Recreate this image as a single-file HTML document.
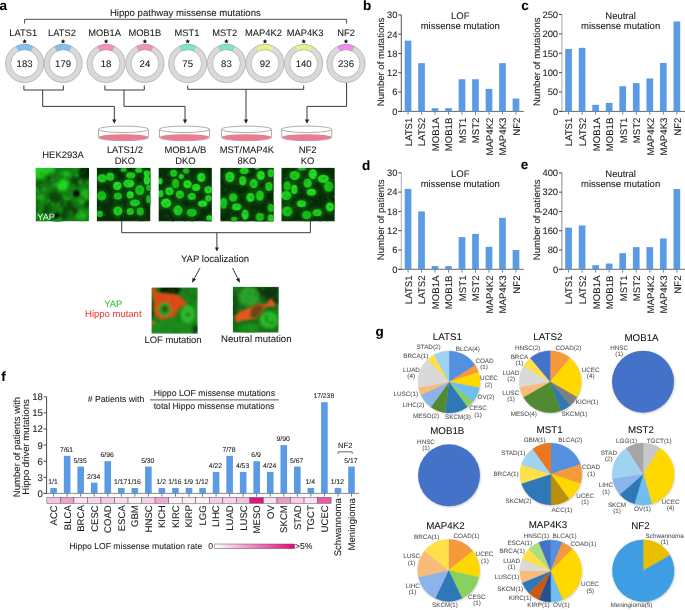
<!DOCTYPE html>
<html><head><meta charset="utf-8"><style>
html,body{margin:0;padding:0;background:#fff;overflow:hidden;}
svg{display:block;will-change:transform;}
text{font-family:"Liberation Sans",sans-serif;text-rendering:geometricPrecision;}
</style></head><body>
<svg width="685" height="610" viewBox="0 0 685 610">
<rect width="685" height="610" fill="#fff"/>
<text x="-0.60" y="9.80" font-size="13.5" text-anchor="start" fill="#000" stroke="#000" stroke-width="0.12" stroke-opacity="0.6" font-weight="bold">a</text>
<text x="185.35" y="16.20" font-size="9.6" text-anchor="middle" fill="#1a1a1a" stroke="#1a1a1a" stroke-width="0.12" stroke-opacity="0.6">Hippo pathway missense mutations</text>
<path d="M24.6,23.6 V19.3 H346.6 V23.6" stroke="#3a3a3a" stroke-width="0.9" fill="none"/>
<text x="23.20" y="36.30" font-size="9.35" text-anchor="middle" fill="#1a1a1a" stroke="#1a1a1a" stroke-width="0.12" stroke-opacity="0.6">LATS1</text>
<polygon points="24.60,38.90 25.22,40.55 26.98,40.63 25.60,41.72 26.07,43.42 24.60,42.45 23.13,43.42 23.60,41.72 22.22,40.63 23.98,40.55" fill="#111"/>
<circle cx="24.6" cy="63.5" r="16.48" fill="none" stroke="#d9d9d9" stroke-width="5.75"/>
<path d="M15.82,46.26 A19.35,19.35 0 0 1 33.38,46.26 L30.77,51.38 A13.6,13.6 0 0 0 18.43,51.38 Z" fill="#82c2f0"/>
<circle cx="24.6" cy="63.5" r="19.1" fill="none" stroke="#9a9a9a" stroke-width="0.5"/>
<circle cx="24.6" cy="63.5" r="13.85" fill="none" stroke="#9a9a9a" stroke-width="0.5"/>
<text x="24.60" y="66.60" font-size="9.6" text-anchor="middle" fill="#1a1a1a" stroke="#1a1a1a" stroke-width="0.12" stroke-opacity="0.6">183</text>
<text x="62.00" y="36.30" font-size="9.35" text-anchor="middle" fill="#1a1a1a" stroke="#1a1a1a" stroke-width="0.12" stroke-opacity="0.6">LATS2</text>
<polygon points="63.10,38.90 63.72,40.55 65.48,40.63 64.10,41.72 64.57,43.42 63.10,42.45 61.63,43.42 62.10,41.72 60.72,40.63 62.48,40.55" fill="#111"/>
<circle cx="63.1" cy="63.5" r="16.48" fill="none" stroke="#d9d9d9" stroke-width="5.75"/>
<path d="M54.32,46.26 A19.35,19.35 0 0 1 71.88,46.26 L69.27,51.38 A13.6,13.6 0 0 0 56.93,51.38 Z" fill="#82c2f0"/>
<circle cx="63.1" cy="63.5" r="19.1" fill="none" stroke="#9a9a9a" stroke-width="0.5"/>
<circle cx="63.1" cy="63.5" r="13.85" fill="none" stroke="#9a9a9a" stroke-width="0.5"/>
<text x="63.10" y="66.60" font-size="9.6" text-anchor="middle" fill="#1a1a1a" stroke="#1a1a1a" stroke-width="0.12" stroke-opacity="0.6">179</text>
<text x="104.60" y="36.30" font-size="9.35" text-anchor="middle" fill="#1a1a1a" stroke="#1a1a1a" stroke-width="0.12" stroke-opacity="0.6">MOB1A</text>
<polygon points="106.10,38.90 106.72,40.55 108.48,40.63 107.10,41.72 107.57,43.42 106.10,42.45 104.63,43.42 105.10,41.72 103.72,40.63 105.48,40.55" fill="#111"/>
<circle cx="106.1" cy="63.5" r="16.48" fill="none" stroke="#d9d9d9" stroke-width="5.75"/>
<path d="M97.32,46.26 A19.35,19.35 0 0 1 114.88,46.26 L112.27,51.38 A13.6,13.6 0 0 0 99.93,51.38 Z" fill="#f291bd"/>
<circle cx="106.1" cy="63.5" r="19.1" fill="none" stroke="#9a9a9a" stroke-width="0.5"/>
<circle cx="106.1" cy="63.5" r="13.85" fill="none" stroke="#9a9a9a" stroke-width="0.5"/>
<text x="106.10" y="66.60" font-size="9.6" text-anchor="middle" fill="#1a1a1a" stroke="#1a1a1a" stroke-width="0.12" stroke-opacity="0.6">18</text>
<text x="144.85" y="36.30" font-size="9.35" text-anchor="middle" fill="#1a1a1a" stroke="#1a1a1a" stroke-width="0.12" stroke-opacity="0.6">MOB1B</text>
<polygon points="144.90,38.90 145.52,40.55 147.28,40.63 145.90,41.72 146.37,43.42 144.90,42.45 143.43,43.42 143.90,41.72 142.52,40.63 144.28,40.55" fill="#111"/>
<circle cx="144.9" cy="63.5" r="16.48" fill="none" stroke="#d9d9d9" stroke-width="5.75"/>
<path d="M136.12,46.26 A19.35,19.35 0 0 1 153.68,46.26 L151.07,51.38 A13.6,13.6 0 0 0 138.73,51.38 Z" fill="#f291bd"/>
<circle cx="144.9" cy="63.5" r="19.1" fill="none" stroke="#9a9a9a" stroke-width="0.5"/>
<circle cx="144.9" cy="63.5" r="13.85" fill="none" stroke="#9a9a9a" stroke-width="0.5"/>
<text x="144.90" y="66.60" font-size="9.6" text-anchor="middle" fill="#1a1a1a" stroke="#1a1a1a" stroke-width="0.12" stroke-opacity="0.6">24</text>
<text x="187.00" y="36.30" font-size="9.35" text-anchor="middle" fill="#1a1a1a" stroke="#1a1a1a" stroke-width="0.12" stroke-opacity="0.6">MST1</text>
<polygon points="187.70,38.90 188.32,40.55 190.08,40.63 188.70,41.72 189.17,43.42 187.70,42.45 186.23,43.42 186.70,41.72 185.32,40.63 187.08,40.55" fill="#111"/>
<circle cx="187.7" cy="63.5" r="16.48" fill="none" stroke="#d9d9d9" stroke-width="5.75"/>
<path d="M178.92,46.26 A19.35,19.35 0 0 1 196.48,46.26 L193.87,51.38 A13.6,13.6 0 0 0 181.53,51.38 Z" fill="#7fe3c4"/>
<circle cx="187.7" cy="63.5" r="19.1" fill="none" stroke="#9a9a9a" stroke-width="0.5"/>
<circle cx="187.7" cy="63.5" r="13.85" fill="none" stroke="#9a9a9a" stroke-width="0.5"/>
<text x="187.70" y="66.60" font-size="9.6" text-anchor="middle" fill="#1a1a1a" stroke="#1a1a1a" stroke-width="0.12" stroke-opacity="0.6">75</text>
<text x="224.70" y="36.30" font-size="9.35" text-anchor="middle" fill="#1a1a1a" stroke="#1a1a1a" stroke-width="0.12" stroke-opacity="0.6">MST2</text>
<polygon points="226.40,38.90 227.02,40.55 228.78,40.63 227.40,41.72 227.87,43.42 226.40,42.45 224.93,43.42 225.40,41.72 224.02,40.63 225.78,40.55" fill="#111"/>
<circle cx="226.4" cy="63.5" r="16.48" fill="none" stroke="#d9d9d9" stroke-width="5.75"/>
<path d="M217.62,46.26 A19.35,19.35 0 0 1 235.18,46.26 L232.57,51.38 A13.6,13.6 0 0 0 220.23,51.38 Z" fill="#7fe3c4"/>
<circle cx="226.4" cy="63.5" r="19.1" fill="none" stroke="#9a9a9a" stroke-width="0.5"/>
<circle cx="226.4" cy="63.5" r="13.85" fill="none" stroke="#9a9a9a" stroke-width="0.5"/>
<text x="226.40" y="66.60" font-size="9.6" text-anchor="middle" fill="#1a1a1a" stroke="#1a1a1a" stroke-width="0.12" stroke-opacity="0.6">83</text>
<text x="263.40" y="36.30" font-size="9.35" text-anchor="middle" fill="#1a1a1a" stroke="#1a1a1a" stroke-width="0.12" stroke-opacity="0.6">MAP4K2</text>
<polygon points="265.00,38.90 265.62,40.55 267.38,40.63 266.00,41.72 266.47,43.42 265.00,42.45 263.53,43.42 264.00,41.72 262.62,40.63 264.38,40.55" fill="#111"/>
<circle cx="265.0" cy="63.5" r="16.48" fill="none" stroke="#d9d9d9" stroke-width="5.75"/>
<path d="M256.22,46.26 A19.35,19.35 0 0 1 273.78,46.26 L271.17,51.38 A13.6,13.6 0 0 0 258.83,51.38 Z" fill="#eaf08c"/>
<circle cx="265.0" cy="63.5" r="19.1" fill="none" stroke="#9a9a9a" stroke-width="0.5"/>
<circle cx="265.0" cy="63.5" r="13.85" fill="none" stroke="#9a9a9a" stroke-width="0.5"/>
<text x="265.00" y="66.60" font-size="9.6" text-anchor="middle" fill="#1a1a1a" stroke="#1a1a1a" stroke-width="0.12" stroke-opacity="0.6">92</text>
<text x="305.10" y="36.30" font-size="9.35" text-anchor="middle" fill="#1a1a1a" stroke="#1a1a1a" stroke-width="0.12" stroke-opacity="0.6">MAP4K3</text>
<polygon points="303.70,38.90 304.32,40.55 306.08,40.63 304.70,41.72 305.17,43.42 303.70,42.45 302.23,43.42 302.70,41.72 301.32,40.63 303.08,40.55" fill="#111"/>
<circle cx="303.7" cy="63.5" r="16.48" fill="none" stroke="#d9d9d9" stroke-width="5.75"/>
<path d="M294.92,46.26 A19.35,19.35 0 0 1 312.48,46.26 L309.87,51.38 A13.6,13.6 0 0 0 297.53,51.38 Z" fill="#eaf08c"/>
<circle cx="303.7" cy="63.5" r="19.1" fill="none" stroke="#9a9a9a" stroke-width="0.5"/>
<circle cx="303.7" cy="63.5" r="13.85" fill="none" stroke="#9a9a9a" stroke-width="0.5"/>
<text x="303.70" y="66.60" font-size="9.6" text-anchor="middle" fill="#1a1a1a" stroke="#1a1a1a" stroke-width="0.12" stroke-opacity="0.6">140</text>
<text x="346.20" y="36.30" font-size="9.35" text-anchor="middle" fill="#1a1a1a" stroke="#1a1a1a" stroke-width="0.12" stroke-opacity="0.6">NF2</text>
<polygon points="346.00,38.90 346.62,40.55 348.38,40.63 347.00,41.72 347.47,43.42 346.00,42.45 344.53,43.42 345.00,41.72 343.62,40.63 345.38,40.55" fill="#111"/>
<circle cx="346.0" cy="63.5" r="16.48" fill="none" stroke="#d9d9d9" stroke-width="5.75"/>
<path d="M337.22,46.26 A19.35,19.35 0 0 1 354.78,46.26 L352.17,51.38 A13.6,13.6 0 0 0 339.83,51.38 Z" fill="#ef8cef"/>
<circle cx="346.0" cy="63.5" r="19.1" fill="none" stroke="#9a9a9a" stroke-width="0.5"/>
<circle cx="346.0" cy="63.5" r="13.85" fill="none" stroke="#9a9a9a" stroke-width="0.5"/>
<text x="346.00" y="66.60" font-size="9.6" text-anchor="middle" fill="#1a1a1a" stroke="#1a1a1a" stroke-width="0.12" stroke-opacity="0.6">236</text>
<path d="M23.9,85.5 V90.0 H63.4 V85.5" stroke="#3a3a3a" stroke-width="1" fill="none"/>
<path d="M42.7,90.0 V106.4 H114.3 V120" stroke="#3a3a3a" stroke-width="1" fill="none"/>
<polygon points="112.20,119.60 116.40,119.60 114.30,123.80" fill="#222"/>
<path d="M104.9,85.5 V90.0 H144.3 V85.5" stroke="#3a3a3a" stroke-width="1" fill="none"/>
<path d="M124.0,90.0 V106.4 H185 V120" stroke="#3a3a3a" stroke-width="1" fill="none"/>
<polygon points="182.90,119.60 187.10,119.60 185.00,123.80" fill="#222"/>
<path d="M187.7,85.5 V89.3 H303.7 V85.5" stroke="#3a3a3a" stroke-width="1" fill="none"/>
<path d="M246,89.3 V120" stroke="#3a3a3a" stroke-width="1" fill="none"/>
<polygon points="243.90,119.60 248.10,119.60 246.00,123.80" fill="#222"/>
<path d="M346.6,82.8 V106.4 H307 V120" stroke="#3a3a3a" stroke-width="1" fill="none"/>
<polygon points="304.90,119.60 309.10,119.60 307.00,123.80" fill="#222"/>
<path d="M98.5,129.3 V137.5 A25,3.2 0 0 0 148.5,137.5 V129.3" fill="#fff" stroke="#777" stroke-width="0.6"/>
<path d="M98.9,137.2 A24.6,3.0 0 0 1 148.1,137.2 A24.6,3.2 0 0 1 98.9,137.2 Z" fill="#ea7b91"/>
<ellipse cx="123.5" cy="129.3" rx="25" ry="3.2" fill="#fff" stroke="#777" stroke-width="0.6"/>
<path d="M159.5,129.3 V137.5 A25,3.2 0 0 0 209.5,137.5 V129.3" fill="#fff" stroke="#777" stroke-width="0.6"/>
<path d="M159.9,137.2 A24.6,3.0 0 0 1 209.1,137.2 A24.6,3.2 0 0 1 159.9,137.2 Z" fill="#ea7b91"/>
<ellipse cx="184.5" cy="129.3" rx="25" ry="3.2" fill="#fff" stroke="#777" stroke-width="0.6"/>
<path d="M221.5,129.3 V137.5 A25,3.2 0 0 0 271.5,137.5 V129.3" fill="#fff" stroke="#777" stroke-width="0.6"/>
<path d="M221.9,137.2 A24.6,3.0 0 0 1 271.1,137.2 A24.6,3.2 0 0 1 221.9,137.2 Z" fill="#ea7b91"/>
<ellipse cx="246.5" cy="129.3" rx="25" ry="3.2" fill="#fff" stroke="#777" stroke-width="0.6"/>
<path d="M281.7,129.3 V137.5 A25,3.2 0 0 0 331.7,137.5 V129.3" fill="#fff" stroke="#777" stroke-width="0.6"/>
<path d="M282.09999999999997,137.2 A24.6,3.0 0 0 1 331.3,137.2 A24.6,3.2 0 0 1 282.09999999999997,137.2 Z" fill="#ea7b91"/>
<ellipse cx="306.7" cy="129.3" rx="25" ry="3.2" fill="#fff" stroke="#777" stroke-width="0.6"/>
<text x="63.00" y="158.00" font-size="9.45" text-anchor="middle" fill="#1a1a1a" stroke="#1a1a1a" stroke-width="0.12" stroke-opacity="0.6">HEK293A</text>
<text x="124.90" y="153.00" font-size="9.45" text-anchor="middle" fill="#1a1a1a" stroke="#1a1a1a" stroke-width="0.12" stroke-opacity="0.6">LATS1/2</text>
<text x="124.90" y="163.60" font-size="9.45" text-anchor="middle" fill="#1a1a1a" stroke="#1a1a1a" stroke-width="0.12" stroke-opacity="0.6">DKO</text>
<text x="185.40" y="153.00" font-size="9.45" text-anchor="middle" fill="#1a1a1a" stroke="#1a1a1a" stroke-width="0.12" stroke-opacity="0.6">MOB1A/B</text>
<text x="185.40" y="163.60" font-size="9.45" text-anchor="middle" fill="#1a1a1a" stroke="#1a1a1a" stroke-width="0.12" stroke-opacity="0.6">DKO</text>
<text x="246.90" y="153.00" font-size="9.45" text-anchor="middle" fill="#1a1a1a" stroke="#1a1a1a" stroke-width="0.12" stroke-opacity="0.6">MST/MAP4K</text>
<text x="246.90" y="163.60" font-size="9.45" text-anchor="middle" fill="#1a1a1a" stroke="#1a1a1a" stroke-width="0.12" stroke-opacity="0.6">8KO</text>
<text x="307.60" y="153.00" font-size="9.45" text-anchor="middle" fill="#1a1a1a" stroke="#1a1a1a" stroke-width="0.12" stroke-opacity="0.6">NF2</text>
<text x="307.60" y="163.60" font-size="9.45" text-anchor="middle" fill="#1a1a1a" stroke="#1a1a1a" stroke-width="0.12" stroke-opacity="0.6">KO</text>
<defs><radialGradient id="nuc" cx="50%" cy="50%" r="50%"><stop offset="0" stop-color="#2ee82e"/><stop offset="0.75" stop-color="#22d022"/><stop offset="1" stop-color="#1a9a1a" stop-opacity="0.6"/></radialGradient><filter id="blur1" x="-20%" y="-20%" width="140%" height="140%"><feGaussianBlur stdDeviation="0.6"/></filter><filter id="blur2" x="-20%" y="-20%" width="140%" height="140%"><feGaussianBlur stdDeviation="1.5"/></filter><filter id="blur15" x="-20%" y="-20%" width="140%" height="140%"><feGaussianBlur stdDeviation="1.1"/></filter><filter id="blur08" x="-20%" y="-20%" width="140%" height="140%"><feGaussianBlur stdDeviation="0.8"/></filter><filter id="blur06" x="-20%" y="-20%" width="140%" height="140%"><feGaussianBlur stdDeviation="0.55"/></filter><filter id="shadow" x="-20%" y="-20%" width="140%" height="140%"><feGaussianBlur stdDeviation="1.1"/></filter><linearGradient id="hm" x1="0" x2="1" y1="0" y2="0"><stop offset="0" stop-color="#ffffff"/><stop offset="1" stop-color="#e0097a"/></linearGradient></defs>
<svg x="35.6" y="167.9" width="53.3" height="53.3" viewBox="0 0 53.3 53.3" overflow="hidden">
<rect width="53.3" height="53.3" fill="#137a13"/>
<g filter="url(#blur2)">
<circle cx="4" cy="4" r="7" fill="#22d022"/>
<circle cx="14" cy="2" r="5" fill="#20c820"/>
<circle cx="27" cy="17" r="6" fill="#24d424"/>
<circle cx="31" cy="6" r="4" fill="#1cb81c"/>
<circle cx="5" cy="30" r="4" fill="#1aa81a"/>
<circle cx="49" cy="25" r="4" fill="#1cb41c"/>
<circle cx="47" cy="47" r="5" fill="#1aa81a"/>
<circle cx="22" cy="52" r="4" fill="#168c16"/>
<circle cx="50" cy="5" r="7" fill="#062806"/>
<circle cx="40" cy="13" r="5" fill="#0a440a"/>
<circle cx="19" cy="30" r="7" fill="#0a4a0a"/>
<circle cx="31" cy="37" r="6" fill="#0a460a"/>
<circle cx="11" cy="42" r="5" fill="#0c4e0c"/>
<circle cx="38" cy="43" r="4" fill="#093e09"/>
<circle cx="4" cy="16" r="4" fill="#0e5a0e"/>
<circle cx="52" cy="36" r="4" fill="#0c4c0c"/>
<circle cx="28" cy="47" r="5" fill="#0b480b"/>
<circle cx="16" cy="10" r="3" fill="#0f600f"/>
<circle cx="44" cy="33" r="3" fill="#18a018"/>
<circle cx="8" cy="50" r="3" fill="#18a018"/>
</g>
<g filter="url(#blur08)" opacity="0.55">
<circle cx="12.6" cy="28.8" r="1.4" fill="#168816"/>
<circle cx="25.1" cy="30.8" r="1.7" fill="#0c4a0c"/>
<circle cx="13.7" cy="12.4" r="2.2" fill="#0c4a0c"/>
<circle cx="28.7" cy="29.1" r="1.4" fill="#22c022"/>
<circle cx="12.3" cy="8.0" r="2.1" fill="#0c4a0c"/>
<circle cx="39.3" cy="35.6" r="1.0" fill="#168816"/>
<circle cx="2.3" cy="41.3" r="2.0" fill="#0a3e0a"/>
<circle cx="25.1" cy="38.1" r="2.0" fill="#0c4a0c"/>
<circle cx="20.9" cy="42.4" r="1.5" fill="#22c022"/>
<circle cx="46.6" cy="5.2" r="1.1" fill="#22c022"/>
<circle cx="13.7" cy="35.6" r="1.9" fill="#0a3e0a"/>
<circle cx="22.3" cy="44.2" r="1.6" fill="#168816"/>
<circle cx="31.0" cy="31.0" r="2.1" fill="#2ad82a"/>
<circle cx="45.4" cy="52.5" r="1.8" fill="#22c022"/>
<circle cx="37.0" cy="17.3" r="1.6" fill="#168816"/>
<circle cx="30.2" cy="37.8" r="1.2" fill="#168816"/>
<circle cx="14.2" cy="6.6" r="1.5" fill="#0c4a0c"/>
<circle cx="4.7" cy="42.4" r="1.4" fill="#22c022"/>
<circle cx="1.1" cy="22.6" r="1.4" fill="#2ad82a"/>
<circle cx="2.3" cy="32.6" r="1.0" fill="#168816"/>
<circle cx="17.5" cy="46.7" r="2.2" fill="#168816"/>
<circle cx="12.5" cy="1.9" r="0.9" fill="#2ad82a"/>
<circle cx="31.8" cy="1.7" r="1.2" fill="#0c4a0c"/>
<circle cx="15.5" cy="14.0" r="1.8" fill="#0a3e0a"/>
<circle cx="16.6" cy="50.8" r="2.1" fill="#0c4a0c"/>
<circle cx="20.0" cy="46.1" r="1.4" fill="#168816"/>
<circle cx="36.1" cy="5.4" r="2.2" fill="#168816"/>
<circle cx="14.4" cy="33.6" r="1.8" fill="#0a3e0a"/>
<circle cx="23.2" cy="13.7" r="1.3" fill="#0a3e0a"/>
<circle cx="0.6" cy="22.0" r="1.7" fill="#2ad82a"/>
<circle cx="20.0" cy="31.2" r="1.1" fill="#0a3e0a"/>
<circle cx="24.7" cy="36.0" r="1.4" fill="#0a3e0a"/>
<circle cx="39.1" cy="1.2" r="1.0" fill="#2ad82a"/>
<circle cx="51.1" cy="13.3" r="1.5" fill="#168816"/>
<circle cx="31.9" cy="9.4" r="1.1" fill="#0a3e0a"/>
<circle cx="44.7" cy="14.0" r="1.9" fill="#2ad82a"/>
<circle cx="40.9" cy="1.4" r="1.6" fill="#22c022"/>
<circle cx="16.4" cy="11.8" r="1.9" fill="#22c022"/>
<circle cx="17.4" cy="35.9" r="1.7" fill="#2ad82a"/>
<circle cx="5.4" cy="17.1" r="1.3" fill="#22c022"/>
<circle cx="23.2" cy="45.3" r="1.1" fill="#0a3e0a"/>
<circle cx="39.3" cy="11.6" r="1.6" fill="#0a3e0a"/>
<circle cx="11.9" cy="6.4" r="1.6" fill="#22c022"/>
<circle cx="16.7" cy="44.3" r="1.6" fill="#0a3e0a"/>
<circle cx="18.0" cy="43.9" r="1.0" fill="#168816"/>
<circle cx="18.3" cy="6.9" r="1.3" fill="#0a3e0a"/>
<circle cx="24.6" cy="33.6" r="1.3" fill="#168816"/>
<circle cx="21.7" cy="48.8" r="1.1" fill="#2ad82a"/>
<circle cx="25.3" cy="44.1" r="1.7" fill="#168816"/>
<circle cx="23.0" cy="50.4" r="2.1" fill="#22c022"/>
<circle cx="1.7" cy="24.2" r="1.9" fill="#168816"/>
<circle cx="51.1" cy="28.8" r="2.1" fill="#2ad82a"/>
<circle cx="45.5" cy="51.5" r="1.1" fill="#22c022"/>
<circle cx="2.4" cy="47.9" r="1.8" fill="#22c022"/>
<circle cx="47.5" cy="47.7" r="1.7" fill="#2ad82a"/>
<circle cx="25.5" cy="6.4" r="1.6" fill="#22c022"/>
<circle cx="35.1" cy="27.8" r="1.4" fill="#168816"/>
<circle cx="6.0" cy="6.6" r="2.2" fill="#168816"/>
<circle cx="25.3" cy="41.5" r="1.4" fill="#22c022"/>
<circle cx="6.5" cy="47.0" r="1.1" fill="#22c022"/>
<circle cx="42.0" cy="48.9" r="1.9" fill="#2ad82a"/>
<circle cx="25.8" cy="30.3" r="1.4" fill="#0a3e0a"/>
<circle cx="13.2" cy="32.8" r="1.6" fill="#2ad82a"/>
<circle cx="25.1" cy="41.2" r="0.9" fill="#2ad82a"/>
<circle cx="41.1" cy="2.4" r="1.0" fill="#0c4a0c"/>
<circle cx="51.7" cy="45.3" r="1.0" fill="#168816"/>
<circle cx="26.0" cy="8.3" r="1.0" fill="#0c4a0c"/>
<circle cx="34.3" cy="31.1" r="1.4" fill="#22c022"/>
<circle cx="52.4" cy="22.7" r="1.1" fill="#2ad82a"/>
<circle cx="38.0" cy="20.2" r="1.0" fill="#22c022"/>
<circle cx="2.3" cy="24.4" r="1.7" fill="#168816"/>
<circle cx="20.2" cy="42.5" r="1.7" fill="#0c4a0c"/>
<circle cx="2.8" cy="33.3" r="1.9" fill="#0a3e0a"/>
<circle cx="22.3" cy="36.8" r="1.5" fill="#22c022"/>
<circle cx="11.6" cy="14.3" r="1.7" fill="#0c4a0c"/>
<circle cx="11.9" cy="6.9" r="0.9" fill="#0a3e0a"/>
<circle cx="19.8" cy="47.6" r="1.9" fill="#0a3e0a"/>
<circle cx="6.4" cy="36.6" r="2.1" fill="#168816"/>
<circle cx="42.0" cy="35.4" r="1.9" fill="#168816"/>
<circle cx="28.2" cy="43.0" r="1.8" fill="#0c4a0c"/>
<circle cx="7.6" cy="41.0" r="1.0" fill="#2ad82a"/>
<circle cx="29.9" cy="34.9" r="1.4" fill="#2ad82a"/>
<circle cx="18.1" cy="45.2" r="0.9" fill="#2ad82a"/>
<circle cx="35.7" cy="44.3" r="2.1" fill="#168816"/>
<circle cx="15.9" cy="4.7" r="2.2" fill="#168816"/>
<circle cx="27.1" cy="37.9" r="1.0" fill="#2ad82a"/>
<circle cx="49.5" cy="3.2" r="1.3" fill="#168816"/>
<circle cx="9.6" cy="4.1" r="2.2" fill="#22c022"/>
<circle cx="24.1" cy="37.1" r="2.1" fill="#0a3e0a"/>
<circle cx="19.5" cy="21.0" r="1.4" fill="#0c4a0c"/>
<circle cx="51.2" cy="19.9" r="1.2" fill="#0c4a0c"/>
<circle cx="44.7" cy="51.3" r="1.4" fill="#168816"/>
<circle cx="40.1" cy="35.7" r="1.6" fill="#0c4a0c"/>
<circle cx="8.3" cy="21.3" r="2.1" fill="#22c022"/>
<circle cx="5.1" cy="39.7" r="2.1" fill="#168816"/>
<circle cx="50.4" cy="31.1" r="2.0" fill="#22c022"/>
<circle cx="14.2" cy="10.6" r="1.7" fill="#0a3e0a"/>
<circle cx="49.5" cy="45.1" r="1.6" fill="#0a3e0a"/>
<circle cx="35.6" cy="45.3" r="1.7" fill="#168816"/>
<circle cx="31.0" cy="14.2" r="1.2" fill="#2ad82a"/>
<circle cx="14.2" cy="42.6" r="1.2" fill="#168816"/>
<circle cx="19.1" cy="17.1" r="1.9" fill="#22c022"/>
<circle cx="22.2" cy="37.0" r="1.8" fill="#22c022"/>
<circle cx="24.8" cy="44.2" r="2.0" fill="#168816"/>
<circle cx="1.5" cy="52.6" r="1.0" fill="#0c4a0c"/>
<circle cx="41.5" cy="46.7" r="1.0" fill="#22c022"/>
<circle cx="47.2" cy="34.4" r="1.9" fill="#2ad82a"/>
<circle cx="50.8" cy="45.3" r="1.2" fill="#22c022"/>
<circle cx="41.1" cy="7.3" r="1.7" fill="#2ad82a"/>
<circle cx="47.7" cy="13.5" r="2.0" fill="#0a3e0a"/>
</g>
<g filter="url(#blur08)">
<ellipse cx="40.7" cy="25.7" rx="2.9" ry="3.3" fill="#000"/>
<ellipse cx="21.2" cy="47.8" rx="2.6" ry="2.6" fill="#021202"/>
</g>
<text x="1.6" y="51.9" font-size="9.2" fill="#e8f5e8">YAP</text>
</svg>
<svg x="96.9" y="167.9" width="53.3" height="53.3" viewBox="0 0 53.3 53.3" overflow="hidden">
<rect width="53.3" height="53.3" fill="#072c07"/>
<g filter="url(#blur2)">
<ellipse cx="5.2" cy="10.3" rx="7.3" ry="6.5" fill="#125c12" opacity="0.7"/>
<ellipse cx="13.3" cy="8.8" rx="6.5" ry="6.5" fill="#125c12" opacity="0.7"/>
<ellipse cx="33.8" cy="7.4" rx="7.3" ry="4.9" fill="#125c12" opacity="0.7"/>
<ellipse cx="41.8" cy="2.2" rx="5.6" ry="4.1" fill="#125c12" opacity="0.7"/>
<ellipse cx="26.6" cy="1.7" rx="4.9" ry="3.2" fill="#125c12" opacity="0.7"/>
<ellipse cx="49.9" cy="5.5" rx="4.9" ry="4.9" fill="#125c12" opacity="0.7"/>
<ellipse cx="49.9" cy="12.2" rx="4.9" ry="7.3" fill="#125c12" opacity="0.7"/>
<ellipse cx="20.4" cy="17.9" rx="6.5" ry="6.5" fill="#125c12" opacity="0.7"/>
<ellipse cx="31.9" cy="15.5" rx="8.8" ry="6.5" fill="#125c12" opacity="0.7"/>
<ellipse cx="42.8" cy="22.2" rx="7.3" ry="8.2" fill="#125c12" opacity="0.7"/>
<ellipse cx="4.8" cy="27.9" rx="7.3" ry="7.3" fill="#125c12" opacity="0.7"/>
<ellipse cx="20.9" cy="28.3" rx="6.5" ry="5.6" fill="#125c12" opacity="0.7"/>
<ellipse cx="33.3" cy="26.9" rx="5.6" ry="5.6" fill="#125c12" opacity="0.7"/>
<ellipse cx="38" cy="35" rx="8.2" ry="5.6" fill="#125c12" opacity="0.7"/>
<ellipse cx="20.9" cy="43.1" rx="7.3" ry="7.3" fill="#125c12" opacity="0.7"/>
<ellipse cx="33.3" cy="43.5" rx="5.6" ry="5.6" fill="#125c12" opacity="0.7"/>
<ellipse cx="43.3" cy="43.5" rx="5.6" ry="6.5" fill="#125c12" opacity="0.7"/>
<ellipse cx="2.9" cy="45.9" rx="4.9" ry="4.9" fill="#125c12" opacity="0.7"/>
<ellipse cx="51.3" cy="31.2" rx="3.2" ry="6.5" fill="#125c12" opacity="0.7"/>
<ellipse cx="51.3" cy="19.8" rx="3.2" ry="4.9" fill="#125c12" opacity="0.7"/>
</g>
<g filter="url(#blur06)" opacity="0.6">
<circle cx="17.3" cy="8.0" r="1.0" fill="#0f4e0f"/>
<circle cx="43.8" cy="5.0" r="1.0" fill="#146414"/>
<circle cx="2.0" cy="23.1" r="0.6" fill="#0f4e0f"/>
<circle cx="29.4" cy="3.2" r="1.0" fill="#146414"/>
<circle cx="33.6" cy="31.1" r="0.5" fill="#0a3a0a"/>
<circle cx="2.6" cy="11.8" r="0.9" fill="#146414"/>
<circle cx="15.4" cy="7.7" r="0.6" fill="#041c04"/>
<circle cx="29.9" cy="36.4" r="0.6" fill="#146414"/>
<circle cx="19.8" cy="29.2" r="0.6" fill="#0f4e0f"/>
<circle cx="33.0" cy="26.5" r="0.9" fill="#041c04"/>
<circle cx="24.8" cy="49.2" r="0.8" fill="#146414"/>
<circle cx="42.3" cy="37.3" r="0.7" fill="#041c04"/>
<circle cx="28.0" cy="46.6" r="1.1" fill="#041c04"/>
<circle cx="32.5" cy="3.9" r="0.9" fill="#146414"/>
<circle cx="40.4" cy="8.1" r="0.9" fill="#0f4e0f"/>
<circle cx="51.3" cy="4.1" r="0.9" fill="#041c04"/>
<circle cx="18.1" cy="18.7" r="0.9" fill="#0a3a0a"/>
<circle cx="3.7" cy="5.0" r="0.7" fill="#0f4e0f"/>
<circle cx="3.2" cy="37.4" r="1.0" fill="#0a3a0a"/>
<circle cx="15.2" cy="20.6" r="1.0" fill="#0f4e0f"/>
<circle cx="50.1" cy="18.9" r="1.0" fill="#0a3a0a"/>
<circle cx="3.1" cy="40.9" r="0.6" fill="#146414"/>
<circle cx="21.2" cy="48.9" r="0.9" fill="#146414"/>
<circle cx="23.9" cy="29.3" r="1.2" fill="#0a3a0a"/>
<circle cx="46.1" cy="14.8" r="0.8" fill="#041c04"/>
<circle cx="36.4" cy="20.3" r="0.7" fill="#0f4e0f"/>
<circle cx="9.4" cy="12.4" r="0.7" fill="#0a3a0a"/>
<circle cx="44.3" cy="9.7" r="0.7" fill="#146414"/>
<circle cx="22.3" cy="19.7" r="1.0" fill="#146414"/>
<circle cx="36.8" cy="27.5" r="1.0" fill="#0f4e0f"/>
<circle cx="24.3" cy="46.4" r="1.3" fill="#0a3a0a"/>
<circle cx="21.2" cy="21.0" r="0.9" fill="#0a3a0a"/>
<circle cx="3.3" cy="3.6" r="0.7" fill="#146414"/>
<circle cx="5.9" cy="32.0" r="0.6" fill="#146414"/>
<circle cx="28.6" cy="50.6" r="1.0" fill="#0f4e0f"/>
<circle cx="46.6" cy="32.7" r="0.6" fill="#041c04"/>
<circle cx="50.9" cy="32.1" r="0.9" fill="#0f4e0f"/>
<circle cx="45.2" cy="52.9" r="0.9" fill="#0a3a0a"/>
<circle cx="16.6" cy="7.7" r="1.1" fill="#041c04"/>
<circle cx="25.5" cy="36.9" r="0.9" fill="#146414"/>
<circle cx="50.7" cy="28.2" r="0.6" fill="#0f4e0f"/>
<circle cx="40.4" cy="15.9" r="1.0" fill="#0f4e0f"/>
<circle cx="37.1" cy="13.9" r="0.8" fill="#146414"/>
<circle cx="19.0" cy="11.9" r="0.9" fill="#041c04"/>
<circle cx="33.9" cy="32.7" r="1.1" fill="#146414"/>
<circle cx="43.0" cy="43.6" r="1.1" fill="#146414"/>
<circle cx="10.7" cy="26.3" r="1.1" fill="#0f4e0f"/>
<circle cx="42.1" cy="25.2" r="0.7" fill="#041c04"/>
<circle cx="23.8" cy="49.9" r="1.3" fill="#041c04"/>
<circle cx="4.3" cy="5.4" r="0.9" fill="#041c04"/>
<circle cx="10.9" cy="33.3" r="1.2" fill="#0f4e0f"/>
<circle cx="25.6" cy="34.8" r="1.1" fill="#0f4e0f"/>
<circle cx="44.5" cy="6.4" r="0.8" fill="#146414"/>
<circle cx="25.5" cy="9.5" r="1.1" fill="#041c04"/>
<circle cx="4.6" cy="50.4" r="1.1" fill="#0a3a0a"/>
<circle cx="21.4" cy="50.5" r="1.1" fill="#146414"/>
<circle cx="52.9" cy="1.5" r="1.0" fill="#0a3a0a"/>
<circle cx="43.0" cy="7.8" r="1.2" fill="#0a3a0a"/>
<circle cx="35.0" cy="18.7" r="0.9" fill="#146414"/>
<circle cx="1.1" cy="42.6" r="1.1" fill="#0f4e0f"/>
<circle cx="28.1" cy="49.8" r="0.8" fill="#146414"/>
<circle cx="44.0" cy="11.2" r="0.7" fill="#041c04"/>
<circle cx="26.7" cy="40.7" r="0.8" fill="#0a3a0a"/>
<circle cx="44.5" cy="3.2" r="1.1" fill="#0a3a0a"/>
<circle cx="35.3" cy="43.4" r="0.9" fill="#146414"/>
<circle cx="28.3" cy="27.9" r="0.5" fill="#0a3a0a"/>
<circle cx="41.4" cy="32.4" r="1.1" fill="#146414"/>
<circle cx="9.2" cy="25.2" r="1.1" fill="#0f4e0f"/>
<circle cx="17.4" cy="27.6" r="0.9" fill="#0f4e0f"/>
<circle cx="47.1" cy="3.0" r="0.7" fill="#0f4e0f"/>
<circle cx="41.2" cy="27.1" r="0.9" fill="#0f4e0f"/>
<circle cx="23.6" cy="32.6" r="0.9" fill="#146414"/>
<circle cx="36.9" cy="24.1" r="0.9" fill="#0a3a0a"/>
<circle cx="27.1" cy="13.2" r="0.9" fill="#041c04"/>
<circle cx="49.2" cy="47.6" r="0.7" fill="#0a3a0a"/>
<circle cx="7.3" cy="6.5" r="0.9" fill="#0f4e0f"/>
<circle cx="35.8" cy="22.8" r="0.7" fill="#041c04"/>
<circle cx="41.8" cy="47.8" r="0.6" fill="#041c04"/>
<circle cx="7.6" cy="47.1" r="1.3" fill="#146414"/>
<circle cx="39.8" cy="5.0" r="1.2" fill="#146414"/>
<circle cx="52.8" cy="44.4" r="0.6" fill="#0a3a0a"/>
<circle cx="53.0" cy="21.5" r="0.8" fill="#041c04"/>
<circle cx="17.0" cy="38.5" r="0.5" fill="#0a3a0a"/>
<circle cx="23.5" cy="1.0" r="0.8" fill="#041c04"/>
<circle cx="27.3" cy="3.4" r="1.3" fill="#146414"/>
<circle cx="51.8" cy="5.6" r="0.7" fill="#0f4e0f"/>
<circle cx="48.3" cy="9.7" r="1.1" fill="#0a3a0a"/>
<circle cx="45.3" cy="36.0" r="1.3" fill="#0a3a0a"/>
<circle cx="8.0" cy="49.0" r="1.0" fill="#041c04"/>
<circle cx="4.8" cy="3.1" r="1.1" fill="#0a3a0a"/>
<circle cx="47.7" cy="14.3" r="0.5" fill="#0f4e0f"/>
<circle cx="42.7" cy="4.5" r="1.2" fill="#0f4e0f"/>
<circle cx="14.1" cy="6.5" r="0.5" fill="#0a3a0a"/>
<circle cx="49.4" cy="14.3" r="0.6" fill="#146414"/>
<circle cx="50.0" cy="51.7" r="0.7" fill="#146414"/>
<circle cx="10.8" cy="16.6" r="0.7" fill="#146414"/>
<circle cx="15.5" cy="26.7" r="0.6" fill="#041c04"/>
<circle cx="42.8" cy="53.0" r="0.5" fill="#0f4e0f"/>
<circle cx="39.1" cy="29.4" r="0.7" fill="#0a3a0a"/>
<circle cx="13.1" cy="23.8" r="1.0" fill="#0a3a0a"/>
<circle cx="35.0" cy="29.1" r="1.2" fill="#041c04"/>
<circle cx="36.7" cy="52.4" r="0.8" fill="#146414"/>
<circle cx="21.6" cy="18.5" r="0.5" fill="#146414"/>
<circle cx="0.8" cy="33.3" r="1.2" fill="#0a3a0a"/>
<circle cx="8.7" cy="4.5" r="1.2" fill="#041c04"/>
<circle cx="31.9" cy="36.9" r="0.5" fill="#146414"/>
<circle cx="8.4" cy="23.8" r="0.7" fill="#041c04"/>
<circle cx="51.8" cy="29.2" r="0.7" fill="#041c04"/>
<circle cx="11.6" cy="9.8" r="0.8" fill="#0f4e0f"/>
<circle cx="25.3" cy="26.8" r="0.7" fill="#0f4e0f"/>
<circle cx="4.8" cy="43.5" r="0.6" fill="#0f4e0f"/>
<circle cx="21.0" cy="16.0" r="1.0" fill="#0f4e0f"/>
<circle cx="31.2" cy="28.2" r="1.1" fill="#0a3a0a"/>
<circle cx="40.7" cy="38.4" r="0.9" fill="#041c04"/>
<circle cx="38.6" cy="34.3" r="0.5" fill="#0a3a0a"/>
<circle cx="39.1" cy="43.3" r="0.6" fill="#0f4e0f"/>
<circle cx="44.0" cy="31.1" r="1.2" fill="#146414"/>
<circle cx="4.5" cy="2.2" r="1.0" fill="#0f4e0f"/>
<circle cx="20.1" cy="24.1" r="0.5" fill="#0f4e0f"/>
<circle cx="33.4" cy="36.3" r="0.9" fill="#0f4e0f"/>
<circle cx="24.4" cy="3.7" r="1.2" fill="#0f4e0f"/>
<circle cx="35.1" cy="3.5" r="1.1" fill="#041c04"/>
<circle cx="43.1" cy="45.1" r="0.7" fill="#146414"/>
<circle cx="12.3" cy="34.6" r="0.9" fill="#0a3a0a"/>
<circle cx="4.1" cy="48.5" r="0.7" fill="#0f4e0f"/>
<circle cx="32.9" cy="34.3" r="0.6" fill="#146414"/>
<circle cx="17.7" cy="34.7" r="1.1" fill="#146414"/>
<circle cx="0.7" cy="3.2" r="0.7" fill="#0f4e0f"/>
<circle cx="36.9" cy="36.0" r="0.7" fill="#041c04"/>
<circle cx="24.8" cy="24.9" r="0.6" fill="#146414"/>
<circle cx="16.6" cy="4.6" r="0.9" fill="#041c04"/>
<circle cx="24.5" cy="43.7" r="1.3" fill="#0a3a0a"/>
<circle cx="53.0" cy="20.6" r="1.2" fill="#146414"/>
<circle cx="4.0" cy="4.8" r="1.1" fill="#041c04"/>
<circle cx="50.8" cy="7.1" r="1.2" fill="#041c04"/>
<circle cx="47.3" cy="37.5" r="0.7" fill="#0a3a0a"/>
<circle cx="21.0" cy="8.5" r="1.3" fill="#0a3a0a"/>
<circle cx="21.6" cy="38.8" r="0.8" fill="#0a3a0a"/>
<circle cx="16.8" cy="44.8" r="0.5" fill="#041c04"/>
<circle cx="44.7" cy="6.4" r="1.2" fill="#0f4e0f"/>
<circle cx="48.1" cy="15.4" r="0.8" fill="#0a3a0a"/>
<circle cx="20.8" cy="46.4" r="0.6" fill="#0a3a0a"/>
<circle cx="40.3" cy="45.5" r="0.7" fill="#0f4e0f"/>
<circle cx="44.5" cy="15.2" r="1.2" fill="#146414"/>
<circle cx="51.8" cy="23.3" r="0.8" fill="#041c04"/>
<circle cx="41.8" cy="22.8" r="0.5" fill="#0a3a0a"/>
<circle cx="48.7" cy="50.1" r="0.9" fill="#0f4e0f"/>
<circle cx="2.6" cy="39.0" r="0.9" fill="#146414"/>
<circle cx="34.4" cy="15.3" r="0.5" fill="#146414"/>
<circle cx="9.1" cy="22.1" r="0.7" fill="#041c04"/>
<circle cx="39.4" cy="52.0" r="0.7" fill="#146414"/>
<circle cx="16.0" cy="29.7" r="0.8" fill="#146414"/>
<circle cx="34.3" cy="4.0" r="0.9" fill="#0a3a0a"/>
<circle cx="29.3" cy="24.1" r="0.8" fill="#0a3a0a"/>
<circle cx="22.8" cy="29.2" r="0.7" fill="#146414"/>
<circle cx="18.2" cy="4.9" r="0.7" fill="#041c04"/>
<circle cx="43.1" cy="10.8" r="0.5" fill="#0a3a0a"/>
<circle cx="20.4" cy="39.8" r="0.7" fill="#041c04"/>
<circle cx="18.0" cy="3.3" r="0.7" fill="#041c04"/>
<circle cx="6.7" cy="26.8" r="1.0" fill="#146414"/>
</g>
<g filter="url(#blur06)">
<ellipse cx="5.2" cy="10.3" rx="4.60" ry="4.07" fill="#1ccc1c"/>
<circle cx="4.2" cy="9.3" r="0.8" fill="#139a13" opacity="0.7"/>
<circle cx="4.8" cy="10.1" r="0.8" fill="#139a13" opacity="0.7"/>
<circle cx="7.2" cy="11.6" r="0.8" fill="#139a13" opacity="0.7"/>
<ellipse cx="13.3" cy="8.8" rx="4.07" ry="4.07" fill="#1ccc1c"/>
<circle cx="11.9" cy="8.5" r="0.8" fill="#139a13" opacity="0.7"/>
<circle cx="14.3" cy="10.0" r="0.8" fill="#139a13" opacity="0.7"/>
<circle cx="15.1" cy="8.8" r="0.8" fill="#139a13" opacity="0.7"/>
<ellipse cx="33.8" cy="7.4" rx="4.60" ry="3.10" fill="#1ccc1c"/>
<circle cx="33.3" cy="8.6" r="0.6" fill="#139a13" opacity="0.7"/>
<circle cx="35.2" cy="8.4" r="0.6" fill="#139a13" opacity="0.7"/>
<circle cx="35.8" cy="6.7" r="0.6" fill="#139a13" opacity="0.7"/>
<ellipse cx="41.8" cy="2.2" rx="3.53" ry="2.57" fill="#1ccc1c"/>
<circle cx="40.9" cy="1.4" r="0.5" fill="#139a13" opacity="0.7"/>
<circle cx="43.4" cy="1.3" r="0.5" fill="#139a13" opacity="0.7"/>
<circle cx="42.9" cy="2.7" r="0.5" fill="#139a13" opacity="0.7"/>
<ellipse cx="26.6" cy="1.7" rx="3.10" ry="2.03" fill="#19c019"/>
<circle cx="25.4" cy="2.2" r="0.4" fill="#139a13" opacity="0.7"/>
<circle cx="25.2" cy="1.0" r="0.4" fill="#139a13" opacity="0.7"/>
<circle cx="26.8" cy="0.8" r="0.4" fill="#139a13" opacity="0.7"/>
<ellipse cx="49.9" cy="5.5" rx="3.10" ry="3.10" fill="#24de24"/>
<circle cx="51.2" cy="5.9" r="0.6" fill="#139a13" opacity="0.7"/>
<circle cx="50.0" cy="5.3" r="0.6" fill="#139a13" opacity="0.7"/>
<circle cx="50.7" cy="4.3" r="0.6" fill="#139a13" opacity="0.7"/>
<ellipse cx="49.9" cy="12.2" rx="3.10" ry="4.60" fill="#24de24"/>
<circle cx="50.0" cy="12.6" r="0.6" fill="#139a13" opacity="0.7"/>
<circle cx="49.6" cy="11.0" r="0.6" fill="#139a13" opacity="0.7"/>
<circle cx="50.2" cy="10.1" r="0.6" fill="#139a13" opacity="0.7"/>
<ellipse cx="20.4" cy="17.9" rx="4.07" ry="4.07" fill="#24de24"/>
<circle cx="22.3" cy="17.1" r="0.8" fill="#139a13" opacity="0.7"/>
<circle cx="19.7" cy="19.2" r="0.8" fill="#139a13" opacity="0.7"/>
<circle cx="19.4" cy="18.0" r="0.8" fill="#139a13" opacity="0.7"/>
<ellipse cx="31.9" cy="15.5" rx="5.56" ry="4.07" fill="#20d620"/>
<circle cx="29.5" cy="15.2" r="0.8" fill="#139a13" opacity="0.7"/>
<circle cx="32.7" cy="13.8" r="0.8" fill="#139a13" opacity="0.7"/>
<circle cx="30.3" cy="17.0" r="0.8" fill="#139a13" opacity="0.7"/>
<ellipse cx="42.8" cy="22.2" rx="4.60" ry="5.14" fill="#19c019"/>
<circle cx="41.0" cy="20.9" r="0.9" fill="#139a13" opacity="0.7"/>
<circle cx="42.5" cy="21.6" r="0.9" fill="#139a13" opacity="0.7"/>
<circle cx="42.8" cy="23.1" r="0.9" fill="#139a13" opacity="0.7"/>
<ellipse cx="4.8" cy="27.9" rx="4.60" ry="4.60" fill="#19c019"/>
<circle cx="4.2" cy="27.5" r="0.9" fill="#139a13" opacity="0.7"/>
<circle cx="2.7" cy="27.0" r="0.9" fill="#139a13" opacity="0.7"/>
<circle cx="6.3" cy="26.0" r="0.9" fill="#139a13" opacity="0.7"/>
<ellipse cx="20.9" cy="28.3" rx="4.07" ry="3.53" fill="#19c019"/>
<circle cx="22.7" cy="27.7" r="0.7" fill="#139a13" opacity="0.7"/>
<circle cx="22.1" cy="27.4" r="0.7" fill="#139a13" opacity="0.7"/>
<circle cx="19.8" cy="29.2" r="0.7" fill="#139a13" opacity="0.7"/>
<ellipse cx="33.3" cy="26.9" rx="3.53" ry="3.53" fill="#24de24"/>
<circle cx="32.0" cy="27.3" r="0.7" fill="#139a13" opacity="0.7"/>
<circle cx="33.7" cy="28.2" r="0.7" fill="#139a13" opacity="0.7"/>
<circle cx="33.3" cy="28.3" r="0.7" fill="#139a13" opacity="0.7"/>
<ellipse cx="38" cy="35" rx="5.14" ry="3.53" fill="#1ccc1c"/>
<circle cx="40.2" cy="33.8" r="0.7" fill="#139a13" opacity="0.7"/>
<circle cx="37.5" cy="34.1" r="0.7" fill="#139a13" opacity="0.7"/>
<circle cx="40.3" cy="33.8" r="0.7" fill="#139a13" opacity="0.7"/>
<ellipse cx="20.9" cy="43.1" rx="4.60" ry="4.60" fill="#1ccc1c"/>
<circle cx="21.8" cy="41.7" r="0.9" fill="#139a13" opacity="0.7"/>
<circle cx="20.7" cy="44.0" r="0.9" fill="#139a13" opacity="0.7"/>
<circle cx="20.1" cy="41.4" r="0.9" fill="#139a13" opacity="0.7"/>
<ellipse cx="33.3" cy="43.5" rx="3.53" ry="3.53" fill="#1ccc1c"/>
<circle cx="34.7" cy="42.9" r="0.7" fill="#139a13" opacity="0.7"/>
<circle cx="32.3" cy="44.9" r="0.7" fill="#139a13" opacity="0.7"/>
<circle cx="34.1" cy="42.0" r="0.7" fill="#139a13" opacity="0.7"/>
<ellipse cx="43.3" cy="43.5" rx="3.53" ry="4.07" fill="#19c019"/>
<circle cx="44.4" cy="45.3" r="0.7" fill="#139a13" opacity="0.7"/>
<circle cx="43.1" cy="42.0" r="0.7" fill="#139a13" opacity="0.7"/>
<circle cx="41.9" cy="41.9" r="0.7" fill="#139a13" opacity="0.7"/>
<ellipse cx="2.9" cy="45.9" rx="3.10" ry="3.10" fill="#19c019"/>
<circle cx="4.2" cy="44.8" r="0.6" fill="#139a13" opacity="0.7"/>
<circle cx="4.2" cy="45.1" r="0.6" fill="#139a13" opacity="0.7"/>
<circle cx="2.5" cy="46.8" r="0.6" fill="#139a13" opacity="0.7"/>
<ellipse cx="51.3" cy="31.2" rx="2.03" ry="4.07" fill="#19c019"/>
<circle cx="50.5" cy="32.0" r="0.4" fill="#139a13" opacity="0.7"/>
<circle cx="50.7" cy="31.4" r="0.4" fill="#139a13" opacity="0.7"/>
<circle cx="51.2" cy="30.5" r="0.4" fill="#139a13" opacity="0.7"/>
<ellipse cx="51.3" cy="19.8" rx="2.03" ry="3.10" fill="#19c019"/>
<circle cx="50.4" cy="19.5" r="0.4" fill="#139a13" opacity="0.7"/>
<circle cx="51.9" cy="20.6" r="0.4" fill="#139a13" opacity="0.7"/>
<circle cx="50.4" cy="18.5" r="0.4" fill="#139a13" opacity="0.7"/>
</g>
</svg>
<svg x="158.7" y="167.9" width="53.3" height="53.3" viewBox="0 0 53.3 53.3" overflow="hidden">
<rect width="53.3" height="53.3" fill="#072c07"/>
<g filter="url(#blur2)">
<ellipse cx="14.9" cy="5.2" rx="5.6" ry="5.6" fill="#125c12" opacity="0.7"/>
<ellipse cx="27.3" cy="2.9" rx="4.9" ry="4.1" fill="#125c12" opacity="0.7"/>
<ellipse cx="22.5" cy="8.6" rx="4.1" ry="4.1" fill="#125c12" opacity="0.7"/>
<ellipse cx="42.5" cy="9.5" rx="6.5" ry="7.3" fill="#125c12" opacity="0.7"/>
<ellipse cx="16.8" cy="15.7" rx="5.6" ry="7.3" fill="#125c12" opacity="0.7"/>
<ellipse cx="28.7" cy="16.2" rx="6.5" ry="6.5" fill="#125c12" opacity="0.7"/>
<ellipse cx="37.3" cy="19.5" rx="6.5" ry="5.6" fill="#125c12" opacity="0.7"/>
<ellipse cx="49.6" cy="21.9" rx="6.5" ry="5.6" fill="#125c12" opacity="0.7"/>
<ellipse cx="1.6" cy="13.3" rx="3.2" ry="4.9" fill="#125c12" opacity="0.7"/>
<ellipse cx="10.7" cy="23.3" rx="6.5" ry="6.5" fill="#125c12" opacity="0.7"/>
<ellipse cx="21.1" cy="26.6" rx="6.5" ry="6.5" fill="#125c12" opacity="0.7"/>
<ellipse cx="33" cy="28.5" rx="6.5" ry="5.6" fill="#125c12" opacity="0.7"/>
<ellipse cx="49.6" cy="30.4" rx="4.9" ry="4.9" fill="#125c12" opacity="0.7"/>
<ellipse cx="2.1" cy="25.7" rx="4.1" ry="5.6" fill="#125c12" opacity="0.7"/>
<ellipse cx="7.3" cy="35.2" rx="8.2" ry="7.3" fill="#125c12" opacity="0.7"/>
<ellipse cx="19.2" cy="42.3" rx="7.3" ry="8.2" fill="#125c12" opacity="0.7"/>
<ellipse cx="33" cy="44.7" rx="8.2" ry="6.5" fill="#125c12" opacity="0.7"/>
<ellipse cx="43.9" cy="35.7" rx="7.3" ry="4.9" fill="#125c12" opacity="0.7"/>
<ellipse cx="50.6" cy="49.9" rx="4.9" ry="4.1" fill="#125c12" opacity="0.7"/>
</g>
<g filter="url(#blur06)" opacity="0.6">
<circle cx="3.3" cy="49.0" r="0.7" fill="#0f4e0f"/>
<circle cx="47.9" cy="18.1" r="0.7" fill="#0f4e0f"/>
<circle cx="14.0" cy="38.2" r="0.8" fill="#041c04"/>
<circle cx="15.9" cy="38.5" r="1.0" fill="#0f4e0f"/>
<circle cx="1.3" cy="12.5" r="0.9" fill="#0a3a0a"/>
<circle cx="50.8" cy="20.6" r="0.7" fill="#0a3a0a"/>
<circle cx="43.4" cy="7.1" r="0.9" fill="#0f4e0f"/>
<circle cx="42.8" cy="39.4" r="1.2" fill="#146414"/>
<circle cx="32.4" cy="17.5" r="0.8" fill="#041c04"/>
<circle cx="41.8" cy="31.8" r="0.9" fill="#0a3a0a"/>
<circle cx="40.1" cy="13.2" r="0.6" fill="#0f4e0f"/>
<circle cx="25.7" cy="29.0" r="0.6" fill="#0a3a0a"/>
<circle cx="47.1" cy="52.7" r="0.7" fill="#0f4e0f"/>
<circle cx="11.1" cy="22.4" r="1.3" fill="#0a3a0a"/>
<circle cx="9.2" cy="7.1" r="0.9" fill="#146414"/>
<circle cx="39.9" cy="45.1" r="1.0" fill="#0f4e0f"/>
<circle cx="41.6" cy="15.7" r="0.7" fill="#041c04"/>
<circle cx="19.9" cy="39.3" r="0.7" fill="#146414"/>
<circle cx="9.9" cy="12.6" r="0.7" fill="#146414"/>
<circle cx="17.4" cy="21.1" r="1.3" fill="#146414"/>
<circle cx="34.6" cy="5.4" r="0.9" fill="#0f4e0f"/>
<circle cx="5.5" cy="25.3" r="1.2" fill="#0a3a0a"/>
<circle cx="48.7" cy="2.2" r="0.7" fill="#0f4e0f"/>
<circle cx="2.7" cy="32.0" r="1.2" fill="#146414"/>
<circle cx="49.6" cy="19.8" r="1.2" fill="#0a3a0a"/>
<circle cx="32.1" cy="41.3" r="1.0" fill="#0f4e0f"/>
<circle cx="5.6" cy="31.8" r="1.0" fill="#146414"/>
<circle cx="2.0" cy="18.1" r="0.5" fill="#041c04"/>
<circle cx="2.0" cy="39.0" r="1.2" fill="#0f4e0f"/>
<circle cx="43.6" cy="21.8" r="0.8" fill="#041c04"/>
<circle cx="4.2" cy="1.7" r="0.9" fill="#0a3a0a"/>
<circle cx="3.4" cy="5.4" r="0.8" fill="#146414"/>
<circle cx="34.1" cy="4.9" r="0.6" fill="#041c04"/>
<circle cx="21.8" cy="15.1" r="0.7" fill="#0f4e0f"/>
<circle cx="16.6" cy="30.2" r="0.8" fill="#0a3a0a"/>
<circle cx="1.0" cy="40.9" r="1.1" fill="#146414"/>
<circle cx="20.8" cy="21.6" r="1.3" fill="#0a3a0a"/>
<circle cx="48.1" cy="22.6" r="1.2" fill="#0a3a0a"/>
<circle cx="30.8" cy="19.4" r="1.1" fill="#146414"/>
<circle cx="0.8" cy="29.4" r="1.0" fill="#0a3a0a"/>
<circle cx="4.7" cy="33.2" r="0.8" fill="#146414"/>
<circle cx="7.8" cy="15.1" r="0.9" fill="#0f4e0f"/>
<circle cx="5.8" cy="26.1" r="1.1" fill="#146414"/>
<circle cx="16.1" cy="44.6" r="0.5" fill="#0a3a0a"/>
<circle cx="16.8" cy="32.4" r="1.0" fill="#0f4e0f"/>
<circle cx="48.2" cy="33.1" r="1.2" fill="#146414"/>
<circle cx="34.1" cy="45.7" r="1.0" fill="#146414"/>
<circle cx="44.2" cy="9.8" r="0.7" fill="#0a3a0a"/>
<circle cx="50.0" cy="8.3" r="0.8" fill="#146414"/>
<circle cx="13.2" cy="38.6" r="1.2" fill="#0f4e0f"/>
<circle cx="47.1" cy="44.9" r="1.0" fill="#041c04"/>
<circle cx="6.3" cy="32.0" r="0.9" fill="#041c04"/>
<circle cx="34.6" cy="16.4" r="0.7" fill="#0a3a0a"/>
<circle cx="35.1" cy="23.8" r="0.9" fill="#0f4e0f"/>
<circle cx="0.2" cy="52.6" r="0.9" fill="#0a3a0a"/>
<circle cx="40.7" cy="41.6" r="0.9" fill="#146414"/>
<circle cx="43.2" cy="21.3" r="0.6" fill="#041c04"/>
<circle cx="23.0" cy="4.9" r="0.9" fill="#0f4e0f"/>
<circle cx="2.2" cy="6.9" r="1.2" fill="#041c04"/>
<circle cx="41.4" cy="27.3" r="0.5" fill="#0a3a0a"/>
<circle cx="34.8" cy="41.8" r="0.5" fill="#0f4e0f"/>
<circle cx="53.1" cy="39.0" r="1.2" fill="#146414"/>
<circle cx="7.0" cy="47.2" r="0.7" fill="#146414"/>
<circle cx="36.6" cy="38.4" r="0.7" fill="#041c04"/>
<circle cx="32.5" cy="13.4" r="0.8" fill="#041c04"/>
<circle cx="48.2" cy="24.3" r="0.7" fill="#0a3a0a"/>
<circle cx="11.1" cy="14.0" r="0.9" fill="#041c04"/>
<circle cx="19.8" cy="10.6" r="0.8" fill="#041c04"/>
<circle cx="36.2" cy="47.7" r="0.6" fill="#041c04"/>
<circle cx="6.1" cy="28.3" r="1.0" fill="#041c04"/>
<circle cx="51.5" cy="24.1" r="0.9" fill="#0f4e0f"/>
<circle cx="13.4" cy="28.6" r="1.2" fill="#041c04"/>
<circle cx="14.1" cy="52.8" r="1.0" fill="#041c04"/>
<circle cx="17.6" cy="4.3" r="0.7" fill="#0f4e0f"/>
<circle cx="15.8" cy="27.5" r="0.7" fill="#041c04"/>
<circle cx="39.1" cy="39.8" r="0.7" fill="#041c04"/>
<circle cx="32.8" cy="23.0" r="0.9" fill="#0f4e0f"/>
<circle cx="7.0" cy="12.1" r="1.0" fill="#0f4e0f"/>
<circle cx="2.9" cy="30.2" r="0.7" fill="#041c04"/>
<circle cx="28.5" cy="22.0" r="0.7" fill="#146414"/>
<circle cx="10.9" cy="33.3" r="0.9" fill="#146414"/>
<circle cx="0.8" cy="42.7" r="1.1" fill="#0a3a0a"/>
<circle cx="5.1" cy="34.0" r="1.2" fill="#041c04"/>
<circle cx="21.4" cy="14.1" r="0.5" fill="#041c04"/>
<circle cx="31.7" cy="30.8" r="1.0" fill="#0a3a0a"/>
<circle cx="13.2" cy="48.2" r="0.5" fill="#0f4e0f"/>
<circle cx="21.6" cy="12.7" r="0.5" fill="#0f4e0f"/>
<circle cx="0.7" cy="29.4" r="1.3" fill="#146414"/>
<circle cx="22.0" cy="27.6" r="1.0" fill="#0a3a0a"/>
<circle cx="43.4" cy="9.3" r="0.7" fill="#041c04"/>
<circle cx="33.4" cy="53.0" r="1.1" fill="#0a3a0a"/>
<circle cx="38.1" cy="0.3" r="1.2" fill="#0a3a0a"/>
<circle cx="4.3" cy="34.9" r="0.6" fill="#0f4e0f"/>
<circle cx="13.9" cy="34.3" r="0.6" fill="#041c04"/>
<circle cx="37.9" cy="14.2" r="0.9" fill="#0a3a0a"/>
<circle cx="36.5" cy="48.9" r="1.3" fill="#041c04"/>
<circle cx="34.2" cy="51.4" r="0.7" fill="#0f4e0f"/>
<circle cx="9.0" cy="48.2" r="1.2" fill="#146414"/>
<circle cx="50.4" cy="39.8" r="0.8" fill="#0a3a0a"/>
<circle cx="17.5" cy="12.7" r="1.2" fill="#0a3a0a"/>
<circle cx="25.2" cy="28.3" r="0.5" fill="#0f4e0f"/>
<circle cx="23.3" cy="38.6" r="1.0" fill="#041c04"/>
<circle cx="42.1" cy="20.9" r="1.0" fill="#146414"/>
<circle cx="7.7" cy="1.4" r="0.6" fill="#146414"/>
<circle cx="18.4" cy="7.6" r="0.5" fill="#0f4e0f"/>
<circle cx="7.4" cy="34.3" r="0.5" fill="#0f4e0f"/>
<circle cx="39.3" cy="3.5" r="1.0" fill="#041c04"/>
<circle cx="10.6" cy="50.9" r="0.9" fill="#0f4e0f"/>
<circle cx="46.9" cy="40.3" r="1.1" fill="#0a3a0a"/>
<circle cx="5.7" cy="11.0" r="0.6" fill="#0f4e0f"/>
<circle cx="50.6" cy="48.6" r="1.1" fill="#0f4e0f"/>
<circle cx="44.0" cy="33.7" r="0.7" fill="#0f4e0f"/>
<circle cx="7.1" cy="42.2" r="1.0" fill="#041c04"/>
<circle cx="17.0" cy="22.6" r="0.5" fill="#041c04"/>
<circle cx="49.6" cy="2.6" r="1.1" fill="#041c04"/>
<circle cx="41.0" cy="32.1" r="0.9" fill="#041c04"/>
<circle cx="33.0" cy="1.7" r="0.8" fill="#0a3a0a"/>
<circle cx="27.6" cy="5.2" r="0.9" fill="#0f4e0f"/>
<circle cx="28.7" cy="11.5" r="1.2" fill="#0f4e0f"/>
<circle cx="30.6" cy="15.3" r="0.8" fill="#146414"/>
<circle cx="15.4" cy="40.0" r="0.5" fill="#041c04"/>
<circle cx="26.2" cy="26.2" r="1.1" fill="#146414"/>
<circle cx="51.5" cy="31.6" r="1.3" fill="#041c04"/>
<circle cx="30.8" cy="8.5" r="1.2" fill="#146414"/>
<circle cx="26.6" cy="5.9" r="1.0" fill="#0f4e0f"/>
<circle cx="26.1" cy="52.8" r="0.9" fill="#0f4e0f"/>
<circle cx="33.5" cy="19.0" r="0.8" fill="#0a3a0a"/>
<circle cx="47.5" cy="39.7" r="0.8" fill="#0f4e0f"/>
<circle cx="19.8" cy="16.2" r="0.8" fill="#146414"/>
<circle cx="20.2" cy="47.1" r="0.7" fill="#0a3a0a"/>
<circle cx="6.8" cy="31.7" r="1.1" fill="#0f4e0f"/>
<circle cx="18.6" cy="17.4" r="0.6" fill="#0a3a0a"/>
<circle cx="35.3" cy="39.5" r="0.6" fill="#0a3a0a"/>
<circle cx="36.7" cy="13.7" r="0.7" fill="#041c04"/>
<circle cx="24.6" cy="47.2" r="0.7" fill="#146414"/>
<circle cx="14.3" cy="40.2" r="1.2" fill="#146414"/>
<circle cx="38.6" cy="52.0" r="1.1" fill="#041c04"/>
<circle cx="8.6" cy="17.5" r="0.7" fill="#0f4e0f"/>
<circle cx="8.8" cy="35.1" r="0.7" fill="#146414"/>
<circle cx="52.4" cy="42.4" r="1.1" fill="#0a3a0a"/>
<circle cx="14.6" cy="5.8" r="1.2" fill="#041c04"/>
<circle cx="11.0" cy="20.7" r="0.5" fill="#0a3a0a"/>
<circle cx="45.5" cy="23.3" r="0.7" fill="#041c04"/>
<circle cx="24.7" cy="7.6" r="1.0" fill="#0a3a0a"/>
<circle cx="0.3" cy="12.9" r="1.2" fill="#0a3a0a"/>
<circle cx="45.1" cy="35.6" r="1.0" fill="#146414"/>
<circle cx="36.2" cy="34.2" r="0.9" fill="#041c04"/>
<circle cx="13.8" cy="37.3" r="1.2" fill="#146414"/>
<circle cx="41.7" cy="38.0" r="1.0" fill="#041c04"/>
<circle cx="45.3" cy="25.7" r="0.5" fill="#0a3a0a"/>
<circle cx="27.6" cy="35.2" r="1.2" fill="#041c04"/>
<circle cx="41.5" cy="20.7" r="0.9" fill="#0f4e0f"/>
<circle cx="2.0" cy="29.0" r="0.6" fill="#146414"/>
<circle cx="27.7" cy="5.4" r="1.0" fill="#146414"/>
<circle cx="38.2" cy="27.3" r="1.0" fill="#041c04"/>
<circle cx="27.8" cy="21.9" r="1.3" fill="#146414"/>
<circle cx="52.8" cy="9.8" r="0.9" fill="#0f4e0f"/>
<circle cx="38.9" cy="32.7" r="1.0" fill="#041c04"/>
<circle cx="14.6" cy="21.3" r="0.5" fill="#0a3a0a"/>
<circle cx="48.8" cy="33.5" r="1.0" fill="#041c04"/>
</g>
<g filter="url(#blur06)">
<ellipse cx="14.9" cy="5.2" rx="3.53" ry="3.53" fill="#1ccc1c"/>
<circle cx="14.0" cy="6.0" r="0.7" fill="#139a13" opacity="0.7"/>
<circle cx="16.4" cy="5.3" r="0.7" fill="#139a13" opacity="0.7"/>
<circle cx="14.0" cy="6.2" r="0.7" fill="#139a13" opacity="0.7"/>
<ellipse cx="27.3" cy="2.9" rx="3.10" ry="2.57" fill="#19c019"/>
<circle cx="27.2" cy="2.1" r="0.5" fill="#139a13" opacity="0.7"/>
<circle cx="28.5" cy="1.9" r="0.5" fill="#139a13" opacity="0.7"/>
<circle cx="28.2" cy="2.2" r="0.5" fill="#139a13" opacity="0.7"/>
<ellipse cx="22.5" cy="8.6" rx="2.57" ry="2.57" fill="#20d620"/>
<circle cx="23.3" cy="7.8" r="0.5" fill="#139a13" opacity="0.7"/>
<circle cx="22.9" cy="9.4" r="0.5" fill="#139a13" opacity="0.7"/>
<circle cx="23.2" cy="8.4" r="0.5" fill="#139a13" opacity="0.7"/>
<ellipse cx="42.5" cy="9.5" rx="4.07" ry="4.60" fill="#24de24"/>
<circle cx="43.5" cy="10.1" r="0.8" fill="#139a13" opacity="0.7"/>
<circle cx="43.6" cy="9.4" r="0.8" fill="#139a13" opacity="0.7"/>
<circle cx="43.6" cy="8.3" r="0.8" fill="#139a13" opacity="0.7"/>
<ellipse cx="16.8" cy="15.7" rx="3.53" ry="4.60" fill="#19c019"/>
<circle cx="17.4" cy="17.8" r="0.7" fill="#139a13" opacity="0.7"/>
<circle cx="17.4" cy="15.6" r="0.7" fill="#139a13" opacity="0.7"/>
<circle cx="17.8" cy="17.0" r="0.7" fill="#139a13" opacity="0.7"/>
<ellipse cx="28.7" cy="16.2" rx="4.07" ry="4.07" fill="#24de24"/>
<circle cx="27.7" cy="15.4" r="0.8" fill="#139a13" opacity="0.7"/>
<circle cx="28.6" cy="15.9" r="0.8" fill="#139a13" opacity="0.7"/>
<circle cx="29.2" cy="16.8" r="0.8" fill="#139a13" opacity="0.7"/>
<ellipse cx="37.3" cy="19.5" rx="4.07" ry="3.53" fill="#24de24"/>
<circle cx="36.0" cy="18.9" r="0.7" fill="#139a13" opacity="0.7"/>
<circle cx="36.9" cy="18.1" r="0.7" fill="#139a13" opacity="0.7"/>
<circle cx="37.5" cy="18.9" r="0.7" fill="#139a13" opacity="0.7"/>
<ellipse cx="49.6" cy="21.9" rx="4.07" ry="3.53" fill="#20d620"/>
<circle cx="49.7" cy="21.4" r="0.7" fill="#139a13" opacity="0.7"/>
<circle cx="49.9" cy="22.4" r="0.7" fill="#139a13" opacity="0.7"/>
<circle cx="48.5" cy="20.5" r="0.7" fill="#139a13" opacity="0.7"/>
<ellipse cx="1.6" cy="13.3" rx="2.03" ry="3.10" fill="#24de24"/>
<circle cx="1.1" cy="12.1" r="0.4" fill="#139a13" opacity="0.7"/>
<circle cx="0.9" cy="12.5" r="0.4" fill="#139a13" opacity="0.7"/>
<circle cx="2.1" cy="12.9" r="0.4" fill="#139a13" opacity="0.7"/>
<ellipse cx="10.7" cy="23.3" rx="4.07" ry="4.07" fill="#20d620"/>
<circle cx="9.6" cy="22.9" r="0.8" fill="#139a13" opacity="0.7"/>
<circle cx="10.8" cy="23.7" r="0.8" fill="#139a13" opacity="0.7"/>
<circle cx="11.4" cy="25.1" r="0.8" fill="#139a13" opacity="0.7"/>
<ellipse cx="21.1" cy="26.6" rx="4.07" ry="4.07" fill="#1ccc1c"/>
<circle cx="21.7" cy="28.1" r="0.8" fill="#139a13" opacity="0.7"/>
<circle cx="22.2" cy="27.9" r="0.8" fill="#139a13" opacity="0.7"/>
<circle cx="20.0" cy="27.3" r="0.8" fill="#139a13" opacity="0.7"/>
<ellipse cx="33" cy="28.5" rx="4.07" ry="3.53" fill="#1ccc1c"/>
<circle cx="33.9" cy="28.3" r="0.7" fill="#139a13" opacity="0.7"/>
<circle cx="34.5" cy="28.7" r="0.7" fill="#139a13" opacity="0.7"/>
<circle cx="32.1" cy="27.6" r="0.7" fill="#139a13" opacity="0.7"/>
<ellipse cx="49.6" cy="30.4" rx="3.10" ry="3.10" fill="#20d620"/>
<circle cx="49.5" cy="30.6" r="0.6" fill="#139a13" opacity="0.7"/>
<circle cx="49.6" cy="31.6" r="0.6" fill="#139a13" opacity="0.7"/>
<circle cx="50.2" cy="29.7" r="0.6" fill="#139a13" opacity="0.7"/>
<ellipse cx="2.1" cy="25.7" rx="2.57" ry="3.53" fill="#20d620"/>
<circle cx="2.2" cy="26.9" r="0.5" fill="#139a13" opacity="0.7"/>
<circle cx="0.9" cy="26.8" r="0.5" fill="#139a13" opacity="0.7"/>
<circle cx="2.0" cy="25.9" r="0.5" fill="#139a13" opacity="0.7"/>
<ellipse cx="7.3" cy="35.2" rx="5.14" ry="4.60" fill="#24de24"/>
<circle cx="8.9" cy="34.7" r="0.9" fill="#139a13" opacity="0.7"/>
<circle cx="6.9" cy="37.2" r="0.9" fill="#139a13" opacity="0.7"/>
<circle cx="5.3" cy="35.8" r="0.9" fill="#139a13" opacity="0.7"/>
<ellipse cx="19.2" cy="42.3" rx="4.60" ry="5.14" fill="#1ccc1c"/>
<circle cx="17.1" cy="40.1" r="0.9" fill="#139a13" opacity="0.7"/>
<circle cx="20.2" cy="44.7" r="0.9" fill="#139a13" opacity="0.7"/>
<circle cx="20.5" cy="40.4" r="0.9" fill="#139a13" opacity="0.7"/>
<ellipse cx="33" cy="44.7" rx="5.14" ry="4.07" fill="#19c019"/>
<circle cx="32.9" cy="46.2" r="0.8" fill="#139a13" opacity="0.7"/>
<circle cx="30.8" cy="45.5" r="0.8" fill="#139a13" opacity="0.7"/>
<circle cx="33.6" cy="44.1" r="0.8" fill="#139a13" opacity="0.7"/>
<ellipse cx="43.9" cy="35.7" rx="4.60" ry="3.10" fill="#24de24"/>
<circle cx="43.2" cy="36.5" r="0.6" fill="#139a13" opacity="0.7"/>
<circle cx="44.1" cy="36.9" r="0.6" fill="#139a13" opacity="0.7"/>
<circle cx="43.0" cy="35.2" r="0.6" fill="#139a13" opacity="0.7"/>
<ellipse cx="50.6" cy="49.9" rx="3.10" ry="2.57" fill="#24de24"/>
<circle cx="50.8" cy="50.7" r="0.5" fill="#139a13" opacity="0.7"/>
<circle cx="50.0" cy="50.7" r="0.5" fill="#139a13" opacity="0.7"/>
<circle cx="50.3" cy="49.9" r="0.5" fill="#139a13" opacity="0.7"/>
</g>
</svg>
<svg x="220.4" y="167.9" width="53.3" height="53.3" viewBox="0 0 53.3 53.3" overflow="hidden">
<rect width="53.3" height="53.3" fill="#072c07"/>
<g filter="url(#blur2)">
<ellipse cx="9.5" cy="9" rx="7.3" ry="8.2" fill="#125c12" opacity="0.7"/>
<ellipse cx="23.8" cy="2.9" rx="7.3" ry="4.9" fill="#125c12" opacity="0.7"/>
<ellipse cx="40.4" cy="7.6" rx="6.5" ry="7.3" fill="#125c12" opacity="0.7"/>
<ellipse cx="50.4" cy="5.2" rx="4.9" ry="6.5" fill="#125c12" opacity="0.7"/>
<ellipse cx="22.3" cy="12.8" rx="5.6" ry="7.3" fill="#125c12" opacity="0.7"/>
<ellipse cx="33.3" cy="15.7" rx="6.5" ry="7.3" fill="#125c12" opacity="0.7"/>
<ellipse cx="48.5" cy="18.5" rx="5.6" ry="7.3" fill="#125c12" opacity="0.7"/>
<ellipse cx="12.8" cy="29.5" rx="6.5" ry="6.5" fill="#125c12" opacity="0.7"/>
<ellipse cx="30" cy="29.5" rx="6.5" ry="7.3" fill="#125c12" opacity="0.7"/>
<ellipse cx="39.5" cy="27.6" rx="6.5" ry="8.2" fill="#125c12" opacity="0.7"/>
<ellipse cx="3.3" cy="35.2" rx="5.6" ry="8.8" fill="#125c12" opacity="0.7"/>
<ellipse cx="16.2" cy="39" rx="7.3" ry="5.6" fill="#125c12" opacity="0.7"/>
<ellipse cx="24.7" cy="46.6" rx="5.6" ry="8.2" fill="#125c12" opacity="0.7"/>
<ellipse cx="39.5" cy="49" rx="6.5" ry="6.5" fill="#125c12" opacity="0.7"/>
<ellipse cx="50.4" cy="40" rx="4.9" ry="6.5" fill="#125c12" opacity="0.7"/>
<ellipse cx="50.4" cy="50" rx="4.9" ry="5.6" fill="#125c12" opacity="0.7"/>
<ellipse cx="13.8" cy="50.9" rx="4.9" ry="3.2" fill="#125c12" opacity="0.7"/>
<ellipse cx="36.6" cy="0.5" rx="3.2" ry="1.7" fill="#125c12" opacity="0.7"/>
</g>
<g filter="url(#blur06)" opacity="0.6">
<circle cx="14.5" cy="27.0" r="1.3" fill="#0a3a0a"/>
<circle cx="42.2" cy="17.6" r="0.8" fill="#041c04"/>
<circle cx="6.8" cy="51.8" r="0.6" fill="#0f4e0f"/>
<circle cx="21.3" cy="29.5" r="0.8" fill="#0f4e0f"/>
<circle cx="21.2" cy="5.8" r="0.5" fill="#0a3a0a"/>
<circle cx="32.4" cy="35.1" r="1.1" fill="#0a3a0a"/>
<circle cx="32.9" cy="33.4" r="1.1" fill="#0f4e0f"/>
<circle cx="11.3" cy="35.6" r="0.9" fill="#146414"/>
<circle cx="5.4" cy="9.7" r="0.5" fill="#0f4e0f"/>
<circle cx="48.7" cy="34.9" r="0.8" fill="#146414"/>
<circle cx="41.9" cy="30.0" r="0.7" fill="#041c04"/>
<circle cx="9.8" cy="1.8" r="0.5" fill="#0f4e0f"/>
<circle cx="26.5" cy="27.8" r="1.2" fill="#0a3a0a"/>
<circle cx="30.7" cy="49.0" r="0.9" fill="#0f4e0f"/>
<circle cx="36.2" cy="31.7" r="1.3" fill="#146414"/>
<circle cx="25.3" cy="22.0" r="0.6" fill="#0a3a0a"/>
<circle cx="11.3" cy="8.1" r="0.5" fill="#0f4e0f"/>
<circle cx="0.5" cy="35.7" r="1.3" fill="#0f4e0f"/>
<circle cx="11.6" cy="6.5" r="0.9" fill="#041c04"/>
<circle cx="38.3" cy="12.9" r="1.1" fill="#146414"/>
<circle cx="49.2" cy="19.5" r="1.1" fill="#146414"/>
<circle cx="38.9" cy="4.5" r="1.0" fill="#0a3a0a"/>
<circle cx="24.5" cy="49.7" r="0.7" fill="#0f4e0f"/>
<circle cx="38.2" cy="0.6" r="0.5" fill="#0f4e0f"/>
<circle cx="20.7" cy="16.7" r="1.0" fill="#0a3a0a"/>
<circle cx="32.5" cy="16.9" r="1.3" fill="#0a3a0a"/>
<circle cx="25.0" cy="8.9" r="1.3" fill="#0f4e0f"/>
<circle cx="19.4" cy="34.4" r="1.0" fill="#0a3a0a"/>
<circle cx="25.4" cy="41.5" r="0.9" fill="#041c04"/>
<circle cx="41.8" cy="30.2" r="0.7" fill="#0f4e0f"/>
<circle cx="33.1" cy="34.7" r="1.1" fill="#041c04"/>
<circle cx="46.3" cy="38.7" r="0.5" fill="#146414"/>
<circle cx="32.0" cy="16.4" r="0.8" fill="#146414"/>
<circle cx="20.1" cy="36.5" r="1.0" fill="#146414"/>
<circle cx="43.0" cy="15.1" r="0.5" fill="#041c04"/>
<circle cx="14.3" cy="8.4" r="1.2" fill="#0f4e0f"/>
<circle cx="15.4" cy="7.5" r="1.2" fill="#146414"/>
<circle cx="14.6" cy="45.4" r="1.1" fill="#0a3a0a"/>
<circle cx="18.5" cy="4.5" r="0.9" fill="#0a3a0a"/>
<circle cx="10.7" cy="40.0" r="1.2" fill="#146414"/>
<circle cx="16.5" cy="3.1" r="0.8" fill="#146414"/>
<circle cx="49.4" cy="31.3" r="0.5" fill="#0a3a0a"/>
<circle cx="24.5" cy="4.7" r="1.1" fill="#0f4e0f"/>
<circle cx="12.4" cy="30.9" r="1.2" fill="#041c04"/>
<circle cx="25.4" cy="31.4" r="0.7" fill="#146414"/>
<circle cx="4.9" cy="43.0" r="0.7" fill="#041c04"/>
<circle cx="21.5" cy="27.6" r="0.6" fill="#0f4e0f"/>
<circle cx="49.2" cy="26.3" r="1.2" fill="#041c04"/>
<circle cx="33.7" cy="42.0" r="0.6" fill="#0f4e0f"/>
<circle cx="18.4" cy="27.7" r="0.5" fill="#0f4e0f"/>
<circle cx="10.9" cy="46.4" r="1.0" fill="#146414"/>
<circle cx="13.9" cy="41.5" r="0.8" fill="#0a3a0a"/>
<circle cx="40.9" cy="43.6" r="1.3" fill="#041c04"/>
<circle cx="45.0" cy="18.1" r="1.3" fill="#0a3a0a"/>
<circle cx="4.5" cy="2.7" r="0.9" fill="#0a3a0a"/>
<circle cx="25.9" cy="45.1" r="1.2" fill="#0a3a0a"/>
<circle cx="49.2" cy="37.6" r="0.6" fill="#041c04"/>
<circle cx="30.1" cy="34.1" r="1.3" fill="#0a3a0a"/>
<circle cx="9.7" cy="45.3" r="0.8" fill="#146414"/>
<circle cx="52.9" cy="11.8" r="0.5" fill="#041c04"/>
<circle cx="50.2" cy="3.2" r="0.9" fill="#0f4e0f"/>
<circle cx="44.6" cy="2.5" r="1.1" fill="#0a3a0a"/>
<circle cx="3.0" cy="7.7" r="1.1" fill="#146414"/>
<circle cx="36.1" cy="15.9" r="1.0" fill="#0f4e0f"/>
<circle cx="25.1" cy="19.8" r="0.8" fill="#041c04"/>
<circle cx="25.7" cy="9.0" r="0.7" fill="#146414"/>
<circle cx="48.7" cy="47.6" r="0.9" fill="#146414"/>
<circle cx="42.6" cy="8.4" r="1.2" fill="#0f4e0f"/>
<circle cx="49.8" cy="46.2" r="1.2" fill="#146414"/>
<circle cx="41.5" cy="51.1" r="1.2" fill="#0a3a0a"/>
<circle cx="44.9" cy="33.5" r="0.9" fill="#041c04"/>
<circle cx="17.2" cy="12.5" r="0.6" fill="#041c04"/>
<circle cx="7.6" cy="11.8" r="0.5" fill="#0a3a0a"/>
<circle cx="29.5" cy="7.7" r="1.2" fill="#041c04"/>
<circle cx="22.3" cy="13.2" r="0.5" fill="#041c04"/>
<circle cx="17.8" cy="8.9" r="0.9" fill="#041c04"/>
<circle cx="24.3" cy="25.7" r="0.6" fill="#0f4e0f"/>
<circle cx="33.6" cy="42.0" r="1.2" fill="#0a3a0a"/>
<circle cx="44.5" cy="6.4" r="1.1" fill="#041c04"/>
<circle cx="23.0" cy="13.9" r="0.7" fill="#146414"/>
<circle cx="5.2" cy="15.4" r="1.2" fill="#0f4e0f"/>
<circle cx="44.4" cy="52.2" r="0.6" fill="#0f4e0f"/>
<circle cx="23.6" cy="27.1" r="0.9" fill="#0a3a0a"/>
<circle cx="0.1" cy="44.4" r="0.9" fill="#146414"/>
<circle cx="19.2" cy="2.2" r="0.8" fill="#041c04"/>
<circle cx="30.5" cy="7.4" r="0.6" fill="#146414"/>
<circle cx="37.9" cy="10.5" r="0.6" fill="#0f4e0f"/>
<circle cx="47.4" cy="39.0" r="1.1" fill="#146414"/>
<circle cx="11.0" cy="32.6" r="1.1" fill="#146414"/>
<circle cx="31.1" cy="10.8" r="0.6" fill="#0a3a0a"/>
<circle cx="44.8" cy="48.8" r="0.9" fill="#041c04"/>
<circle cx="17.9" cy="44.9" r="1.2" fill="#0a3a0a"/>
<circle cx="4.8" cy="21.8" r="1.1" fill="#146414"/>
<circle cx="46.5" cy="14.2" r="0.6" fill="#041c04"/>
<circle cx="2.0" cy="37.4" r="1.0" fill="#0f4e0f"/>
<circle cx="19.0" cy="49.7" r="1.3" fill="#0f4e0f"/>
<circle cx="6.4" cy="38.1" r="1.2" fill="#041c04"/>
<circle cx="41.5" cy="46.3" r="1.0" fill="#0f4e0f"/>
<circle cx="15.5" cy="5.7" r="1.1" fill="#0a3a0a"/>
<circle cx="27.4" cy="28.3" r="0.9" fill="#0f4e0f"/>
<circle cx="13.0" cy="4.7" r="1.0" fill="#146414"/>
<circle cx="5.5" cy="13.3" r="1.2" fill="#0f4e0f"/>
<circle cx="1.0" cy="49.4" r="1.1" fill="#041c04"/>
<circle cx="0.9" cy="31.9" r="1.0" fill="#146414"/>
<circle cx="37.5" cy="5.5" r="1.2" fill="#146414"/>
<circle cx="2.4" cy="6.6" r="0.9" fill="#041c04"/>
<circle cx="5.9" cy="6.5" r="1.2" fill="#146414"/>
<circle cx="45.9" cy="7.8" r="1.0" fill="#0a3a0a"/>
<circle cx="8.8" cy="44.0" r="1.3" fill="#0a3a0a"/>
<circle cx="37.0" cy="31.8" r="1.0" fill="#0f4e0f"/>
<circle cx="21.1" cy="50.2" r="1.1" fill="#041c04"/>
<circle cx="21.4" cy="44.7" r="1.1" fill="#041c04"/>
<circle cx="43.4" cy="45.2" r="0.5" fill="#146414"/>
<circle cx="51.1" cy="49.8" r="0.7" fill="#0a3a0a"/>
<circle cx="35.3" cy="0.6" r="0.6" fill="#146414"/>
<circle cx="3.7" cy="23.1" r="0.9" fill="#0f4e0f"/>
<circle cx="12.0" cy="22.4" r="0.8" fill="#0a3a0a"/>
<circle cx="33.8" cy="43.1" r="1.2" fill="#0f4e0f"/>
<circle cx="1.8" cy="34.2" r="0.7" fill="#041c04"/>
<circle cx="33.5" cy="43.0" r="0.5" fill="#0f4e0f"/>
<circle cx="13.4" cy="27.7" r="0.8" fill="#0f4e0f"/>
<circle cx="15.3" cy="16.3" r="1.0" fill="#0f4e0f"/>
<circle cx="3.2" cy="51.1" r="1.2" fill="#041c04"/>
<circle cx="4.5" cy="31.5" r="1.2" fill="#0a3a0a"/>
<circle cx="6.6" cy="7.0" r="0.7" fill="#0a3a0a"/>
<circle cx="30.8" cy="14.6" r="1.1" fill="#041c04"/>
<circle cx="44.8" cy="32.5" r="1.0" fill="#0a3a0a"/>
<circle cx="10.7" cy="37.9" r="0.9" fill="#041c04"/>
<circle cx="32.7" cy="25.0" r="0.7" fill="#146414"/>
<circle cx="17.8" cy="10.1" r="0.9" fill="#0a3a0a"/>
<circle cx="0.6" cy="18.8" r="1.2" fill="#146414"/>
<circle cx="17.3" cy="17.3" r="0.7" fill="#146414"/>
<circle cx="15.8" cy="41.2" r="0.6" fill="#0f4e0f"/>
<circle cx="32.3" cy="18.5" r="1.0" fill="#0a3a0a"/>
<circle cx="44.5" cy="18.9" r="1.1" fill="#146414"/>
<circle cx="52.7" cy="36.1" r="1.2" fill="#0a3a0a"/>
<circle cx="18.0" cy="18.8" r="1.0" fill="#041c04"/>
<circle cx="43.8" cy="27.6" r="1.1" fill="#0a3a0a"/>
<circle cx="14.3" cy="33.6" r="1.0" fill="#146414"/>
<circle cx="22.0" cy="5.5" r="0.8" fill="#0f4e0f"/>
<circle cx="26.5" cy="51.3" r="1.0" fill="#0a3a0a"/>
<circle cx="45.3" cy="14.9" r="1.0" fill="#0f4e0f"/>
<circle cx="20.2" cy="24.1" r="0.9" fill="#041c04"/>
<circle cx="15.6" cy="20.8" r="0.9" fill="#0a3a0a"/>
<circle cx="34.5" cy="0.4" r="1.1" fill="#0a3a0a"/>
<circle cx="20.3" cy="16.0" r="0.9" fill="#146414"/>
<circle cx="23.2" cy="20.1" r="0.7" fill="#041c04"/>
<circle cx="17.3" cy="45.0" r="1.2" fill="#041c04"/>
<circle cx="10.9" cy="22.7" r="1.2" fill="#0f4e0f"/>
<circle cx="1.4" cy="13.7" r="1.2" fill="#041c04"/>
<circle cx="49.1" cy="41.2" r="0.9" fill="#0a3a0a"/>
<circle cx="27.6" cy="27.6" r="1.0" fill="#0a3a0a"/>
<circle cx="24.7" cy="2.2" r="1.0" fill="#0a3a0a"/>
<circle cx="50.5" cy="36.1" r="0.9" fill="#0f4e0f"/>
<circle cx="21.8" cy="26.7" r="1.0" fill="#146414"/>
<circle cx="46.9" cy="51.4" r="0.9" fill="#0a3a0a"/>
<circle cx="40.9" cy="47.9" r="1.0" fill="#0f4e0f"/>
<circle cx="9.1" cy="17.0" r="1.3" fill="#041c04"/>
<circle cx="27.3" cy="5.9" r="1.2" fill="#041c04"/>
<circle cx="43.7" cy="52.8" r="1.2" fill="#0a3a0a"/>
</g>
<g filter="url(#blur06)">
<ellipse cx="9.5" cy="9" rx="4.60" ry="5.14" fill="#20d620"/>
<circle cx="9.6" cy="10.5" r="0.9" fill="#139a13" opacity="0.7"/>
<circle cx="8.2" cy="10.9" r="0.9" fill="#139a13" opacity="0.7"/>
<circle cx="9.1" cy="6.9" r="0.9" fill="#139a13" opacity="0.7"/>
<ellipse cx="23.8" cy="2.9" rx="4.60" ry="3.10" fill="#1ccc1c"/>
<circle cx="23.2" cy="4.3" r="0.6" fill="#139a13" opacity="0.7"/>
<circle cx="24.4" cy="1.6" r="0.6" fill="#139a13" opacity="0.7"/>
<circle cx="23.4" cy="3.7" r="0.6" fill="#139a13" opacity="0.7"/>
<ellipse cx="40.4" cy="7.6" rx="4.07" ry="4.60" fill="#24de24"/>
<circle cx="41.2" cy="7.8" r="0.8" fill="#139a13" opacity="0.7"/>
<circle cx="42.0" cy="7.2" r="0.8" fill="#139a13" opacity="0.7"/>
<circle cx="38.9" cy="5.5" r="0.8" fill="#139a13" opacity="0.7"/>
<ellipse cx="50.4" cy="5.2" rx="3.10" ry="4.07" fill="#1ccc1c"/>
<circle cx="49.5" cy="5.2" r="0.6" fill="#139a13" opacity="0.7"/>
<circle cx="50.6" cy="4.3" r="0.6" fill="#139a13" opacity="0.7"/>
<circle cx="50.8" cy="5.3" r="0.6" fill="#139a13" opacity="0.7"/>
<ellipse cx="22.3" cy="12.8" rx="3.53" ry="4.60" fill="#20d620"/>
<circle cx="22.5" cy="12.4" r="0.7" fill="#139a13" opacity="0.7"/>
<circle cx="21.1" cy="11.3" r="0.7" fill="#139a13" opacity="0.7"/>
<circle cx="23.2" cy="11.1" r="0.7" fill="#139a13" opacity="0.7"/>
<ellipse cx="33.3" cy="15.7" rx="4.07" ry="4.60" fill="#1ccc1c"/>
<circle cx="31.7" cy="17.6" r="0.8" fill="#139a13" opacity="0.7"/>
<circle cx="33.3" cy="15.6" r="0.8" fill="#139a13" opacity="0.7"/>
<circle cx="33.0" cy="17.0" r="0.8" fill="#139a13" opacity="0.7"/>
<ellipse cx="48.5" cy="18.5" rx="3.53" ry="4.60" fill="#1ccc1c"/>
<circle cx="49.1" cy="18.8" r="0.7" fill="#139a13" opacity="0.7"/>
<circle cx="47.3" cy="17.4" r="0.7" fill="#139a13" opacity="0.7"/>
<circle cx="47.8" cy="16.5" r="0.7" fill="#139a13" opacity="0.7"/>
<ellipse cx="12.8" cy="29.5" rx="4.07" ry="4.07" fill="#1ccc1c"/>
<circle cx="14.2" cy="31.2" r="0.8" fill="#139a13" opacity="0.7"/>
<circle cx="11.1" cy="28.3" r="0.8" fill="#139a13" opacity="0.7"/>
<circle cx="13.3" cy="27.7" r="0.8" fill="#139a13" opacity="0.7"/>
<ellipse cx="30" cy="29.5" rx="4.07" ry="4.60" fill="#20d620"/>
<circle cx="31.5" cy="29.9" r="0.8" fill="#139a13" opacity="0.7"/>
<circle cx="31.7" cy="29.2" r="0.8" fill="#139a13" opacity="0.7"/>
<circle cx="30.5" cy="28.4" r="0.8" fill="#139a13" opacity="0.7"/>
<ellipse cx="39.5" cy="27.6" rx="4.07" ry="5.14" fill="#1ccc1c"/>
<circle cx="38.2" cy="28.0" r="0.8" fill="#139a13" opacity="0.7"/>
<circle cx="38.3" cy="25.2" r="0.8" fill="#139a13" opacity="0.7"/>
<circle cx="40.9" cy="27.4" r="0.8" fill="#139a13" opacity="0.7"/>
<ellipse cx="3.3" cy="35.2" rx="3.53" ry="5.56" fill="#19c019"/>
<circle cx="3.6" cy="37.6" r="0.7" fill="#139a13" opacity="0.7"/>
<circle cx="3.3" cy="37.5" r="0.7" fill="#139a13" opacity="0.7"/>
<circle cx="2.5" cy="34.6" r="0.7" fill="#139a13" opacity="0.7"/>
<ellipse cx="16.2" cy="39" rx="4.60" ry="3.53" fill="#20d620"/>
<circle cx="15.8" cy="38.7" r="0.7" fill="#139a13" opacity="0.7"/>
<circle cx="17.1" cy="37.4" r="0.7" fill="#139a13" opacity="0.7"/>
<circle cx="17.8" cy="37.6" r="0.7" fill="#139a13" opacity="0.7"/>
<ellipse cx="24.7" cy="46.6" rx="3.53" ry="5.14" fill="#20d620"/>
<circle cx="24.2" cy="45.1" r="0.7" fill="#139a13" opacity="0.7"/>
<circle cx="26.3" cy="45.6" r="0.7" fill="#139a13" opacity="0.7"/>
<circle cx="24.9" cy="44.8" r="0.7" fill="#139a13" opacity="0.7"/>
<ellipse cx="39.5" cy="49" rx="4.07" ry="4.07" fill="#19c019"/>
<circle cx="38.9" cy="49.6" r="0.8" fill="#139a13" opacity="0.7"/>
<circle cx="41.3" cy="48.7" r="0.8" fill="#139a13" opacity="0.7"/>
<circle cx="41.1" cy="49.2" r="0.8" fill="#139a13" opacity="0.7"/>
<ellipse cx="50.4" cy="40" rx="3.10" ry="4.07" fill="#19c019"/>
<circle cx="49.5" cy="39.2" r="0.6" fill="#139a13" opacity="0.7"/>
<circle cx="49.6" cy="38.2" r="0.6" fill="#139a13" opacity="0.7"/>
<circle cx="50.9" cy="39.4" r="0.6" fill="#139a13" opacity="0.7"/>
<ellipse cx="50.4" cy="50" rx="3.10" ry="3.53" fill="#20d620"/>
<circle cx="49.7" cy="48.8" r="0.6" fill="#139a13" opacity="0.7"/>
<circle cx="49.5" cy="50.1" r="0.6" fill="#139a13" opacity="0.7"/>
<circle cx="51.2" cy="50.2" r="0.6" fill="#139a13" opacity="0.7"/>
<ellipse cx="13.8" cy="50.9" rx="3.10" ry="2.03" fill="#19c019"/>
<circle cx="14.8" cy="51.5" r="0.4" fill="#139a13" opacity="0.7"/>
<circle cx="12.8" cy="50.6" r="0.4" fill="#139a13" opacity="0.7"/>
<circle cx="14.4" cy="50.7" r="0.4" fill="#139a13" opacity="0.7"/>
<ellipse cx="36.6" cy="0.5" rx="2.03" ry="1.07" fill="#20d620"/>
<circle cx="36.2" cy="0.5" r="0.2" fill="#139a13" opacity="0.7"/>
<circle cx="36.0" cy="0.9" r="0.2" fill="#139a13" opacity="0.7"/>
<circle cx="36.9" cy="0.9" r="0.2" fill="#139a13" opacity="0.7"/>
</g>
</svg>
<svg x="281.5" y="167.9" width="53.3" height="53.3" viewBox="0 0 53.3 53.3" overflow="hidden">
<rect width="53.3" height="53.3" fill="#072c07"/>
<g filter="url(#blur2)">
<ellipse cx="13.3" cy="7.6" rx="8.2" ry="7.3" fill="#125c12" opacity="0.7"/>
<ellipse cx="31.4" cy="6.2" rx="6.5" ry="8.2" fill="#125c12" opacity="0.7"/>
<ellipse cx="41.8" cy="10.9" rx="8.8" ry="6.5" fill="#125c12" opacity="0.7"/>
<ellipse cx="47.1" cy="18.5" rx="7.3" ry="8.2" fill="#125c12" opacity="0.7"/>
<ellipse cx="26.1" cy="15.2" rx="6.5" ry="7.3" fill="#125c12" opacity="0.7"/>
<ellipse cx="5.7" cy="18.1" rx="5.6" ry="7.3" fill="#125c12" opacity="0.7"/>
<ellipse cx="12.8" cy="21.4" rx="4.9" ry="7.3" fill="#125c12" opacity="0.7"/>
<ellipse cx="29.9" cy="24.2" rx="7.3" ry="5.6" fill="#125c12" opacity="0.7"/>
<ellipse cx="4.8" cy="27.6" rx="8.2" ry="7.3" fill="#125c12" opacity="0.7"/>
<ellipse cx="20" cy="35.7" rx="7.3" ry="5.6" fill="#125c12" opacity="0.7"/>
<ellipse cx="48.5" cy="39" rx="6.5" ry="7.3" fill="#125c12" opacity="0.7"/>
<ellipse cx="5.7" cy="43.3" rx="8.2" ry="8.2" fill="#125c12" opacity="0.7"/>
<ellipse cx="25.2" cy="47.1" rx="7.3" ry="6.5" fill="#125c12" opacity="0.7"/>
<ellipse cx="35.7" cy="44.7" rx="7.3" ry="5.6" fill="#125c12" opacity="0.7"/>
<ellipse cx="20.4" cy="1" rx="6.5" ry="2.4" fill="#125c12" opacity="0.7"/>
</g>
<g filter="url(#blur06)" opacity="0.6">
<circle cx="53.2" cy="31.8" r="0.9" fill="#041c04"/>
<circle cx="28.5" cy="21.5" r="0.9" fill="#146414"/>
<circle cx="46.5" cy="6.5" r="0.9" fill="#041c04"/>
<circle cx="39.2" cy="40.8" r="0.5" fill="#146414"/>
<circle cx="16.6" cy="20.8" r="0.6" fill="#146414"/>
<circle cx="41.4" cy="12.3" r="0.7" fill="#0f4e0f"/>
<circle cx="3.6" cy="48.7" r="1.1" fill="#041c04"/>
<circle cx="10.3" cy="38.3" r="0.6" fill="#041c04"/>
<circle cx="6.7" cy="38.2" r="0.7" fill="#0a3a0a"/>
<circle cx="45.0" cy="24.8" r="1.0" fill="#146414"/>
<circle cx="49.9" cy="9.4" r="0.8" fill="#041c04"/>
<circle cx="47.8" cy="1.3" r="1.1" fill="#0a3a0a"/>
<circle cx="13.2" cy="45.1" r="0.8" fill="#0f4e0f"/>
<circle cx="9.7" cy="6.1" r="1.2" fill="#146414"/>
<circle cx="38.0" cy="2.2" r="0.5" fill="#146414"/>
<circle cx="23.0" cy="40.3" r="0.6" fill="#0f4e0f"/>
<circle cx="29.4" cy="33.5" r="1.3" fill="#146414"/>
<circle cx="30.4" cy="38.2" r="0.7" fill="#0a3a0a"/>
<circle cx="35.7" cy="30.7" r="1.2" fill="#0f4e0f"/>
<circle cx="44.5" cy="41.4" r="0.7" fill="#0f4e0f"/>
<circle cx="46.6" cy="31.2" r="1.1" fill="#146414"/>
<circle cx="36.3" cy="2.0" r="0.8" fill="#041c04"/>
<circle cx="39.9" cy="4.6" r="1.1" fill="#0a3a0a"/>
<circle cx="53.2" cy="32.8" r="0.7" fill="#0f4e0f"/>
<circle cx="18.6" cy="50.6" r="0.9" fill="#041c04"/>
<circle cx="36.9" cy="39.4" r="1.2" fill="#0a3a0a"/>
<circle cx="27.1" cy="36.1" r="0.7" fill="#146414"/>
<circle cx="26.1" cy="10.1" r="1.3" fill="#041c04"/>
<circle cx="9.3" cy="8.7" r="1.1" fill="#146414"/>
<circle cx="29.0" cy="13.3" r="0.5" fill="#041c04"/>
<circle cx="18.5" cy="4.9" r="1.0" fill="#146414"/>
<circle cx="7.3" cy="37.7" r="1.0" fill="#146414"/>
<circle cx="37.6" cy="0.3" r="1.1" fill="#146414"/>
<circle cx="49.9" cy="18.7" r="0.7" fill="#146414"/>
<circle cx="31.3" cy="12.8" r="1.0" fill="#0f4e0f"/>
<circle cx="29.2" cy="40.5" r="0.6" fill="#146414"/>
<circle cx="31.9" cy="24.6" r="1.1" fill="#146414"/>
<circle cx="6.1" cy="15.4" r="0.8" fill="#146414"/>
<circle cx="2.3" cy="47.7" r="0.7" fill="#0f4e0f"/>
<circle cx="37.4" cy="23.9" r="0.6" fill="#041c04"/>
<circle cx="23.7" cy="30.3" r="0.7" fill="#0f4e0f"/>
<circle cx="2.4" cy="25.0" r="1.3" fill="#0a3a0a"/>
<circle cx="4.5" cy="38.2" r="1.3" fill="#041c04"/>
<circle cx="5.8" cy="26.1" r="0.8" fill="#146414"/>
<circle cx="41.8" cy="17.2" r="0.8" fill="#0f4e0f"/>
<circle cx="34.4" cy="33.5" r="1.2" fill="#041c04"/>
<circle cx="34.8" cy="4.2" r="1.1" fill="#0f4e0f"/>
<circle cx="41.3" cy="44.7" r="0.7" fill="#146414"/>
<circle cx="51.3" cy="28.0" r="1.2" fill="#146414"/>
<circle cx="5.4" cy="38.3" r="0.7" fill="#041c04"/>
<circle cx="20.2" cy="34.5" r="0.8" fill="#146414"/>
<circle cx="19.6" cy="29.4" r="0.8" fill="#041c04"/>
<circle cx="12.8" cy="2.2" r="1.0" fill="#0a3a0a"/>
<circle cx="48.2" cy="50.4" r="0.9" fill="#0a3a0a"/>
<circle cx="38.9" cy="53.1" r="1.0" fill="#0f4e0f"/>
<circle cx="7.6" cy="12.1" r="0.6" fill="#0a3a0a"/>
<circle cx="4.8" cy="2.1" r="0.9" fill="#146414"/>
<circle cx="11.6" cy="19.9" r="0.5" fill="#0a3a0a"/>
<circle cx="7.6" cy="3.8" r="0.5" fill="#0a3a0a"/>
<circle cx="47.5" cy="3.3" r="0.5" fill="#146414"/>
<circle cx="48.2" cy="8.8" r="0.7" fill="#0a3a0a"/>
<circle cx="42.9" cy="36.0" r="1.0" fill="#0a3a0a"/>
<circle cx="4.5" cy="17.3" r="0.9" fill="#146414"/>
<circle cx="51.9" cy="51.3" r="1.0" fill="#0f4e0f"/>
<circle cx="38.5" cy="17.7" r="1.0" fill="#0a3a0a"/>
<circle cx="50.8" cy="25.6" r="1.0" fill="#041c04"/>
<circle cx="46.1" cy="28.3" r="1.0" fill="#146414"/>
<circle cx="11.9" cy="39.4" r="1.1" fill="#146414"/>
<circle cx="35.2" cy="19.8" r="1.0" fill="#0a3a0a"/>
<circle cx="19.2" cy="12.8" r="0.9" fill="#041c04"/>
<circle cx="6.1" cy="9.6" r="1.2" fill="#0f4e0f"/>
<circle cx="11.8" cy="44.6" r="1.0" fill="#146414"/>
<circle cx="28.3" cy="13.4" r="0.9" fill="#0a3a0a"/>
<circle cx="12.1" cy="30.5" r="0.6" fill="#0f4e0f"/>
<circle cx="45.4" cy="36.2" r="1.1" fill="#146414"/>
<circle cx="46.0" cy="29.3" r="1.1" fill="#0f4e0f"/>
<circle cx="33.4" cy="51.2" r="0.9" fill="#0a3a0a"/>
<circle cx="44.3" cy="20.9" r="0.6" fill="#146414"/>
<circle cx="30.0" cy="41.3" r="0.6" fill="#0f4e0f"/>
<circle cx="21.6" cy="2.5" r="0.5" fill="#146414"/>
<circle cx="24.5" cy="6.4" r="0.6" fill="#0f4e0f"/>
<circle cx="33.1" cy="46.5" r="1.0" fill="#041c04"/>
<circle cx="9.0" cy="39.7" r="0.8" fill="#0f4e0f"/>
<circle cx="44.0" cy="6.5" r="0.8" fill="#041c04"/>
<circle cx="38.5" cy="2.3" r="1.0" fill="#0f4e0f"/>
<circle cx="19.0" cy="17.4" r="1.0" fill="#0f4e0f"/>
<circle cx="49.3" cy="36.0" r="0.7" fill="#146414"/>
<circle cx="37.0" cy="1.1" r="1.3" fill="#0a3a0a"/>
<circle cx="6.1" cy="1.1" r="0.6" fill="#041c04"/>
<circle cx="9.9" cy="29.5" r="0.7" fill="#0a3a0a"/>
<circle cx="44.6" cy="31.4" r="0.7" fill="#041c04"/>
<circle cx="50.6" cy="0.7" r="0.8" fill="#146414"/>
<circle cx="26.0" cy="25.8" r="0.5" fill="#0f4e0f"/>
<circle cx="4.0" cy="33.1" r="1.0" fill="#0a3a0a"/>
<circle cx="44.9" cy="51.6" r="1.1" fill="#0a3a0a"/>
<circle cx="21.0" cy="46.5" r="1.0" fill="#0f4e0f"/>
<circle cx="19.2" cy="28.2" r="0.7" fill="#146414"/>
<circle cx="31.4" cy="2.3" r="0.6" fill="#041c04"/>
<circle cx="38.8" cy="17.7" r="0.9" fill="#041c04"/>
<circle cx="16.8" cy="17.9" r="0.9" fill="#146414"/>
<circle cx="1.1" cy="24.5" r="1.3" fill="#0f4e0f"/>
<circle cx="33.6" cy="38.7" r="0.6" fill="#0a3a0a"/>
<circle cx="14.6" cy="26.7" r="0.7" fill="#146414"/>
<circle cx="52.9" cy="1.8" r="0.9" fill="#0f4e0f"/>
<circle cx="46.5" cy="41.3" r="1.0" fill="#0f4e0f"/>
<circle cx="19.3" cy="15.0" r="1.1" fill="#146414"/>
<circle cx="36.3" cy="16.2" r="1.1" fill="#041c04"/>
<circle cx="27.1" cy="33.9" r="0.8" fill="#0a3a0a"/>
<circle cx="17.8" cy="37.5" r="1.0" fill="#0a3a0a"/>
<circle cx="26.8" cy="47.7" r="1.1" fill="#041c04"/>
<circle cx="8.0" cy="10.9" r="1.2" fill="#0a3a0a"/>
<circle cx="21.6" cy="21.1" r="1.1" fill="#146414"/>
<circle cx="31.3" cy="7.7" r="1.1" fill="#041c04"/>
<circle cx="38.7" cy="29.4" r="1.2" fill="#041c04"/>
<circle cx="3.9" cy="10.1" r="1.2" fill="#146414"/>
<circle cx="16.2" cy="18.8" r="0.9" fill="#0a3a0a"/>
<circle cx="38.4" cy="49.1" r="1.2" fill="#041c04"/>
<circle cx="47.9" cy="14.7" r="0.7" fill="#0f4e0f"/>
<circle cx="40.4" cy="33.4" r="0.7" fill="#0f4e0f"/>
<circle cx="11.6" cy="21.3" r="0.7" fill="#041c04"/>
<circle cx="46.1" cy="34.5" r="0.7" fill="#0f4e0f"/>
<circle cx="51.3" cy="32.0" r="0.6" fill="#041c04"/>
<circle cx="38.3" cy="0.3" r="0.7" fill="#0f4e0f"/>
<circle cx="34.1" cy="49.2" r="0.7" fill="#041c04"/>
<circle cx="46.3" cy="1.4" r="0.9" fill="#041c04"/>
<circle cx="9.3" cy="46.0" r="1.1" fill="#0f4e0f"/>
<circle cx="33.4" cy="17.8" r="0.9" fill="#0a3a0a"/>
<circle cx="13.7" cy="24.7" r="0.5" fill="#041c04"/>
<circle cx="30.1" cy="52.6" r="0.5" fill="#041c04"/>
<circle cx="8.4" cy="1.0" r="0.7" fill="#0f4e0f"/>
<circle cx="19.1" cy="19.3" r="0.8" fill="#146414"/>
<circle cx="35.0" cy="32.1" r="0.8" fill="#041c04"/>
<circle cx="43.4" cy="25.5" r="0.5" fill="#041c04"/>
<circle cx="34.7" cy="29.3" r="1.1" fill="#041c04"/>
<circle cx="19.3" cy="28.2" r="0.7" fill="#041c04"/>
<circle cx="0.5" cy="25.4" r="1.0" fill="#041c04"/>
<circle cx="8.0" cy="33.5" r="0.8" fill="#0f4e0f"/>
<circle cx="49.9" cy="33.3" r="0.6" fill="#146414"/>
<circle cx="29.6" cy="9.7" r="1.3" fill="#041c04"/>
<circle cx="39.3" cy="48.1" r="1.2" fill="#146414"/>
<circle cx="28.2" cy="18.7" r="1.1" fill="#0a3a0a"/>
<circle cx="52.4" cy="26.6" r="1.0" fill="#041c04"/>
<circle cx="48.0" cy="20.7" r="0.7" fill="#0f4e0f"/>
<circle cx="5.7" cy="39.1" r="0.6" fill="#0a3a0a"/>
<circle cx="35.9" cy="18.7" r="0.7" fill="#0a3a0a"/>
<circle cx="21.8" cy="49.0" r="1.3" fill="#146414"/>
<circle cx="1.6" cy="1.1" r="1.1" fill="#146414"/>
<circle cx="12.3" cy="10.8" r="1.1" fill="#041c04"/>
<circle cx="15.9" cy="53.0" r="0.7" fill="#146414"/>
<circle cx="25.4" cy="49.8" r="1.1" fill="#146414"/>
<circle cx="43.9" cy="15.1" r="0.8" fill="#0a3a0a"/>
<circle cx="46.5" cy="13.3" r="0.8" fill="#0a3a0a"/>
<circle cx="11.3" cy="2.8" r="1.1" fill="#041c04"/>
<circle cx="2.5" cy="41.3" r="0.9" fill="#0a3a0a"/>
<circle cx="46.0" cy="53.0" r="0.7" fill="#0f4e0f"/>
<circle cx="42.9" cy="8.1" r="1.2" fill="#146414"/>
<circle cx="48.6" cy="8.0" r="1.1" fill="#0f4e0f"/>
<circle cx="40.0" cy="24.8" r="0.8" fill="#0a3a0a"/>
<circle cx="18.1" cy="49.0" r="1.1" fill="#041c04"/>
<circle cx="52.2" cy="1.8" r="0.7" fill="#0f4e0f"/>
</g>
<g filter="url(#blur06)">
<ellipse cx="13.3" cy="7.6" rx="5.14" ry="4.60" fill="#1ccc1c"/>
<circle cx="11.5" cy="8.0" r="0.9" fill="#139a13" opacity="0.7"/>
<circle cx="13.7" cy="8.5" r="0.9" fill="#139a13" opacity="0.7"/>
<circle cx="14.4" cy="5.7" r="0.9" fill="#139a13" opacity="0.7"/>
<ellipse cx="31.4" cy="6.2" rx="4.07" ry="5.14" fill="#24de24"/>
<circle cx="29.7" cy="4.3" r="0.8" fill="#139a13" opacity="0.7"/>
<circle cx="33.1" cy="8.5" r="0.8" fill="#139a13" opacity="0.7"/>
<circle cx="31.5" cy="3.8" r="0.8" fill="#139a13" opacity="0.7"/>
<ellipse cx="41.8" cy="10.9" rx="5.56" ry="4.07" fill="#20d620"/>
<circle cx="42.8" cy="9.6" r="0.8" fill="#139a13" opacity="0.7"/>
<circle cx="43.0" cy="10.9" r="0.8" fill="#139a13" opacity="0.7"/>
<circle cx="39.8" cy="10.3" r="0.8" fill="#139a13" opacity="0.7"/>
<ellipse cx="47.1" cy="18.5" rx="4.60" ry="5.14" fill="#19c019"/>
<circle cx="49.1" cy="16.5" r="0.9" fill="#139a13" opacity="0.7"/>
<circle cx="49.1" cy="20.2" r="0.9" fill="#139a13" opacity="0.7"/>
<circle cx="49.1" cy="17.2" r="0.9" fill="#139a13" opacity="0.7"/>
<ellipse cx="26.1" cy="15.2" rx="4.07" ry="4.60" fill="#1ccc1c"/>
<circle cx="25.2" cy="13.8" r="0.8" fill="#139a13" opacity="0.7"/>
<circle cx="25.2" cy="13.3" r="0.8" fill="#139a13" opacity="0.7"/>
<circle cx="24.4" cy="15.2" r="0.8" fill="#139a13" opacity="0.7"/>
<ellipse cx="5.7" cy="18.1" rx="3.53" ry="4.60" fill="#19c019"/>
<circle cx="6.7" cy="20.0" r="0.7" fill="#139a13" opacity="0.7"/>
<circle cx="4.9" cy="17.4" r="0.7" fill="#139a13" opacity="0.7"/>
<circle cx="4.2" cy="17.9" r="0.7" fill="#139a13" opacity="0.7"/>
<ellipse cx="12.8" cy="21.4" rx="3.10" ry="4.60" fill="#24de24"/>
<circle cx="12.9" cy="22.2" r="0.6" fill="#139a13" opacity="0.7"/>
<circle cx="14.2" cy="23.0" r="0.6" fill="#139a13" opacity="0.7"/>
<circle cx="13.4" cy="21.0" r="0.6" fill="#139a13" opacity="0.7"/>
<ellipse cx="29.9" cy="24.2" rx="4.60" ry="3.53" fill="#24de24"/>
<circle cx="30.1" cy="23.8" r="0.7" fill="#139a13" opacity="0.7"/>
<circle cx="28.4" cy="25.1" r="0.7" fill="#139a13" opacity="0.7"/>
<circle cx="31.5" cy="25.2" r="0.7" fill="#139a13" opacity="0.7"/>
<ellipse cx="4.8" cy="27.6" rx="5.14" ry="4.60" fill="#1ccc1c"/>
<circle cx="3.5" cy="27.6" r="0.9" fill="#139a13" opacity="0.7"/>
<circle cx="7.1" cy="28.4" r="0.9" fill="#139a13" opacity="0.7"/>
<circle cx="5.9" cy="29.7" r="0.9" fill="#139a13" opacity="0.7"/>
<ellipse cx="20" cy="35.7" rx="4.60" ry="3.53" fill="#20d620"/>
<circle cx="20.7" cy="34.3" r="0.7" fill="#139a13" opacity="0.7"/>
<circle cx="20.5" cy="34.2" r="0.7" fill="#139a13" opacity="0.7"/>
<circle cx="20.9" cy="35.4" r="0.7" fill="#139a13" opacity="0.7"/>
<ellipse cx="48.5" cy="39" rx="4.07" ry="4.60" fill="#24de24"/>
<circle cx="49.2" cy="38.8" r="0.8" fill="#139a13" opacity="0.7"/>
<circle cx="49.1" cy="38.8" r="0.8" fill="#139a13" opacity="0.7"/>
<circle cx="48.8" cy="38.9" r="0.8" fill="#139a13" opacity="0.7"/>
<ellipse cx="5.7" cy="43.3" rx="5.14" ry="5.14" fill="#19c019"/>
<circle cx="5.7" cy="43.7" r="1.1" fill="#139a13" opacity="0.7"/>
<circle cx="8.1" cy="42.0" r="1.1" fill="#139a13" opacity="0.7"/>
<circle cx="6.3" cy="44.5" r="1.1" fill="#139a13" opacity="0.7"/>
<ellipse cx="25.2" cy="47.1" rx="4.60" ry="4.07" fill="#19c019"/>
<circle cx="24.6" cy="45.4" r="0.8" fill="#139a13" opacity="0.7"/>
<circle cx="27.2" cy="46.2" r="0.8" fill="#139a13" opacity="0.7"/>
<circle cx="25.9" cy="48.3" r="0.8" fill="#139a13" opacity="0.7"/>
<ellipse cx="35.7" cy="44.7" rx="4.60" ry="3.53" fill="#1ccc1c"/>
<circle cx="36.3" cy="44.8" r="0.7" fill="#139a13" opacity="0.7"/>
<circle cx="34.5" cy="45.1" r="0.7" fill="#139a13" opacity="0.7"/>
<circle cx="34.7" cy="46.0" r="0.7" fill="#139a13" opacity="0.7"/>
<ellipse cx="20.4" cy="1" rx="4.07" ry="1.50" fill="#19c019"/>
<circle cx="21.8" cy="0.8" r="0.3" fill="#139a13" opacity="0.7"/>
<circle cx="20.7" cy="1.1" r="0.3" fill="#139a13" opacity="0.7"/>
<circle cx="22.3" cy="0.4" r="0.3" fill="#139a13" opacity="0.7"/>
</g>
</svg>
<path d="M121.7,220.8 V232.7 H310.4 V220.8" stroke="#3a3a3a" stroke-width="1" fill="none"/>
<line x1="216.90" y1="232.70" x2="216.90" y2="248.00" stroke="#3a3a3a" stroke-width="1"/>
<polygon points="214.90,247.50 218.90,247.50 216.90,251.50" fill="#222"/>
<text x="215.00" y="262.00" font-size="9.55" text-anchor="middle" fill="#1a1a1a" stroke="#1a1a1a" stroke-width="0.12" stroke-opacity="0.6">YAP localization</text>
<line x1="200.00" y1="268.00" x2="192.30" y2="282.30" stroke="#3a3a3a" stroke-width="1"/>
<polygon points="192.53,277.65 196.05,279.55 192.16,282.56" fill="#222"/>
<line x1="232.60" y1="268.00" x2="239.60" y2="282.30" stroke="#3a3a3a" stroke-width="1"/>
<polygon points="235.96,279.41 239.55,277.65 239.73,282.57" fill="#222"/>
<text x="113.30" y="307.00" font-size="9.5" text-anchor="middle" fill="#3bbf3b" stroke="#3bbf3b" stroke-width="0.12" stroke-opacity="0.6">YAP</text>
<text x="113.30" y="317.00" font-size="9.5" text-anchor="middle" fill="#ee3b3b" stroke="#ee3b3b" stroke-width="0.12" stroke-opacity="0.6">Hippo mutant</text>
<svg x="151.6" y="287.6" width="45.8" height="45.8" viewBox="0 0 45.8 45.8" overflow="hidden">
<rect width="45.8" height="45.8" fill="#1c861c"/>
<g filter="url(#blur2)">
<ellipse cx="18.5" cy="2.5" rx="11" ry="5" fill="#061e06"/>
<ellipse cx="38" cy="7" rx="9" ry="8" fill="#1a7a1a"/>
<ellipse cx="1" cy="22" rx="2.2" ry="9" fill="#0a300a"/>
<ellipse cx="22" cy="40" rx="22" ry="7" fill="#1a8a1a"/>
<ellipse cx="44" cy="42" rx="4" ry="5" fill="#0c400c"/>
</g>
<g filter="url(#blur08)" opacity="0.45">
<circle cx="20.7" cy="25.6" r="1.5" fill="#0f5a0f"/>
<circle cx="20.7" cy="39.2" r="0.8" fill="#22962a"/>
<circle cx="21.8" cy="28.1" r="0.8" fill="#0f5a0f"/>
<circle cx="13.9" cy="4.2" r="1.4" fill="#22962a"/>
<circle cx="29.1" cy="27.3" r="1.0" fill="#0f5a0f"/>
<circle cx="29.9" cy="28.2" r="0.8" fill="#2aa82a"/>
<circle cx="38.1" cy="2.9" r="0.6" fill="#2aa82a"/>
<circle cx="27.5" cy="35.6" r="0.9" fill="#22962a"/>
<circle cx="38.6" cy="23.8" r="1.2" fill="#0f5a0f"/>
<circle cx="0.2" cy="3.9" r="1.3" fill="#0f5a0f"/>
<circle cx="45.7" cy="45.6" r="1.4" fill="#22962a"/>
<circle cx="11.6" cy="34.7" r="1.1" fill="#2aa82a"/>
<circle cx="3.2" cy="35.1" r="1.0" fill="#0f5a0f"/>
<circle cx="17.7" cy="43.9" r="1.4" fill="#2aa82a"/>
<circle cx="9.8" cy="42.5" r="0.7" fill="#0f5a0f"/>
<circle cx="44.9" cy="18.2" r="0.7" fill="#22962a"/>
<circle cx="9.1" cy="30.9" r="0.9" fill="#0f5a0f"/>
<circle cx="15.2" cy="44.2" r="1.4" fill="#2aa82a"/>
<circle cx="6.2" cy="32.4" r="0.6" fill="#0f5a0f"/>
<circle cx="36.5" cy="8.1" r="1.2" fill="#0f5a0f"/>
<circle cx="23.3" cy="45.1" r="1.4" fill="#0f5a0f"/>
<circle cx="29.5" cy="5.3" r="1.0" fill="#2aa82a"/>
<circle cx="0.0" cy="39.6" r="1.6" fill="#22962a"/>
<circle cx="13.9" cy="40.5" r="0.8" fill="#0f5a0f"/>
<circle cx="45.6" cy="27.6" r="1.2" fill="#2aa82a"/>
<circle cx="45.3" cy="9.8" r="0.9" fill="#22962a"/>
<circle cx="15.1" cy="13.6" r="0.7" fill="#2aa82a"/>
<circle cx="9.6" cy="29.2" r="0.6" fill="#0f5a0f"/>
<circle cx="17.0" cy="20.8" r="1.6" fill="#0f5a0f"/>
<circle cx="38.1" cy="6.2" r="1.0" fill="#22962a"/>
<circle cx="7.1" cy="41.6" r="1.4" fill="#2aa82a"/>
<circle cx="33.2" cy="7.3" r="1.2" fill="#22962a"/>
<circle cx="9.0" cy="43.5" r="1.5" fill="#22962a"/>
<circle cx="3.6" cy="2.2" r="0.7" fill="#22962a"/>
<circle cx="44.1" cy="10.9" r="1.3" fill="#0f5a0f"/>
<circle cx="19.3" cy="41.4" r="1.1" fill="#22962a"/>
<circle cx="8.0" cy="33.0" r="0.7" fill="#2aa82a"/>
<circle cx="22.0" cy="29.9" r="1.2" fill="#2aa82a"/>
<circle cx="12.8" cy="42.0" r="0.8" fill="#2aa82a"/>
<circle cx="3.2" cy="18.8" r="0.8" fill="#2aa82a"/>
<circle cx="8.1" cy="16.9" r="1.2" fill="#2aa82a"/>
<circle cx="4.2" cy="6.3" r="1.1" fill="#0f5a0f"/>
<circle cx="30.1" cy="31.7" r="1.2" fill="#2aa82a"/>
<circle cx="27.0" cy="42.3" r="1.1" fill="#0f5a0f"/>
<circle cx="32.1" cy="44.1" r="0.6" fill="#22962a"/>
<circle cx="3.4" cy="3.1" r="0.9" fill="#2aa82a"/>
<circle cx="45.8" cy="3.4" r="1.1" fill="#22962a"/>
<circle cx="2.0" cy="42.9" r="1.3" fill="#2aa82a"/>
<circle cx="36.3" cy="41.9" r="1.0" fill="#22962a"/>
<circle cx="21.7" cy="3.6" r="1.5" fill="#2aa82a"/>
<circle cx="39.5" cy="26.2" r="1.2" fill="#0f5a0f"/>
<circle cx="17.4" cy="0.6" r="0.7" fill="#2aa82a"/>
<circle cx="29.3" cy="45.5" r="1.5" fill="#22962a"/>
<circle cx="15.1" cy="42.8" r="1.3" fill="#0f5a0f"/>
<circle cx="20.2" cy="38.4" r="0.7" fill="#22962a"/>
<circle cx="1.4" cy="27.5" r="1.1" fill="#2aa82a"/>
<circle cx="43.8" cy="5.2" r="1.4" fill="#22962a"/>
<circle cx="42.2" cy="11.7" r="0.6" fill="#0f5a0f"/>
<circle cx="6.6" cy="28.0" r="1.1" fill="#0f5a0f"/>
<circle cx="30.2" cy="20.2" r="1.5" fill="#0f5a0f"/>
<circle cx="18.5" cy="11.5" r="1.2" fill="#2aa82a"/>
<circle cx="40.3" cy="17.6" r="1.2" fill="#0f5a0f"/>
<circle cx="9.6" cy="6.2" r="1.0" fill="#2aa82a"/>
<circle cx="32.6" cy="43.5" r="0.9" fill="#2aa82a"/>
<circle cx="5.2" cy="21.6" r="1.5" fill="#0f5a0f"/>
<circle cx="17.5" cy="23.8" r="1.3" fill="#22962a"/>
<circle cx="38.4" cy="45.0" r="1.1" fill="#2aa82a"/>
<circle cx="38.0" cy="12.7" r="1.2" fill="#22962a"/>
<circle cx="32.5" cy="26.1" r="0.9" fill="#22962a"/>
<circle cx="0.9" cy="6.2" r="1.1" fill="#2aa82a"/>
<circle cx="35.2" cy="12.2" r="1.4" fill="#2aa82a"/>
<circle cx="45.1" cy="5.3" r="0.7" fill="#22962a"/>
<circle cx="30.0" cy="37.0" r="1.6" fill="#22962a"/>
<circle cx="9.1" cy="37.7" r="0.9" fill="#22962a"/>
<circle cx="0.5" cy="21.6" r="1.3" fill="#2aa82a"/>
<circle cx="10.4" cy="35.7" r="1.1" fill="#22962a"/>
<circle cx="22.9" cy="45.7" r="0.8" fill="#22962a"/>
<circle cx="41.5" cy="4.0" r="1.5" fill="#22962a"/>
<circle cx="17.8" cy="20.6" r="0.8" fill="#2aa82a"/>
<circle cx="17.3" cy="26.1" r="1.5" fill="#0f5a0f"/>
<circle cx="21.2" cy="29.8" r="0.8" fill="#22962a"/>
<circle cx="39.7" cy="36.6" r="1.5" fill="#2aa82a"/>
<circle cx="9.8" cy="41.2" r="1.6" fill="#0f5a0f"/>
<circle cx="24.6" cy="36.2" r="0.9" fill="#22962a"/>
<circle cx="39.2" cy="16.0" r="0.7" fill="#0f5a0f"/>
<circle cx="15.7" cy="19.3" r="0.9" fill="#2aa82a"/>
<circle cx="10.0" cy="39.7" r="1.0" fill="#2aa82a"/>
<circle cx="7.9" cy="15.3" r="1.4" fill="#2aa82a"/>
<circle cx="21.6" cy="45.8" r="1.5" fill="#22962a"/>
<circle cx="38.5" cy="31.6" r="1.5" fill="#0f5a0f"/>
<circle cx="26.5" cy="31.6" r="1.4" fill="#0f5a0f"/>
<circle cx="24.1" cy="13.3" r="1.3" fill="#22962a"/>
<circle cx="7.5" cy="23.6" r="1.5" fill="#0f5a0f"/>
<circle cx="14.3" cy="17.5" r="1.4" fill="#22962a"/>
<circle cx="9.5" cy="39.0" r="1.6" fill="#22962a"/>
<circle cx="12.5" cy="22.8" r="1.0" fill="#2aa82a"/>
<circle cx="23.0" cy="27.7" r="0.6" fill="#2aa82a"/>
<circle cx="23.6" cy="18.3" r="1.4" fill="#22962a"/>
<circle cx="5.6" cy="4.3" r="0.8" fill="#22962a"/>
<circle cx="21.0" cy="42.2" r="1.4" fill="#0f5a0f"/>
<circle cx="12.3" cy="21.7" r="0.7" fill="#0f5a0f"/>
<circle cx="41.3" cy="42.9" r="1.5" fill="#22962a"/>
<circle cx="14.5" cy="8.8" r="1.2" fill="#0f5a0f"/>
<circle cx="5.9" cy="35.7" r="0.6" fill="#2aa82a"/>
<circle cx="7.1" cy="0.5" r="0.9" fill="#22962a"/>
<circle cx="16.3" cy="28.4" r="0.7" fill="#22962a"/>
<circle cx="26.7" cy="39.0" r="1.2" fill="#22962a"/>
<circle cx="9.1" cy="24.3" r="1.0" fill="#0f5a0f"/>
<circle cx="29.0" cy="37.8" r="1.2" fill="#22962a"/>
<circle cx="9.4" cy="28.9" r="1.2" fill="#22962a"/>
<circle cx="9.9" cy="24.9" r="1.2" fill="#2aa82a"/>
<circle cx="10.7" cy="33.9" r="1.4" fill="#2aa82a"/>
<circle cx="14.5" cy="14.4" r="1.5" fill="#2aa82a"/>
<circle cx="35.6" cy="8.9" r="0.7" fill="#2aa82a"/>
<circle cx="6.1" cy="4.0" r="1.0" fill="#0f5a0f"/>
<circle cx="38.1" cy="19.3" r="1.4" fill="#2aa82a"/>
<circle cx="9.2" cy="28.8" r="1.4" fill="#2aa82a"/>
<circle cx="9.2" cy="31.3" r="1.5" fill="#0f5a0f"/>
<circle cx="5.3" cy="23.2" r="1.4" fill="#22962a"/>
<circle cx="45.7" cy="38.1" r="1.4" fill="#0f5a0f"/>
<circle cx="4.9" cy="1.7" r="1.2" fill="#22962a"/>
<circle cx="41.5" cy="22.0" r="0.8" fill="#2aa82a"/>
<circle cx="9.3" cy="38.5" r="1.6" fill="#22962a"/>
<circle cx="4.4" cy="2.8" r="1.6" fill="#0f5a0f"/>
<circle cx="3.6" cy="4.4" r="1.0" fill="#0f5a0f"/>
<circle cx="23.6" cy="19.7" r="1.2" fill="#2aa82a"/>
<circle cx="29.0" cy="1.9" r="0.8" fill="#0f5a0f"/>
<circle cx="20.8" cy="33.9" r="1.0" fill="#2aa82a"/>
<circle cx="27.7" cy="4.3" r="1.4" fill="#0f5a0f"/>
<circle cx="40.9" cy="36.7" r="1.3" fill="#22962a"/>
<circle cx="43.0" cy="26.1" r="0.8" fill="#22962a"/>
<circle cx="45.0" cy="36.9" r="0.9" fill="#2aa82a"/>
<circle cx="34.1" cy="35.6" r="1.4" fill="#0f5a0f"/>
<circle cx="6.1" cy="15.1" r="1.1" fill="#0f5a0f"/>
<circle cx="35.1" cy="35.0" r="1.0" fill="#22962a"/>
<circle cx="8.5" cy="36.5" r="0.9" fill="#2aa82a"/>
<circle cx="0.5" cy="16.3" r="1.2" fill="#22962a"/>
<circle cx="2.3" cy="12.5" r="1.6" fill="#0f5a0f"/>
<circle cx="15.5" cy="30.2" r="1.2" fill="#22962a"/>
<circle cx="3.5" cy="23.6" r="1.1" fill="#2aa82a"/>
<circle cx="32.1" cy="34.9" r="1.6" fill="#2aa82a"/>
<circle cx="5.3" cy="4.9" r="0.8" fill="#0f5a0f"/>
<circle cx="18.4" cy="2.3" r="0.8" fill="#0f5a0f"/>
<circle cx="0.5" cy="11.8" r="0.9" fill="#0f5a0f"/>
<circle cx="25.2" cy="23.3" r="1.6" fill="#22962a"/>
<circle cx="38.8" cy="4.6" r="1.0" fill="#22962a"/>
<circle cx="3.5" cy="27.4" r="1.4" fill="#2aa82a"/>
<circle cx="17.7" cy="43.0" r="1.0" fill="#2aa82a"/>
<circle cx="39.2" cy="24.8" r="1.2" fill="#0f5a0f"/>
<circle cx="43.3" cy="19.3" r="1.1" fill="#22962a"/>
<circle cx="14.3" cy="24.3" r="1.1" fill="#0f5a0f"/>
<circle cx="25.7" cy="13.0" r="1.3" fill="#0f5a0f"/>
<circle cx="1.2" cy="35.4" r="1.2" fill="#22962a"/>
<circle cx="7.2" cy="34.6" r="1.0" fill="#0f5a0f"/>
<circle cx="34.3" cy="2.3" r="1.6" fill="#0f5a0f"/>
<circle cx="3.4" cy="41.5" r="1.0" fill="#0f5a0f"/>
<circle cx="11.5" cy="34.6" r="0.6" fill="#2aa82a"/>
<circle cx="42.9" cy="33.1" r="1.1" fill="#2aa82a"/>
<circle cx="27.6" cy="5.3" r="1.2" fill="#0f5a0f"/>
<circle cx="5.4" cy="39.4" r="1.0" fill="#2aa82a"/>
</g>
<g filter="url(#blur08)">
<path d="M0.4,1.6 L3.2,3.2 L8.8,5.6 L14.5,5.6 L22.5,6.4 L28.9,8.8 L33,13.6 L35.3,15.7 L32.1,17.7 L28.9,19.3 L25.7,23.3 L23.3,28.1 L20.9,29.7 L14.5,31.3 L8.8,32.1 L4.8,28.9 L2.4,24.9 L2.4,18.5 L2.4,12.9 L0.8,8 L0,4.8 Z" fill="#dc4c18"/>
<ellipse cx="1.5" cy="1.5" rx="2.5" ry="2.5" fill="#e04a18"/>
<ellipse cx="12.9" cy="21.7" rx="6.8" ry="7.1" fill="#2c9a24"/>
<ellipse cx="13.2" cy="21.5" rx="2.6" ry="3" fill="#1a5a14"/>
<ellipse cx="36.1" cy="26.5" rx="7" ry="8.9" fill="#2fba2f"/>
<ellipse cx="36.5" cy="27" rx="3" ry="2" fill="#1f8a1f"/>
<ellipse cx="1.6" cy="35.3" rx="2.5" ry="2" fill="#a07818"/>
</g>
<g filter="url(#blur08)" opacity="0.35">
<circle cx="17.1" cy="21.0" r="1.0" fill="#c03a10"/>
<circle cx="13.7" cy="31.9" r="0.8" fill="#b84a14"/>
<circle cx="29.2" cy="22.1" r="0.9" fill="#b84a14"/>
<circle cx="0.1" cy="20.0" r="1.2" fill="#e86a28"/>
<circle cx="5.8" cy="29.0" r="0.5" fill="#c03a10"/>
<circle cx="2.7" cy="22.0" r="0.7" fill="#e86a28"/>
<circle cx="28.7" cy="2.8" r="1.1" fill="#b84a14"/>
<circle cx="18.3" cy="2.9" r="1.2" fill="#e86a28"/>
<circle cx="4.1" cy="13.5" r="0.6" fill="#e86a28"/>
<circle cx="31.8" cy="17.9" r="1.2" fill="#c03a10"/>
<circle cx="20.0" cy="16.2" r="0.6" fill="#b84a14"/>
<circle cx="15.1" cy="19.1" r="0.8" fill="#e86a28"/>
<circle cx="19.5" cy="20.5" r="0.6" fill="#c03a10"/>
<circle cx="35.1" cy="21.2" r="0.7" fill="#e86a28"/>
<circle cx="31.2" cy="12.3" r="0.7" fill="#e86a28"/>
<circle cx="8.5" cy="11.6" r="0.9" fill="#b84a14"/>
<circle cx="6.5" cy="12.2" r="1.1" fill="#c03a10"/>
<circle cx="18.7" cy="7.1" r="0.8" fill="#e86a28"/>
<circle cx="7.4" cy="19.4" r="1.0" fill="#c03a10"/>
<circle cx="6.4" cy="22.3" r="0.5" fill="#e86a28"/>
<circle cx="17.9" cy="19.3" r="1.0" fill="#b84a14"/>
<circle cx="16.5" cy="6.7" r="0.7" fill="#e86a28"/>
<circle cx="25.1" cy="27.4" r="0.7" fill="#c03a10"/>
<circle cx="16.7" cy="17.6" r="0.6" fill="#b84a14"/>
<circle cx="7.9" cy="19.4" r="1.2" fill="#e86a28"/>
<circle cx="6.5" cy="25.4" r="0.9" fill="#c03a10"/>
<circle cx="22.3" cy="31.5" r="1.2" fill="#b84a14"/>
<circle cx="5.6" cy="29.7" r="1.1" fill="#b84a14"/>
<circle cx="30.0" cy="20.5" r="0.7" fill="#b84a14"/>
<circle cx="18.1" cy="15.7" r="0.7" fill="#b84a14"/>
<circle cx="34.1" cy="28.6" r="0.6" fill="#e86a28"/>
<circle cx="22.2" cy="1.5" r="0.7" fill="#b84a14"/>
<circle cx="23.0" cy="14.2" r="1.1" fill="#b84a14"/>
<circle cx="10.3" cy="8.2" r="1.0" fill="#b84a14"/>
<circle cx="1.0" cy="17.9" r="0.7" fill="#c03a10"/>
<circle cx="8.7" cy="13.9" r="1.2" fill="#b84a14"/>
<circle cx="20.5" cy="23.0" r="1.2" fill="#e86a28"/>
<circle cx="27.4" cy="13.4" r="0.9" fill="#e86a28"/>
<circle cx="28.4" cy="18.6" r="0.7" fill="#e86a28"/>
<circle cx="23.0" cy="12.3" r="0.6" fill="#b84a14"/>
<circle cx="25.6" cy="28.9" r="1.1" fill="#c03a10"/>
<circle cx="32.8" cy="17.1" r="1.1" fill="#e86a28"/>
<circle cx="28.5" cy="22.7" r="0.6" fill="#e86a28"/>
<circle cx="33.6" cy="22.1" r="0.9" fill="#b84a14"/>
<circle cx="22.0" cy="6.8" r="0.9" fill="#b84a14"/>
<circle cx="14.2" cy="7.9" r="0.8" fill="#e86a28"/>
<circle cx="3.0" cy="10.6" r="1.0" fill="#b84a14"/>
<circle cx="11.2" cy="22.3" r="1.0" fill="#b84a14"/>
<circle cx="22.9" cy="14.0" r="0.6" fill="#c03a10"/>
<circle cx="17.6" cy="14.2" r="0.6" fill="#b84a14"/>
<circle cx="21.4" cy="14.6" r="1.1" fill="#c03a10"/>
<circle cx="34.0" cy="0.2" r="0.8" fill="#e86a28"/>
<circle cx="30.6" cy="22.0" r="0.7" fill="#b84a14"/>
<circle cx="33.1" cy="16.0" r="1.0" fill="#c03a10"/>
<circle cx="18.0" cy="12.4" r="0.9" fill="#b84a14"/>
<circle cx="9.0" cy="14.7" r="1.1" fill="#c03a10"/>
<circle cx="14.7" cy="22.4" r="1.1" fill="#b84a14"/>
<circle cx="24.2" cy="21.2" r="1.2" fill="#b84a14"/>
<circle cx="20.5" cy="10.0" r="1.0" fill="#c03a10"/>
<circle cx="11.6" cy="16.0" r="0.8" fill="#e86a28"/>
</g>
</svg>
<svg x="232.9" y="286.9" width="45.5" height="45.5" viewBox="0 0 45.5 45.5" overflow="hidden">
<rect width="45.5" height="45.5" fill="#186e18"/>
<g filter="url(#blur2)">
<ellipse cx="16" cy="10" rx="10" ry="10" fill="#2aa42a"/>
<path d="M24,0 L45.5,0 L45.5,18 L36,14 L28,10 Z" fill="#0c340c"/>
<ellipse cx="2" cy="20" rx="3" ry="14" fill="#0c420c"/>
<ellipse cx="36" cy="33" rx="9.4" ry="8.7" fill="#2cbc2c"/>
<ellipse cx="16" cy="41" rx="11" ry="5" fill="#1f901f"/>
</g>
<g filter="url(#blur08)" opacity="0.45">
<circle cx="7.5" cy="31.4" r="1.2" fill="#0f5a0f"/>
<circle cx="38.4" cy="45.0" r="1.1" fill="#20902a"/>
<circle cx="8.4" cy="24.0" r="1.4" fill="#2aa82a"/>
<circle cx="16.9" cy="26.6" r="0.7" fill="#2aa82a"/>
<circle cx="41.9" cy="31.6" r="1.0" fill="#20902a"/>
<circle cx="35.1" cy="18.5" r="1.0" fill="#0f5a0f"/>
<circle cx="24.6" cy="31.6" r="1.2" fill="#0f5a0f"/>
<circle cx="1.1" cy="33.7" r="0.7" fill="#2aa82a"/>
<circle cx="20.6" cy="25.1" r="0.9" fill="#0f5a0f"/>
<circle cx="6.9" cy="30.3" r="1.1" fill="#2aa82a"/>
<circle cx="3.4" cy="9.0" r="1.3" fill="#20902a"/>
<circle cx="34.3" cy="34.7" r="1.2" fill="#20902a"/>
<circle cx="3.2" cy="25.5" r="1.2" fill="#0f5a0f"/>
<circle cx="9.1" cy="42.0" r="1.5" fill="#0f5a0f"/>
<circle cx="13.3" cy="43.4" r="1.1" fill="#0f5a0f"/>
<circle cx="45.3" cy="17.6" r="0.6" fill="#2aa82a"/>
<circle cx="7.2" cy="32.6" r="1.6" fill="#2aa82a"/>
<circle cx="22.4" cy="25.0" r="1.3" fill="#2aa82a"/>
<circle cx="26.0" cy="14.5" r="1.6" fill="#2aa82a"/>
<circle cx="8.2" cy="7.7" r="0.9" fill="#0f5a0f"/>
<circle cx="15.8" cy="27.2" r="0.9" fill="#2aa82a"/>
<circle cx="7.7" cy="42.0" r="0.8" fill="#0f5a0f"/>
<circle cx="17.1" cy="31.1" r="1.3" fill="#20902a"/>
<circle cx="43.6" cy="18.5" r="1.6" fill="#20902a"/>
<circle cx="26.9" cy="40.2" r="1.1" fill="#0f5a0f"/>
<circle cx="30.3" cy="42.6" r="0.8" fill="#20902a"/>
<circle cx="3.2" cy="36.6" r="1.4" fill="#0f5a0f"/>
<circle cx="2.6" cy="13.1" r="1.5" fill="#20902a"/>
<circle cx="13.2" cy="19.1" r="0.8" fill="#2aa82a"/>
<circle cx="39.6" cy="29.4" r="0.7" fill="#2aa82a"/>
<circle cx="33.9" cy="21.8" r="0.9" fill="#20902a"/>
<circle cx="23.9" cy="33.2" r="0.6" fill="#2aa82a"/>
<circle cx="40.9" cy="16.6" r="0.8" fill="#0f5a0f"/>
<circle cx="27.4" cy="19.4" r="1.2" fill="#0f5a0f"/>
<circle cx="14.0" cy="24.3" r="0.9" fill="#20902a"/>
<circle cx="0.5" cy="31.2" r="1.6" fill="#2aa82a"/>
<circle cx="12.0" cy="14.8" r="0.8" fill="#20902a"/>
<circle cx="19.2" cy="31.1" r="1.4" fill="#2aa82a"/>
<circle cx="6.1" cy="4.3" r="0.7" fill="#2aa82a"/>
<circle cx="29.2" cy="35.8" r="0.7" fill="#2aa82a"/>
<circle cx="29.8" cy="5.8" r="1.1" fill="#0f5a0f"/>
<circle cx="18.0" cy="40.4" r="1.2" fill="#2aa82a"/>
<circle cx="8.4" cy="17.2" r="1.3" fill="#20902a"/>
<circle cx="34.4" cy="27.5" r="1.1" fill="#20902a"/>
<circle cx="35.2" cy="36.0" r="0.6" fill="#0f5a0f"/>
<circle cx="39.3" cy="18.1" r="1.2" fill="#20902a"/>
<circle cx="10.6" cy="43.9" r="1.2" fill="#20902a"/>
<circle cx="1.9" cy="17.7" r="0.9" fill="#0f5a0f"/>
<circle cx="37.2" cy="36.5" r="1.1" fill="#20902a"/>
<circle cx="4.5" cy="27.4" r="1.1" fill="#20902a"/>
<circle cx="14.7" cy="23.5" r="0.9" fill="#20902a"/>
<circle cx="23.9" cy="25.5" r="0.7" fill="#0f5a0f"/>
<circle cx="44.4" cy="16.2" r="0.9" fill="#0f5a0f"/>
<circle cx="4.9" cy="3.5" r="0.7" fill="#0f5a0f"/>
<circle cx="23.0" cy="43.1" r="1.3" fill="#20902a"/>
<circle cx="20.1" cy="23.5" r="1.0" fill="#0f5a0f"/>
<circle cx="3.2" cy="1.1" r="1.3" fill="#2aa82a"/>
<circle cx="11.2" cy="32.0" r="1.4" fill="#20902a"/>
<circle cx="19.4" cy="36.3" r="1.0" fill="#0f5a0f"/>
<circle cx="22.1" cy="28.7" r="1.6" fill="#2aa82a"/>
<circle cx="1.7" cy="7.9" r="1.0" fill="#20902a"/>
<circle cx="40.5" cy="35.5" r="1.2" fill="#20902a"/>
<circle cx="30.4" cy="39.1" r="1.3" fill="#20902a"/>
<circle cx="11.9" cy="21.9" r="1.1" fill="#0f5a0f"/>
<circle cx="28.0" cy="37.5" r="1.6" fill="#2aa82a"/>
<circle cx="7.4" cy="9.2" r="1.5" fill="#20902a"/>
<circle cx="6.6" cy="25.2" r="0.7" fill="#0f5a0f"/>
<circle cx="28.2" cy="17.1" r="1.3" fill="#2aa82a"/>
<circle cx="45.1" cy="7.6" r="1.0" fill="#20902a"/>
<circle cx="15.3" cy="29.2" r="1.3" fill="#0f5a0f"/>
<circle cx="3.7" cy="1.3" r="1.1" fill="#2aa82a"/>
<circle cx="40.9" cy="23.1" r="0.8" fill="#20902a"/>
<circle cx="12.6" cy="17.2" r="1.5" fill="#0f5a0f"/>
<circle cx="18.3" cy="21.0" r="1.3" fill="#20902a"/>
<circle cx="7.9" cy="17.5" r="0.9" fill="#2aa82a"/>
<circle cx="44.4" cy="9.8" r="1.0" fill="#20902a"/>
<circle cx="42.5" cy="32.1" r="0.6" fill="#20902a"/>
<circle cx="26.4" cy="18.1" r="1.0" fill="#0f5a0f"/>
<circle cx="10.9" cy="0.3" r="1.1" fill="#2aa82a"/>
<circle cx="44.3" cy="8.7" r="1.0" fill="#2aa82a"/>
<circle cx="16.8" cy="6.1" r="1.4" fill="#0f5a0f"/>
<circle cx="24.1" cy="2.2" r="0.8" fill="#0f5a0f"/>
<circle cx="40.2" cy="11.1" r="1.2" fill="#20902a"/>
<circle cx="42.1" cy="40.2" r="0.6" fill="#20902a"/>
<circle cx="3.3" cy="19.8" r="1.4" fill="#20902a"/>
<circle cx="8.6" cy="2.7" r="1.4" fill="#20902a"/>
<circle cx="24.4" cy="22.4" r="1.3" fill="#20902a"/>
<circle cx="15.4" cy="12.3" r="1.0" fill="#0f5a0f"/>
<circle cx="29.1" cy="0.4" r="1.4" fill="#20902a"/>
<circle cx="3.1" cy="23.3" r="1.3" fill="#2aa82a"/>
<circle cx="16.4" cy="16.0" r="0.8" fill="#20902a"/>
<circle cx="22.5" cy="31.0" r="1.3" fill="#2aa82a"/>
<circle cx="1.5" cy="10.6" r="1.0" fill="#0f5a0f"/>
<circle cx="18.6" cy="31.4" r="1.3" fill="#20902a"/>
<circle cx="19.3" cy="14.8" r="0.8" fill="#20902a"/>
<circle cx="1.8" cy="16.0" r="1.1" fill="#20902a"/>
<circle cx="29.2" cy="1.0" r="1.0" fill="#0f5a0f"/>
<circle cx="7.4" cy="38.7" r="1.4" fill="#0f5a0f"/>
<circle cx="30.9" cy="9.9" r="1.4" fill="#20902a"/>
<circle cx="24.3" cy="41.3" r="1.6" fill="#0f5a0f"/>
<circle cx="9.6" cy="21.1" r="1.3" fill="#0f5a0f"/>
<circle cx="0.5" cy="16.0" r="1.2" fill="#20902a"/>
<circle cx="1.1" cy="17.1" r="1.3" fill="#2aa82a"/>
<circle cx="42.4" cy="24.4" r="1.5" fill="#2aa82a"/>
<circle cx="10.3" cy="23.4" r="0.9" fill="#0f5a0f"/>
<circle cx="33.7" cy="40.2" r="1.0" fill="#2aa82a"/>
<circle cx="10.9" cy="27.3" r="1.0" fill="#20902a"/>
<circle cx="37.1" cy="16.5" r="0.7" fill="#2aa82a"/>
<circle cx="41.5" cy="43.4" r="1.4" fill="#20902a"/>
<circle cx="33.7" cy="33.7" r="0.8" fill="#20902a"/>
<circle cx="23.8" cy="40.7" r="1.1" fill="#2aa82a"/>
<circle cx="7.3" cy="30.1" r="1.2" fill="#0f5a0f"/>
<circle cx="35.1" cy="34.2" r="1.3" fill="#0f5a0f"/>
<circle cx="8.4" cy="37.6" r="0.8" fill="#0f5a0f"/>
<circle cx="12.1" cy="24.5" r="1.1" fill="#2aa82a"/>
<circle cx="35.9" cy="15.3" r="1.0" fill="#0f5a0f"/>
<circle cx="33.5" cy="33.3" r="1.6" fill="#0f5a0f"/>
<circle cx="6.5" cy="1.5" r="1.4" fill="#20902a"/>
<circle cx="13.5" cy="37.9" r="1.1" fill="#0f5a0f"/>
<circle cx="10.3" cy="33.4" r="1.4" fill="#0f5a0f"/>
<circle cx="30.6" cy="1.2" r="1.5" fill="#2aa82a"/>
<circle cx="22.7" cy="21.0" r="1.0" fill="#20902a"/>
<circle cx="20.4" cy="32.7" r="0.7" fill="#0f5a0f"/>
<circle cx="34.2" cy="17.1" r="0.9" fill="#0f5a0f"/>
<circle cx="36.1" cy="42.2" r="0.8" fill="#0f5a0f"/>
<circle cx="40.5" cy="3.5" r="0.9" fill="#20902a"/>
<circle cx="5.9" cy="34.2" r="1.5" fill="#2aa82a"/>
<circle cx="31.0" cy="13.5" r="0.8" fill="#2aa82a"/>
<circle cx="6.1" cy="35.1" r="1.1" fill="#2aa82a"/>
<circle cx="31.2" cy="15.2" r="1.2" fill="#0f5a0f"/>
<circle cx="0.4" cy="38.3" r="0.9" fill="#0f5a0f"/>
<circle cx="31.7" cy="18.8" r="0.7" fill="#20902a"/>
<circle cx="29.8" cy="1.0" r="1.3" fill="#20902a"/>
<circle cx="32.1" cy="22.2" r="1.1" fill="#20902a"/>
<circle cx="17.0" cy="28.9" r="1.2" fill="#0f5a0f"/>
<circle cx="6.5" cy="18.3" r="1.0" fill="#20902a"/>
<circle cx="20.8" cy="23.4" r="0.8" fill="#2aa82a"/>
<circle cx="0.9" cy="29.3" r="1.1" fill="#2aa82a"/>
<circle cx="35.2" cy="41.1" r="1.3" fill="#0f5a0f"/>
<circle cx="22.3" cy="7.5" r="1.4" fill="#0f5a0f"/>
<circle cx="31.5" cy="13.6" r="1.6" fill="#0f5a0f"/>
<circle cx="8.5" cy="6.9" r="1.2" fill="#2aa82a"/>
<circle cx="10.1" cy="5.1" r="1.1" fill="#2aa82a"/>
<circle cx="28.6" cy="5.6" r="0.7" fill="#20902a"/>
<circle cx="31.8" cy="24.5" r="0.7" fill="#2aa82a"/>
<circle cx="10.0" cy="25.8" r="0.8" fill="#0f5a0f"/>
<circle cx="26.2" cy="37.2" r="1.1" fill="#20902a"/>
<circle cx="37.0" cy="18.2" r="1.6" fill="#20902a"/>
<circle cx="16.3" cy="35.7" r="0.6" fill="#0f5a0f"/>
<circle cx="2.1" cy="18.4" r="1.4" fill="#0f5a0f"/>
</g>
<g filter="url(#blur08)">
<path d="M2.2,29 L5.3,25.8 L13.2,21.9 L17.9,20.3 L21.9,17.2 L25,16.4 L30.5,17.5 L33.7,17.2 L37.6,10.9 L40,14 L43.1,17.9 L41.5,19.5 L36,19.5 L32.1,20.3 L29.7,25 L25,30.5 L20.3,32.1 L14.8,32.9 L9.3,33.7 L3.8,35.2 L2.2,32.9 Z" fill="#e0581c"/>
<path d="M18.7,21.1 L22.7,17.9 L29.7,18.3 L30.5,21.1 L25.8,29 L21.9,31.3 L17.9,30.5 L17.2,26.6 Z" fill="#6a4a12"/>
<ellipse cx="33.5" cy="30" rx="1.5" ry="1.5" fill="#1a7a1a"/>
<ellipse cx="39" cy="36" rx="1.5" ry="1.8" fill="#1a7a1a"/>
</g>
</svg>
<text x="173.00" y="343.20" font-size="9.45" text-anchor="middle" fill="#1a1a1a" stroke="#1a1a1a" stroke-width="0.12" stroke-opacity="0.6">LOF mutation</text>
<text x="256.30" y="342.00" font-size="9.6" text-anchor="middle" fill="#1a1a1a" stroke="#1a1a1a" stroke-width="0.12" stroke-opacity="0.6">Neutral mutation</text>
<text x="362.90" y="9.80" font-size="13.5" text-anchor="start" fill="#000" stroke="#000" stroke-width="0.12" stroke-opacity="0.6" font-weight="bold">b</text>
<line x1="401.30" y1="14.90" x2="401.30" y2="111.90" stroke="#555" stroke-width="1.0"/>
<line x1="398.30" y1="111.40" x2="523.80" y2="111.40" stroke="#6a6a6a" stroke-width="1"/>
<line x1="398.30" y1="111.40" x2="401.30" y2="111.40" stroke="#4a4a4a" stroke-width="1"/>
<text x="397.50" y="114.70" font-size="9.4" text-anchor="end" fill="#1a1a1a" stroke="#1a1a1a" stroke-width="0.12" stroke-opacity="0.6">0</text>
<line x1="398.30" y1="92.10" x2="401.30" y2="92.10" stroke="#4a4a4a" stroke-width="1"/>
<text x="397.50" y="95.40" font-size="9.4" text-anchor="end" fill="#1a1a1a" stroke="#1a1a1a" stroke-width="0.12" stroke-opacity="0.6">6</text>
<line x1="398.30" y1="72.80" x2="401.30" y2="72.80" stroke="#4a4a4a" stroke-width="1"/>
<text x="397.50" y="76.10" font-size="9.4" text-anchor="end" fill="#1a1a1a" stroke="#1a1a1a" stroke-width="0.12" stroke-opacity="0.6">12</text>
<line x1="398.30" y1="53.50" x2="401.30" y2="53.50" stroke="#4a4a4a" stroke-width="1"/>
<text x="397.50" y="56.80" font-size="9.4" text-anchor="end" fill="#1a1a1a" stroke="#1a1a1a" stroke-width="0.12" stroke-opacity="0.6">18</text>
<line x1="398.30" y1="34.20" x2="401.30" y2="34.20" stroke="#4a4a4a" stroke-width="1"/>
<text x="397.50" y="37.50" font-size="9.4" text-anchor="end" fill="#1a1a1a" stroke="#1a1a1a" stroke-width="0.12" stroke-opacity="0.6">24</text>
<line x1="398.30" y1="14.90" x2="401.30" y2="14.90" stroke="#4a4a4a" stroke-width="1"/>
<text x="397.50" y="18.20" font-size="9.4" text-anchor="end" fill="#1a1a1a" stroke="#1a1a1a" stroke-width="0.12" stroke-opacity="0.6">30</text>
<rect x="404.70" y="40.63" width="6.7" height="70.77" fill="#5b9be6"/>
<line x1="408.05" y1="111.40" x2="408.05" y2="114.70" stroke="#666" stroke-width="0.8"/>
<text transform="translate(411.95,117.60) rotate(-90)" font-size="9.65" text-anchor="end" fill="#1a1a1a" stroke="#1a1a1a" stroke-width="0.12" stroke-opacity="0.6">LATS1</text>
<rect x="418.19" y="63.15" width="6.7" height="48.25" fill="#5b9be6"/>
<line x1="421.54" y1="111.40" x2="421.54" y2="114.70" stroke="#666" stroke-width="0.8"/>
<text transform="translate(425.44,117.60) rotate(-90)" font-size="9.65" text-anchor="end" fill="#1a1a1a" stroke="#1a1a1a" stroke-width="0.12" stroke-opacity="0.6">LATS2</text>
<rect x="431.68" y="108.18" width="6.7" height="3.22" fill="#5b9be6"/>
<line x1="435.03" y1="111.40" x2="435.03" y2="114.70" stroke="#666" stroke-width="0.8"/>
<text transform="translate(438.93,117.60) rotate(-90)" font-size="9.65" text-anchor="end" fill="#1a1a1a" stroke="#1a1a1a" stroke-width="0.12" stroke-opacity="0.6">MOB1A</text>
<rect x="445.17" y="108.18" width="6.7" height="3.22" fill="#5b9be6"/>
<line x1="448.52" y1="111.40" x2="448.52" y2="114.70" stroke="#666" stroke-width="0.8"/>
<text transform="translate(452.42,117.60) rotate(-90)" font-size="9.65" text-anchor="end" fill="#1a1a1a" stroke="#1a1a1a" stroke-width="0.12" stroke-opacity="0.6">MOB1B</text>
<rect x="458.66" y="79.23" width="6.7" height="32.17" fill="#5b9be6"/>
<line x1="462.01" y1="111.40" x2="462.01" y2="114.70" stroke="#666" stroke-width="0.8"/>
<text transform="translate(465.91,117.60) rotate(-90)" font-size="9.65" text-anchor="end" fill="#1a1a1a" stroke="#1a1a1a" stroke-width="0.12" stroke-opacity="0.6">MST1</text>
<rect x="472.15" y="79.23" width="6.7" height="32.17" fill="#5b9be6"/>
<line x1="475.50" y1="111.40" x2="475.50" y2="114.70" stroke="#666" stroke-width="0.8"/>
<text transform="translate(479.40,117.60) rotate(-90)" font-size="9.65" text-anchor="end" fill="#1a1a1a" stroke="#1a1a1a" stroke-width="0.12" stroke-opacity="0.6">MST2</text>
<rect x="485.64" y="88.88" width="6.7" height="22.52" fill="#5b9be6"/>
<line x1="488.99" y1="111.40" x2="488.99" y2="114.70" stroke="#666" stroke-width="0.8"/>
<text transform="translate(492.89,117.60) rotate(-90)" font-size="9.65" text-anchor="end" fill="#1a1a1a" stroke="#1a1a1a" stroke-width="0.12" stroke-opacity="0.6">MAP4K2</text>
<rect x="499.13" y="63.15" width="6.7" height="48.25" fill="#5b9be6"/>
<line x1="502.48" y1="111.40" x2="502.48" y2="114.70" stroke="#666" stroke-width="0.8"/>
<text transform="translate(506.38,117.60) rotate(-90)" font-size="9.65" text-anchor="end" fill="#1a1a1a" stroke="#1a1a1a" stroke-width="0.12" stroke-opacity="0.6">MAP4K3</text>
<rect x="512.62" y="98.53" width="6.7" height="12.87" fill="#5b9be6"/>
<line x1="515.97" y1="111.40" x2="515.97" y2="114.70" stroke="#666" stroke-width="0.8"/>
<text transform="translate(519.87,117.60) rotate(-90)" font-size="9.65" text-anchor="end" fill="#1a1a1a" stroke="#1a1a1a" stroke-width="0.12" stroke-opacity="0.6">NF2</text>
<text x="460.30" y="18.60" font-size="9.5" text-anchor="middle" fill="#1a1a1a" stroke="#1a1a1a" stroke-width="0.12" stroke-opacity="0.6">LOF</text>
<text x="460.30" y="28.50" font-size="9.5" text-anchor="middle" fill="#1a1a1a" stroke="#1a1a1a" stroke-width="0.12" stroke-opacity="0.6">missense mutation</text>
<text transform="translate(384.20,61.95) rotate(-90)" font-size="9.55" text-anchor="middle" fill="#1a1a1a" stroke="#1a1a1a" stroke-width="0.12" stroke-opacity="0.6">Number of mutations</text>
<text x="521.30" y="9.80" font-size="13.5" text-anchor="start" fill="#000" stroke="#000" stroke-width="0.12" stroke-opacity="0.6" font-weight="bold">c</text>
<line x1="561.90" y1="14.50" x2="561.90" y2="111.90" stroke="#c4c4c4" stroke-width="1.5"/>
<line x1="558.90" y1="111.40" x2="685.00" y2="111.40" stroke="#6a6a6a" stroke-width="1"/>
<line x1="558.90" y1="111.40" x2="561.90" y2="111.40" stroke="#4a4a4a" stroke-width="1"/>
<text x="558.10" y="114.70" font-size="9.4" text-anchor="end" fill="#1a1a1a" stroke="#1a1a1a" stroke-width="0.12" stroke-opacity="0.6">0</text>
<line x1="558.90" y1="92.02" x2="561.90" y2="92.02" stroke="#4a4a4a" stroke-width="1"/>
<text x="558.10" y="95.32" font-size="9.4" text-anchor="end" fill="#1a1a1a" stroke="#1a1a1a" stroke-width="0.12" stroke-opacity="0.6">50</text>
<line x1="558.90" y1="72.64" x2="561.90" y2="72.64" stroke="#4a4a4a" stroke-width="1"/>
<text x="558.10" y="75.94" font-size="9.4" text-anchor="end" fill="#1a1a1a" stroke="#1a1a1a" stroke-width="0.12" stroke-opacity="0.6">100</text>
<line x1="558.90" y1="53.26" x2="561.90" y2="53.26" stroke="#4a4a4a" stroke-width="1"/>
<text x="558.10" y="56.56" font-size="9.4" text-anchor="end" fill="#1a1a1a" stroke="#1a1a1a" stroke-width="0.12" stroke-opacity="0.6">150</text>
<line x1="558.90" y1="33.88" x2="561.90" y2="33.88" stroke="#4a4a4a" stroke-width="1"/>
<text x="558.10" y="37.18" font-size="9.4" text-anchor="end" fill="#1a1a1a" stroke="#1a1a1a" stroke-width="0.12" stroke-opacity="0.6">200</text>
<line x1="558.90" y1="14.50" x2="561.90" y2="14.50" stroke="#4a4a4a" stroke-width="1"/>
<text x="558.10" y="17.80" font-size="9.4" text-anchor="end" fill="#1a1a1a" stroke="#1a1a1a" stroke-width="0.12" stroke-opacity="0.6">250</text>
<rect x="565.20" y="49.00" width="6.7" height="62.40" fill="#5b9be6"/>
<line x1="568.55" y1="111.40" x2="568.55" y2="114.70" stroke="#666" stroke-width="0.8"/>
<text transform="translate(572.45,117.60) rotate(-90)" font-size="9.65" text-anchor="end" fill="#1a1a1a" stroke="#1a1a1a" stroke-width="0.12" stroke-opacity="0.6">LATS1</text>
<rect x="578.74" y="47.83" width="6.7" height="63.57" fill="#5b9be6"/>
<line x1="582.09" y1="111.40" x2="582.09" y2="114.70" stroke="#666" stroke-width="0.8"/>
<text transform="translate(585.99,117.60) rotate(-90)" font-size="9.65" text-anchor="end" fill="#1a1a1a" stroke="#1a1a1a" stroke-width="0.12" stroke-opacity="0.6">LATS2</text>
<rect x="592.28" y="104.81" width="6.7" height="6.59" fill="#5b9be6"/>
<line x1="595.63" y1="111.40" x2="595.63" y2="114.70" stroke="#666" stroke-width="0.8"/>
<text transform="translate(599.53,117.60) rotate(-90)" font-size="9.65" text-anchor="end" fill="#1a1a1a" stroke="#1a1a1a" stroke-width="0.12" stroke-opacity="0.6">MOB1A</text>
<rect x="605.82" y="102.87" width="6.7" height="8.53" fill="#5b9be6"/>
<line x1="609.17" y1="111.40" x2="609.17" y2="114.70" stroke="#666" stroke-width="0.8"/>
<text transform="translate(613.07,117.60) rotate(-90)" font-size="9.65" text-anchor="end" fill="#1a1a1a" stroke="#1a1a1a" stroke-width="0.12" stroke-opacity="0.6">MOB1B</text>
<rect x="619.36" y="86.21" width="6.7" height="25.19" fill="#5b9be6"/>
<line x1="622.71" y1="111.40" x2="622.71" y2="114.70" stroke="#666" stroke-width="0.8"/>
<text transform="translate(626.61,117.60) rotate(-90)" font-size="9.65" text-anchor="end" fill="#1a1a1a" stroke="#1a1a1a" stroke-width="0.12" stroke-opacity="0.6">MST1</text>
<rect x="632.90" y="83.11" width="6.7" height="28.29" fill="#5b9be6"/>
<line x1="636.25" y1="111.40" x2="636.25" y2="114.70" stroke="#666" stroke-width="0.8"/>
<text transform="translate(640.15,117.60) rotate(-90)" font-size="9.65" text-anchor="end" fill="#1a1a1a" stroke="#1a1a1a" stroke-width="0.12" stroke-opacity="0.6">MST2</text>
<rect x="646.44" y="78.45" width="6.7" height="32.95" fill="#5b9be6"/>
<line x1="649.79" y1="111.40" x2="649.79" y2="114.70" stroke="#666" stroke-width="0.8"/>
<text transform="translate(653.69,117.60) rotate(-90)" font-size="9.65" text-anchor="end" fill="#1a1a1a" stroke="#1a1a1a" stroke-width="0.12" stroke-opacity="0.6">MAP4K2</text>
<rect x="659.98" y="62.95" width="6.7" height="48.45" fill="#5b9be6"/>
<line x1="663.33" y1="111.40" x2="663.33" y2="114.70" stroke="#666" stroke-width="0.8"/>
<text transform="translate(667.23,117.60) rotate(-90)" font-size="9.65" text-anchor="end" fill="#1a1a1a" stroke="#1a1a1a" stroke-width="0.12" stroke-opacity="0.6">MAP4K3</text>
<rect x="673.52" y="21.48" width="6.7" height="89.92" fill="#5b9be6"/>
<line x1="676.87" y1="111.40" x2="676.87" y2="114.70" stroke="#666" stroke-width="0.8"/>
<text transform="translate(680.77,117.60) rotate(-90)" font-size="9.65" text-anchor="end" fill="#1a1a1a" stroke="#1a1a1a" stroke-width="0.12" stroke-opacity="0.6">NF2</text>
<text x="620.60" y="18.80" font-size="9.5" text-anchor="middle" fill="#1a1a1a" stroke="#1a1a1a" stroke-width="0.12" stroke-opacity="0.6">Neutral</text>
<text x="620.60" y="28.70" font-size="9.5" text-anchor="middle" fill="#1a1a1a" stroke="#1a1a1a" stroke-width="0.12" stroke-opacity="0.6">missense mutation</text>
<text transform="translate(539.80,61.75) rotate(-90)" font-size="9.55" text-anchor="middle" fill="#1a1a1a" stroke="#1a1a1a" stroke-width="0.12" stroke-opacity="0.6">Number of mutations</text>
<text x="361.90" y="169.90" font-size="13.5" text-anchor="start" fill="#000" stroke="#000" stroke-width="0.12" stroke-opacity="0.6" font-weight="bold">d</text>
<line x1="401.30" y1="172.80" x2="401.30" y2="269.80" stroke="#b0b0b0" stroke-width="1.0"/>
<line x1="398.30" y1="269.30" x2="523.80" y2="269.30" stroke="#6a6a6a" stroke-width="1"/>
<line x1="398.30" y1="269.30" x2="401.30" y2="269.30" stroke="#4a4a4a" stroke-width="1"/>
<text x="397.50" y="272.60" font-size="9.4" text-anchor="end" fill="#1a1a1a" stroke="#1a1a1a" stroke-width="0.12" stroke-opacity="0.6">0</text>
<line x1="398.30" y1="250.00" x2="401.30" y2="250.00" stroke="#4a4a4a" stroke-width="1"/>
<text x="397.50" y="253.30" font-size="9.4" text-anchor="end" fill="#1a1a1a" stroke="#1a1a1a" stroke-width="0.12" stroke-opacity="0.6">6</text>
<line x1="398.30" y1="230.70" x2="401.30" y2="230.70" stroke="#4a4a4a" stroke-width="1"/>
<text x="397.50" y="234.00" font-size="9.4" text-anchor="end" fill="#1a1a1a" stroke="#1a1a1a" stroke-width="0.12" stroke-opacity="0.6">12</text>
<line x1="398.30" y1="211.40" x2="401.30" y2="211.40" stroke="#4a4a4a" stroke-width="1"/>
<text x="397.50" y="214.70" font-size="9.4" text-anchor="end" fill="#1a1a1a" stroke="#1a1a1a" stroke-width="0.12" stroke-opacity="0.6">18</text>
<line x1="398.30" y1="192.10" x2="401.30" y2="192.10" stroke="#4a4a4a" stroke-width="1"/>
<text x="397.50" y="195.40" font-size="9.4" text-anchor="end" fill="#1a1a1a" stroke="#1a1a1a" stroke-width="0.12" stroke-opacity="0.6">24</text>
<line x1="398.30" y1="172.80" x2="401.30" y2="172.80" stroke="#4a4a4a" stroke-width="1"/>
<text x="397.50" y="176.10" font-size="9.4" text-anchor="end" fill="#1a1a1a" stroke="#1a1a1a" stroke-width="0.12" stroke-opacity="0.6">30</text>
<rect x="404.70" y="188.88" width="6.7" height="80.42" fill="#5b9be6"/>
<line x1="408.05" y1="269.30" x2="408.05" y2="272.60" stroke="#666" stroke-width="0.8"/>
<text transform="translate(411.95,275.50) rotate(-90)" font-size="9.65" text-anchor="end" fill="#1a1a1a" stroke="#1a1a1a" stroke-width="0.12" stroke-opacity="0.6">LATS1</text>
<rect x="418.19" y="211.40" width="6.7" height="57.90" fill="#5b9be6"/>
<line x1="421.54" y1="269.30" x2="421.54" y2="272.60" stroke="#666" stroke-width="0.8"/>
<text transform="translate(425.44,275.50) rotate(-90)" font-size="9.65" text-anchor="end" fill="#1a1a1a" stroke="#1a1a1a" stroke-width="0.12" stroke-opacity="0.6">LATS2</text>
<rect x="431.68" y="266.08" width="6.7" height="3.22" fill="#5b9be6"/>
<line x1="435.03" y1="269.30" x2="435.03" y2="272.60" stroke="#666" stroke-width="0.8"/>
<text transform="translate(438.93,275.50) rotate(-90)" font-size="9.65" text-anchor="end" fill="#1a1a1a" stroke="#1a1a1a" stroke-width="0.12" stroke-opacity="0.6">MOB1A</text>
<rect x="445.17" y="266.08" width="6.7" height="3.22" fill="#5b9be6"/>
<line x1="448.52" y1="269.30" x2="448.52" y2="272.60" stroke="#666" stroke-width="0.8"/>
<text transform="translate(452.42,275.50) rotate(-90)" font-size="9.65" text-anchor="end" fill="#1a1a1a" stroke="#1a1a1a" stroke-width="0.12" stroke-opacity="0.6">MOB1B</text>
<rect x="458.66" y="237.13" width="6.7" height="32.17" fill="#5b9be6"/>
<line x1="462.01" y1="269.30" x2="462.01" y2="272.60" stroke="#666" stroke-width="0.8"/>
<text transform="translate(465.91,275.50) rotate(-90)" font-size="9.65" text-anchor="end" fill="#1a1a1a" stroke="#1a1a1a" stroke-width="0.12" stroke-opacity="0.6">MST1</text>
<rect x="472.15" y="233.92" width="6.7" height="35.38" fill="#5b9be6"/>
<line x1="475.50" y1="269.30" x2="475.50" y2="272.60" stroke="#666" stroke-width="0.8"/>
<text transform="translate(479.40,275.50) rotate(-90)" font-size="9.65" text-anchor="end" fill="#1a1a1a" stroke="#1a1a1a" stroke-width="0.12" stroke-opacity="0.6">MST2</text>
<rect x="485.64" y="246.78" width="6.7" height="22.52" fill="#5b9be6"/>
<line x1="488.99" y1="269.30" x2="488.99" y2="272.60" stroke="#666" stroke-width="0.8"/>
<text transform="translate(492.89,275.50) rotate(-90)" font-size="9.65" text-anchor="end" fill="#1a1a1a" stroke="#1a1a1a" stroke-width="0.12" stroke-opacity="0.6">MAP4K2</text>
<rect x="499.13" y="217.83" width="6.7" height="51.47" fill="#5b9be6"/>
<line x1="502.48" y1="269.30" x2="502.48" y2="272.60" stroke="#666" stroke-width="0.8"/>
<text transform="translate(506.38,275.50) rotate(-90)" font-size="9.65" text-anchor="end" fill="#1a1a1a" stroke="#1a1a1a" stroke-width="0.12" stroke-opacity="0.6">MAP4K3</text>
<rect x="512.62" y="250.00" width="6.7" height="19.30" fill="#5b9be6"/>
<line x1="515.97" y1="269.30" x2="515.97" y2="272.60" stroke="#666" stroke-width="0.8"/>
<text transform="translate(519.87,275.50) rotate(-90)" font-size="9.65" text-anchor="end" fill="#1a1a1a" stroke="#1a1a1a" stroke-width="0.12" stroke-opacity="0.6">NF2</text>
<text x="460.30" y="176.80" font-size="9.5" text-anchor="middle" fill="#1a1a1a" stroke="#1a1a1a" stroke-width="0.12" stroke-opacity="0.6">LOF</text>
<text x="460.30" y="186.70" font-size="9.5" text-anchor="middle" fill="#1a1a1a" stroke="#1a1a1a" stroke-width="0.12" stroke-opacity="0.6">missense mutation</text>
<text transform="translate(384.20,219.85) rotate(-90)" font-size="9.55" text-anchor="middle" fill="#1a1a1a" stroke="#1a1a1a" stroke-width="0.12" stroke-opacity="0.6">Number of patients</text>
<text x="520.70" y="169.30" font-size="13.5" text-anchor="start" fill="#000" stroke="#000" stroke-width="0.12" stroke-opacity="0.6" font-weight="bold">e</text>
<line x1="561.90" y1="172.90" x2="561.90" y2="269.80" stroke="#8a8a8a" stroke-width="1.0"/>
<line x1="558.90" y1="269.30" x2="685.00" y2="269.30" stroke="#6a6a6a" stroke-width="1"/>
<line x1="558.90" y1="269.30" x2="561.90" y2="269.30" stroke="#4a4a4a" stroke-width="1"/>
<text x="558.10" y="272.60" font-size="9.4" text-anchor="end" fill="#1a1a1a" stroke="#1a1a1a" stroke-width="0.12" stroke-opacity="0.6">0</text>
<line x1="558.90" y1="250.02" x2="561.90" y2="250.02" stroke="#4a4a4a" stroke-width="1"/>
<text x="558.10" y="253.32" font-size="9.4" text-anchor="end" fill="#1a1a1a" stroke="#1a1a1a" stroke-width="0.12" stroke-opacity="0.6">80</text>
<line x1="558.90" y1="230.74" x2="561.90" y2="230.74" stroke="#4a4a4a" stroke-width="1"/>
<text x="558.10" y="234.04" font-size="9.4" text-anchor="end" fill="#1a1a1a" stroke="#1a1a1a" stroke-width="0.12" stroke-opacity="0.6">160</text>
<line x1="558.90" y1="211.46" x2="561.90" y2="211.46" stroke="#4a4a4a" stroke-width="1"/>
<text x="558.10" y="214.76" font-size="9.4" text-anchor="end" fill="#1a1a1a" stroke="#1a1a1a" stroke-width="0.12" stroke-opacity="0.6">240</text>
<line x1="558.90" y1="192.18" x2="561.90" y2="192.18" stroke="#4a4a4a" stroke-width="1"/>
<text x="558.10" y="195.48" font-size="9.4" text-anchor="end" fill="#1a1a1a" stroke="#1a1a1a" stroke-width="0.12" stroke-opacity="0.6">320</text>
<line x1="558.90" y1="172.90" x2="561.90" y2="172.90" stroke="#4a4a4a" stroke-width="1"/>
<text x="558.10" y="176.20" font-size="9.4" text-anchor="end" fill="#1a1a1a" stroke="#1a1a1a" stroke-width="0.12" stroke-opacity="0.6">400</text>
<rect x="565.20" y="227.61" width="6.7" height="41.69" fill="#5b9be6"/>
<line x1="568.55" y1="269.30" x2="568.55" y2="272.60" stroke="#666" stroke-width="0.8"/>
<text transform="translate(572.45,275.50) rotate(-90)" font-size="9.65" text-anchor="end" fill="#1a1a1a" stroke="#1a1a1a" stroke-width="0.12" stroke-opacity="0.6">LATS1</text>
<rect x="578.74" y="225.44" width="6.7" height="43.86" fill="#5b9be6"/>
<line x1="582.09" y1="269.30" x2="582.09" y2="272.60" stroke="#666" stroke-width="0.8"/>
<text transform="translate(585.99,275.50) rotate(-90)" font-size="9.65" text-anchor="end" fill="#1a1a1a" stroke="#1a1a1a" stroke-width="0.12" stroke-opacity="0.6">LATS2</text>
<rect x="592.28" y="265.20" width="6.7" height="4.10" fill="#5b9be6"/>
<line x1="595.63" y1="269.30" x2="595.63" y2="272.60" stroke="#666" stroke-width="0.8"/>
<text transform="translate(599.53,275.50) rotate(-90)" font-size="9.65" text-anchor="end" fill="#1a1a1a" stroke="#1a1a1a" stroke-width="0.12" stroke-opacity="0.6">MOB1A</text>
<rect x="605.82" y="263.52" width="6.7" height="5.78" fill="#5b9be6"/>
<line x1="609.17" y1="269.30" x2="609.17" y2="272.60" stroke="#666" stroke-width="0.8"/>
<text transform="translate(613.07,275.50) rotate(-90)" font-size="9.65" text-anchor="end" fill="#1a1a1a" stroke="#1a1a1a" stroke-width="0.12" stroke-opacity="0.6">MOB1B</text>
<rect x="619.36" y="253.15" width="6.7" height="16.15" fill="#5b9be6"/>
<line x1="622.71" y1="269.30" x2="622.71" y2="272.60" stroke="#666" stroke-width="0.8"/>
<text transform="translate(626.61,275.50) rotate(-90)" font-size="9.65" text-anchor="end" fill="#1a1a1a" stroke="#1a1a1a" stroke-width="0.12" stroke-opacity="0.6">MST1</text>
<rect x="632.90" y="247.13" width="6.7" height="22.17" fill="#5b9be6"/>
<line x1="636.25" y1="269.30" x2="636.25" y2="272.60" stroke="#666" stroke-width="0.8"/>
<text transform="translate(640.15,275.50) rotate(-90)" font-size="9.65" text-anchor="end" fill="#1a1a1a" stroke="#1a1a1a" stroke-width="0.12" stroke-opacity="0.6">MST2</text>
<rect x="646.44" y="247.13" width="6.7" height="22.17" fill="#5b9be6"/>
<line x1="649.79" y1="269.30" x2="649.79" y2="272.60" stroke="#666" stroke-width="0.8"/>
<text transform="translate(653.69,275.50) rotate(-90)" font-size="9.65" text-anchor="end" fill="#1a1a1a" stroke="#1a1a1a" stroke-width="0.12" stroke-opacity="0.6">MAP4K2</text>
<rect x="659.98" y="238.45" width="6.7" height="30.85" fill="#5b9be6"/>
<line x1="663.33" y1="269.30" x2="663.33" y2="272.60" stroke="#666" stroke-width="0.8"/>
<text transform="translate(667.23,275.50) rotate(-90)" font-size="9.65" text-anchor="end" fill="#1a1a1a" stroke="#1a1a1a" stroke-width="0.12" stroke-opacity="0.6">MAP4K3</text>
<rect x="673.52" y="189.05" width="6.7" height="80.25" fill="#5b9be6"/>
<line x1="676.87" y1="269.30" x2="676.87" y2="272.60" stroke="#666" stroke-width="0.8"/>
<text transform="translate(680.77,275.50) rotate(-90)" font-size="9.65" text-anchor="end" fill="#1a1a1a" stroke="#1a1a1a" stroke-width="0.12" stroke-opacity="0.6">NF2</text>
<text x="620.60" y="177.30" font-size="9.5" text-anchor="middle" fill="#1a1a1a" stroke="#1a1a1a" stroke-width="0.12" stroke-opacity="0.6">Neutral</text>
<text x="620.60" y="187.20" font-size="9.5" text-anchor="middle" fill="#1a1a1a" stroke="#1a1a1a" stroke-width="0.12" stroke-opacity="0.6">missense mutation</text>
<text transform="translate(539.80,219.90) rotate(-90)" font-size="9.55" text-anchor="middle" fill="#1a1a1a" stroke="#1a1a1a" stroke-width="0.12" stroke-opacity="0.6">Number of patients</text>
<text x="1.20" y="380.70" font-size="13.5" text-anchor="start" fill="#000" stroke="#000" stroke-width="0.12" stroke-opacity="0.6" font-weight="bold">f</text>
<line x1="46.60" y1="396.80" x2="46.60" y2="493.90" stroke="#4a4a4a" stroke-width="1"/>
<line x1="43.60" y1="493.40" x2="359.00" y2="493.40" stroke="#8a8a8a" stroke-width="1"/>
<line x1="43.60" y1="493.40" x2="46.60" y2="493.40" stroke="#4a4a4a" stroke-width="1"/>
<text x="42.80" y="496.80" font-size="9.6" text-anchor="end" fill="#1a1a1a" stroke="#1a1a1a" stroke-width="0.12" stroke-opacity="0.6">0</text>
<line x1="43.60" y1="477.30" x2="46.60" y2="477.30" stroke="#4a4a4a" stroke-width="1"/>
<text x="42.80" y="480.70" font-size="9.6" text-anchor="end" fill="#1a1a1a" stroke="#1a1a1a" stroke-width="0.12" stroke-opacity="0.6">3</text>
<line x1="43.60" y1="461.20" x2="46.60" y2="461.20" stroke="#4a4a4a" stroke-width="1"/>
<text x="42.80" y="464.60" font-size="9.6" text-anchor="end" fill="#1a1a1a" stroke="#1a1a1a" stroke-width="0.12" stroke-opacity="0.6">6</text>
<line x1="43.60" y1="445.10" x2="46.60" y2="445.10" stroke="#4a4a4a" stroke-width="1"/>
<text x="42.80" y="448.50" font-size="9.6" text-anchor="end" fill="#1a1a1a" stroke="#1a1a1a" stroke-width="0.12" stroke-opacity="0.6">9</text>
<line x1="43.60" y1="429.00" x2="46.60" y2="429.00" stroke="#4a4a4a" stroke-width="1"/>
<text x="42.80" y="432.40" font-size="9.6" text-anchor="end" fill="#1a1a1a" stroke="#1a1a1a" stroke-width="0.12" stroke-opacity="0.6">12</text>
<line x1="43.60" y1="412.90" x2="46.60" y2="412.90" stroke="#4a4a4a" stroke-width="1"/>
<text x="42.80" y="416.30" font-size="9.6" text-anchor="end" fill="#1a1a1a" stroke="#1a1a1a" stroke-width="0.12" stroke-opacity="0.6">15</text>
<line x1="43.60" y1="396.80" x2="46.60" y2="396.80" stroke="#4a4a4a" stroke-width="1"/>
<text x="42.80" y="400.20" font-size="9.6" text-anchor="end" fill="#1a1a1a" stroke="#1a1a1a" stroke-width="0.12" stroke-opacity="0.6">18</text>
<text transform="translate(19.70,447.00) rotate(-90)" font-size="9.55" text-anchor="middle" fill="#1a1a1a" stroke="#1a1a1a" stroke-width="0.12" stroke-opacity="0.6">Number of patients with</text>
<text transform="translate(29.10,447.00) rotate(-90)" font-size="9.55" text-anchor="middle" fill="#1a1a1a" stroke="#1a1a1a" stroke-width="0.12" stroke-opacity="0.6">Hippo driver mutations</text>
<text x="116.00" y="402.00" font-size="8.7" text-anchor="middle" fill="#1a1a1a" stroke="#1a1a1a" stroke-width="0.12" stroke-opacity="0.6"># Patients with</text>
<text x="214.40" y="395.50" font-size="8.7" text-anchor="middle" fill="#1a1a1a" stroke="#1a1a1a" stroke-width="0.12" stroke-opacity="0.6">Hippo LOF missense mutations</text>
<line x1="150.00" y1="399.90" x2="278.80" y2="399.90" stroke="#444" stroke-width="0.9"/>
<text x="214.00" y="408.60" font-size="8.7" text-anchor="middle" fill="#1a1a1a" stroke="#1a1a1a" stroke-width="0.12" stroke-opacity="0.6">total Hippo missense mutations</text>
<rect x="50.30" y="488.03" width="6.6" height="5.37" fill="#5b9be6"/>
<text x="53.00" y="484.03" font-size="6.8" text-anchor="middle" fill="#1a1a1a" stroke="#1a1a1a" stroke-width="0.12" stroke-opacity="0.6">1/1</text>
<line x1="53.60" y1="493.40" x2="53.60" y2="496.60" stroke="#555" stroke-width="0.8"/>
<text transform="translate(57.00,505.20) rotate(-90)" font-size="9.6" text-anchor="end" fill="#1a1a1a" stroke="#1a1a1a" stroke-width="0.12" stroke-opacity="0.6">ACC</text>
<rect x="63.84" y="455.83" width="6.6" height="37.57" fill="#5b9be6"/>
<text x="66.54" y="451.83" font-size="6.8" text-anchor="middle" fill="#1a1a1a" stroke="#1a1a1a" stroke-width="0.12" stroke-opacity="0.6">7/61</text>
<line x1="67.14" y1="493.40" x2="67.14" y2="496.60" stroke="#555" stroke-width="0.8"/>
<text transform="translate(70.54,505.20) rotate(-90)" font-size="9.6" text-anchor="end" fill="#1a1a1a" stroke="#1a1a1a" stroke-width="0.12" stroke-opacity="0.6">BLCA</text>
<rect x="77.38" y="466.57" width="6.6" height="26.83" fill="#5b9be6"/>
<text x="80.08" y="462.57" font-size="6.8" text-anchor="middle" fill="#1a1a1a" stroke="#1a1a1a" stroke-width="0.12" stroke-opacity="0.6">5/35</text>
<line x1="80.68" y1="493.40" x2="80.68" y2="496.60" stroke="#555" stroke-width="0.8"/>
<text transform="translate(84.08,505.20) rotate(-90)" font-size="9.6" text-anchor="end" fill="#1a1a1a" stroke="#1a1a1a" stroke-width="0.12" stroke-opacity="0.6">BRCA</text>
<rect x="90.92" y="482.67" width="6.6" height="10.73" fill="#5b9be6"/>
<text x="93.62" y="478.67" font-size="6.8" text-anchor="middle" fill="#1a1a1a" stroke="#1a1a1a" stroke-width="0.12" stroke-opacity="0.6">2/34</text>
<line x1="94.22" y1="493.40" x2="94.22" y2="496.60" stroke="#555" stroke-width="0.8"/>
<text transform="translate(97.62,505.20) rotate(-90)" font-size="9.6" text-anchor="end" fill="#1a1a1a" stroke="#1a1a1a" stroke-width="0.12" stroke-opacity="0.6">CESC</text>
<rect x="104.46" y="461.20" width="6.6" height="32.20" fill="#5b9be6"/>
<text x="107.16" y="457.20" font-size="6.8" text-anchor="middle" fill="#1a1a1a" stroke="#1a1a1a" stroke-width="0.12" stroke-opacity="0.6">6/96</text>
<line x1="107.76" y1="493.40" x2="107.76" y2="496.60" stroke="#555" stroke-width="0.8"/>
<text transform="translate(111.16,505.20) rotate(-90)" font-size="9.6" text-anchor="end" fill="#1a1a1a" stroke="#1a1a1a" stroke-width="0.12" stroke-opacity="0.6">COAD</text>
<rect x="118.00" y="488.03" width="6.6" height="5.37" fill="#5b9be6"/>
<text x="120.70" y="484.03" font-size="6.8" text-anchor="middle" fill="#1a1a1a" stroke="#1a1a1a" stroke-width="0.12" stroke-opacity="0.6">1/17</text>
<line x1="121.30" y1="493.40" x2="121.30" y2="496.60" stroke="#555" stroke-width="0.8"/>
<text transform="translate(124.70,505.20) rotate(-90)" font-size="9.6" text-anchor="end" fill="#1a1a1a" stroke="#1a1a1a" stroke-width="0.12" stroke-opacity="0.6">ESCA</text>
<rect x="131.54" y="488.03" width="6.6" height="5.37" fill="#5b9be6"/>
<text x="134.24" y="484.03" font-size="6.8" text-anchor="middle" fill="#1a1a1a" stroke="#1a1a1a" stroke-width="0.12" stroke-opacity="0.6">1/16</text>
<line x1="134.84" y1="493.40" x2="134.84" y2="496.60" stroke="#555" stroke-width="0.8"/>
<text transform="translate(138.24,505.20) rotate(-90)" font-size="9.6" text-anchor="end" fill="#1a1a1a" stroke="#1a1a1a" stroke-width="0.12" stroke-opacity="0.6">GBM</text>
<rect x="145.08" y="466.57" width="6.6" height="26.83" fill="#5b9be6"/>
<text x="147.78" y="462.57" font-size="6.8" text-anchor="middle" fill="#1a1a1a" stroke="#1a1a1a" stroke-width="0.12" stroke-opacity="0.6">5/30</text>
<line x1="148.38" y1="493.40" x2="148.38" y2="496.60" stroke="#555" stroke-width="0.8"/>
<text transform="translate(151.78,505.20) rotate(-90)" font-size="9.6" text-anchor="end" fill="#1a1a1a" stroke="#1a1a1a" stroke-width="0.12" stroke-opacity="0.6">HNSC</text>
<rect x="158.62" y="488.03" width="6.6" height="5.37" fill="#5b9be6"/>
<text x="161.32" y="484.03" font-size="6.8" text-anchor="middle" fill="#1a1a1a" stroke="#1a1a1a" stroke-width="0.12" stroke-opacity="0.6">1/2</text>
<line x1="161.92" y1="493.40" x2="161.92" y2="496.60" stroke="#555" stroke-width="0.8"/>
<text transform="translate(165.32,505.20) rotate(-90)" font-size="9.6" text-anchor="end" fill="#1a1a1a" stroke="#1a1a1a" stroke-width="0.12" stroke-opacity="0.6">KICH</text>
<rect x="172.16" y="488.03" width="6.6" height="5.37" fill="#5b9be6"/>
<text x="174.86" y="484.03" font-size="6.8" text-anchor="middle" fill="#1a1a1a" stroke="#1a1a1a" stroke-width="0.12" stroke-opacity="0.6">1/16</text>
<line x1="175.46" y1="493.40" x2="175.46" y2="496.60" stroke="#555" stroke-width="0.8"/>
<text transform="translate(178.86,505.20) rotate(-90)" font-size="9.6" text-anchor="end" fill="#1a1a1a" stroke="#1a1a1a" stroke-width="0.12" stroke-opacity="0.6">KIRC</text>
<rect x="185.70" y="488.03" width="6.6" height="5.37" fill="#5b9be6"/>
<text x="188.40" y="484.03" font-size="6.8" text-anchor="middle" fill="#1a1a1a" stroke="#1a1a1a" stroke-width="0.12" stroke-opacity="0.6">1/9</text>
<line x1="189.00" y1="493.40" x2="189.00" y2="496.60" stroke="#555" stroke-width="0.8"/>
<text transform="translate(192.40,505.20) rotate(-90)" font-size="9.6" text-anchor="end" fill="#1a1a1a" stroke="#1a1a1a" stroke-width="0.12" stroke-opacity="0.6">KIRP</text>
<rect x="199.24" y="488.03" width="6.6" height="5.37" fill="#5b9be6"/>
<text x="201.94" y="484.03" font-size="6.8" text-anchor="middle" fill="#1a1a1a" stroke="#1a1a1a" stroke-width="0.12" stroke-opacity="0.6">1/12</text>
<line x1="202.54" y1="493.40" x2="202.54" y2="496.60" stroke="#555" stroke-width="0.8"/>
<text transform="translate(205.94,505.20) rotate(-90)" font-size="9.6" text-anchor="end" fill="#1a1a1a" stroke="#1a1a1a" stroke-width="0.12" stroke-opacity="0.6">LGG</text>
<rect x="212.78" y="471.93" width="6.6" height="21.47" fill="#5b9be6"/>
<text x="215.48" y="467.93" font-size="6.8" text-anchor="middle" fill="#1a1a1a" stroke="#1a1a1a" stroke-width="0.12" stroke-opacity="0.6">4/22</text>
<line x1="216.08" y1="493.40" x2="216.08" y2="496.60" stroke="#555" stroke-width="0.8"/>
<text transform="translate(219.48,505.20) rotate(-90)" font-size="9.6" text-anchor="end" fill="#1a1a1a" stroke="#1a1a1a" stroke-width="0.12" stroke-opacity="0.6">LIHC</text>
<rect x="226.32" y="455.83" width="6.6" height="37.57" fill="#5b9be6"/>
<text x="229.02" y="451.83" font-size="6.8" text-anchor="middle" fill="#1a1a1a" stroke="#1a1a1a" stroke-width="0.12" stroke-opacity="0.6">7/78</text>
<line x1="229.62" y1="493.40" x2="229.62" y2="496.60" stroke="#555" stroke-width="0.8"/>
<text transform="translate(233.02,505.20) rotate(-90)" font-size="9.6" text-anchor="end" fill="#1a1a1a" stroke="#1a1a1a" stroke-width="0.12" stroke-opacity="0.6">LUAD</text>
<rect x="239.86" y="471.93" width="6.6" height="21.47" fill="#5b9be6"/>
<text x="242.56" y="467.93" font-size="6.8" text-anchor="middle" fill="#1a1a1a" stroke="#1a1a1a" stroke-width="0.12" stroke-opacity="0.6">4/53</text>
<line x1="243.16" y1="493.40" x2="243.16" y2="496.60" stroke="#555" stroke-width="0.8"/>
<text transform="translate(246.56,505.20) rotate(-90)" font-size="9.6" text-anchor="end" fill="#1a1a1a" stroke="#1a1a1a" stroke-width="0.12" stroke-opacity="0.6">LUSC</text>
<rect x="253.40" y="461.20" width="6.6" height="32.20" fill="#5b9be6"/>
<text x="256.10" y="457.20" font-size="6.8" text-anchor="middle" fill="#1a1a1a" stroke="#1a1a1a" stroke-width="0.12" stroke-opacity="0.6">6/9</text>
<line x1="256.70" y1="493.40" x2="256.70" y2="496.60" stroke="#555" stroke-width="0.8"/>
<text transform="translate(260.10,505.20) rotate(-90)" font-size="9.6" text-anchor="end" fill="#1a1a1a" stroke="#1a1a1a" stroke-width="0.12" stroke-opacity="0.6">MESO</text>
<rect x="266.94" y="471.93" width="6.6" height="21.47" fill="#5b9be6"/>
<text x="269.64" y="467.93" font-size="6.8" text-anchor="middle" fill="#1a1a1a" stroke="#1a1a1a" stroke-width="0.12" stroke-opacity="0.6">4/24</text>
<line x1="270.24" y1="493.40" x2="270.24" y2="496.60" stroke="#555" stroke-width="0.8"/>
<text transform="translate(273.64,505.20) rotate(-90)" font-size="9.6" text-anchor="end" fill="#1a1a1a" stroke="#1a1a1a" stroke-width="0.12" stroke-opacity="0.6">OV</text>
<rect x="280.48" y="445.10" width="6.6" height="48.30" fill="#5b9be6"/>
<text x="283.18" y="441.10" font-size="6.8" text-anchor="middle" fill="#1a1a1a" stroke="#1a1a1a" stroke-width="0.12" stroke-opacity="0.6">9/90</text>
<line x1="283.78" y1="493.40" x2="283.78" y2="496.60" stroke="#555" stroke-width="0.8"/>
<text transform="translate(287.18,505.20) rotate(-90)" font-size="9.6" text-anchor="end" fill="#1a1a1a" stroke="#1a1a1a" stroke-width="0.12" stroke-opacity="0.6">SKCM</text>
<rect x="294.02" y="466.57" width="6.6" height="26.83" fill="#5b9be6"/>
<text x="296.72" y="462.57" font-size="6.8" text-anchor="middle" fill="#1a1a1a" stroke="#1a1a1a" stroke-width="0.12" stroke-opacity="0.6">5/67</text>
<line x1="297.32" y1="493.40" x2="297.32" y2="496.60" stroke="#555" stroke-width="0.8"/>
<text transform="translate(300.72,505.20) rotate(-90)" font-size="9.6" text-anchor="end" fill="#1a1a1a" stroke="#1a1a1a" stroke-width="0.12" stroke-opacity="0.6">STAD</text>
<rect x="307.56" y="488.03" width="6.6" height="5.37" fill="#5b9be6"/>
<text x="310.26" y="484.03" font-size="6.8" text-anchor="middle" fill="#1a1a1a" stroke="#1a1a1a" stroke-width="0.12" stroke-opacity="0.6">1/4</text>
<line x1="310.86" y1="493.40" x2="310.86" y2="496.60" stroke="#555" stroke-width="0.8"/>
<text transform="translate(314.26,505.20) rotate(-90)" font-size="9.6" text-anchor="end" fill="#1a1a1a" stroke="#1a1a1a" stroke-width="0.12" stroke-opacity="0.6">TGCT</text>
<rect x="321.10" y="402.17" width="6.6" height="91.23" fill="#5b9be6"/>
<text x="323.80" y="398.17" font-size="6.8" text-anchor="middle" fill="#1a1a1a" stroke="#1a1a1a" stroke-width="0.12" stroke-opacity="0.6">17/238</text>
<line x1="324.40" y1="493.40" x2="324.40" y2="496.60" stroke="#555" stroke-width="0.8"/>
<text transform="translate(327.80,505.20) rotate(-90)" font-size="9.6" text-anchor="end" fill="#1a1a1a" stroke="#1a1a1a" stroke-width="0.12" stroke-opacity="0.6">UCEC</text>
<rect x="334.64" y="488.03" width="6.6" height="5.37" fill="#5b9be6"/>
<text x="337.34" y="484.03" font-size="6.8" text-anchor="middle" fill="#1a1a1a" stroke="#1a1a1a" stroke-width="0.12" stroke-opacity="0.6">1/12</text>
<line x1="337.94" y1="493.40" x2="337.94" y2="496.60" stroke="#555" stroke-width="0.8"/>
<text transform="translate(341.34,498.20) rotate(-90)" font-size="9.6" text-anchor="end" fill="#1a1a1a" stroke="#1a1a1a" stroke-width="0.12" stroke-opacity="0.6">Schwannoma</text>
<rect x="348.18" y="466.57" width="6.6" height="26.83" fill="#5b9be6"/>
<text x="350.88" y="462.57" font-size="6.8" text-anchor="middle" fill="#1a1a1a" stroke="#1a1a1a" stroke-width="0.12" stroke-opacity="0.6">5/17</text>
<line x1="351.48" y1="493.40" x2="351.48" y2="496.60" stroke="#555" stroke-width="0.8"/>
<text transform="translate(354.88,498.20) rotate(-90)" font-size="9.6" text-anchor="end" fill="#1a1a1a" stroke="#1a1a1a" stroke-width="0.12" stroke-opacity="0.6">Meningioma</text>
<rect x="46.80" y="497.4" width="13.54" height="5.9" fill="#f6c4e0" stroke="#555" stroke-width="0.5"/>
<rect x="60.34" y="497.4" width="13.54" height="5.9" fill="#f29fcf" stroke="#555" stroke-width="0.5"/>
<rect x="73.88" y="497.4" width="13.54" height="5.9" fill="#fbe2f0" stroke="#555" stroke-width="0.5"/>
<rect x="87.42" y="497.4" width="13.54" height="5.9" fill="#f9d6ea" stroke="#555" stroke-width="0.5"/>
<rect x="100.96" y="497.4" width="13.54" height="5.9" fill="#f7c8e3" stroke="#555" stroke-width="0.5"/>
<rect x="114.50" y="497.4" width="13.54" height="5.9" fill="#fadcec" stroke="#555" stroke-width="0.5"/>
<rect x="128.04" y="497.4" width="13.54" height="5.9" fill="#fdeff6" stroke="#555" stroke-width="0.5"/>
<rect x="141.58" y="497.4" width="13.54" height="5.9" fill="#f8cfe6" stroke="#555" stroke-width="0.5"/>
<rect x="155.12" y="497.4" width="13.54" height="5.9" fill="#f3a7d3" stroke="#555" stroke-width="0.5"/>
<rect x="168.66" y="497.4" width="13.54" height="5.9" fill="#fdf1f7" stroke="#555" stroke-width="0.5"/>
<rect x="182.20" y="497.4" width="13.54" height="5.9" fill="#fdecf5" stroke="#555" stroke-width="0.5"/>
<rect x="195.74" y="497.4" width="13.54" height="5.9" fill="#fdf0f6" stroke="#555" stroke-width="0.5"/>
<rect x="209.28" y="497.4" width="13.54" height="5.9" fill="#f8cce5" stroke="#555" stroke-width="0.5"/>
<rect x="222.82" y="497.4" width="13.54" height="5.9" fill="#f8cfe6" stroke="#555" stroke-width="0.5"/>
<rect x="236.36" y="497.4" width="13.54" height="5.9" fill="#f6bfdd" stroke="#555" stroke-width="0.5"/>
<rect x="249.90" y="497.4" width="13.54" height="5.9" fill="#e0127f" stroke="#555" stroke-width="0.5"/>
<rect x="263.44" y="497.4" width="13.54" height="5.9" fill="#fbe0ef" stroke="#555" stroke-width="0.5"/>
<rect x="276.98" y="497.4" width="13.54" height="5.9" fill="#f09acb" stroke="#555" stroke-width="0.5"/>
<rect x="290.52" y="497.4" width="13.54" height="5.9" fill="#f8cde5" stroke="#555" stroke-width="0.5"/>
<rect x="304.06" y="497.4" width="13.54" height="5.9" fill="#fbe1ef" stroke="#555" stroke-width="0.5"/>
<rect x="317.60" y="497.4" width="13.54" height="5.9" fill="#ea5aa8" stroke="#555" stroke-width="0.5"/>
<text x="345.20" y="447.80" font-size="7.6" text-anchor="middle" fill="#1a1a1a" stroke="#1a1a1a" stroke-width="0.12" stroke-opacity="0.6">NF2</text>
<path d="M338.2,453.8 V451.8 H352.2 V453.8" stroke="#444" stroke-width="0.8" fill="none"/>
<text x="69.40" y="549.30" font-size="8.6" text-anchor="start" fill="#1a1a1a" stroke="#1a1a1a" stroke-width="0.12" stroke-opacity="0.6">Hippo LOF missense mutation rate</text>
<text x="210.60" y="549.30" font-size="8.6" text-anchor="middle" fill="#1a1a1a" stroke="#1a1a1a" stroke-width="0.12" stroke-opacity="0.6">0</text>
<rect x="214.2" y="544.0" width="80.4" height="4.6" fill="url(#hm)" stroke="#555" stroke-width="0.5"/>
<text x="295.00" y="549.30" font-size="8.6" text-anchor="start" fill="#1a1a1a" stroke="#1a1a1a" stroke-width="0.12" stroke-opacity="0.6">&gt;5%</text>
<text x="375.60" y="336.30" font-size="13.5" text-anchor="start" fill="#000" stroke="#000" stroke-width="0.12" stroke-opacity="0.6" font-weight="bold">g</text>
<text x="447.30" y="340.00" font-size="9.75" text-anchor="middle" fill="#111" stroke="#111" stroke-width="0.12" stroke-opacity="0.6">LATS1</text>
<circle cx="449.7" cy="382.9" r="31.0" fill="#000" opacity="0.2" filter="url(#shadow)"/>
<path d="M449.0,381.9 L449.00,350.90 A31.0,31.0 0 0 1 475.17,365.29 Z" fill="#5590e0" stroke="#5590e0" stroke-width="0.3"/>
<path d="M449.0,381.9 L475.17,365.29 A31.0,31.0 0 0 1 478.48,372.32 Z" fill="#f59a3c" stroke="#f59a3c" stroke-width="0.3"/>
<path d="M449.0,381.9 L478.48,372.32 A31.0,31.0 0 0 1 479.45,387.71 Z" fill="#ffd800" stroke="#ffd800" stroke-width="0.3"/>
<path d="M449.0,381.9 L479.45,387.71 A31.0,31.0 0 0 1 472.89,401.66 Z" fill="#70bdf0" stroke="#70bdf0" stroke-width="0.3"/>
<path d="M449.0,381.9 L472.89,401.66 A31.0,31.0 0 0 1 467.22,406.98 Z" fill="#88d060" stroke="#88d060" stroke-width="0.3"/>
<path d="M449.0,381.9 L467.22,406.98 A31.0,31.0 0 0 1 445.11,412.66 Z" fill="#2e78b8" stroke="#2e78b8" stroke-width="0.3"/>
<path d="M449.0,381.9 L445.11,412.66 A31.0,31.0 0 0 1 430.78,406.98 Z" fill="#528a33" stroke="#528a33" stroke-width="0.3"/>
<path d="M449.0,381.9 L430.78,406.98 A31.0,31.0 0 0 1 420.95,395.10 Z" fill="#8ab4ea" stroke="#8ab4ea" stroke-width="0.3"/>
<path d="M449.0,381.9 L420.95,395.10 A31.0,31.0 0 0 1 418.55,387.71 Z" fill="#f8bb7a" stroke="#f8bb7a" stroke-width="0.3"/>
<path d="M449.0,381.9 L418.55,387.71 A31.0,31.0 0 0 1 427.78,359.30 Z" fill="#d9d9d9" stroke="#d9d9d9" stroke-width="0.3"/>
<path d="M449.0,381.9 L427.78,359.30 A31.0,31.0 0 0 1 434.07,354.73 Z" fill="#fde04a" stroke="#fde04a" stroke-width="0.3"/>
<path d="M449.0,381.9 L434.07,354.73 A31.0,31.0 0 0 1 449.00,350.90 Z" fill="#a0d2f2" stroke="#a0d2f2" stroke-width="0.3"/>
<text x="428.60" y="349.30" font-size="6.3" text-anchor="middle" fill="#555555" stroke="#555555" stroke-width="0.12" stroke-opacity="0.6">STAD(2)</text>
<text x="467.90" y="351.00" font-size="6.3" text-anchor="middle" fill="#555555" stroke="#555555" stroke-width="0.12" stroke-opacity="0.6">BLCA(4)</text>
<text x="415.80" y="357.80" font-size="6.3" text-anchor="middle" fill="#555555" stroke="#555555" stroke-width="0.12" stroke-opacity="0.6">BRCA(1)</text>
<text x="484.50" y="363.00" font-size="6.3" text-anchor="middle" fill="#555555" stroke="#555555" stroke-width="0.12" stroke-opacity="0.6">COAD</text>
<text x="484.00" y="369.00" font-size="6.3" text-anchor="middle" fill="#555555" stroke="#555555" stroke-width="0.12" stroke-opacity="0.6">(1)</text>
<text x="411.50" y="371.90" font-size="6.3" text-anchor="middle" fill="#555555" stroke="#555555" stroke-width="0.12" stroke-opacity="0.6">LUAD</text>
<text x="411.20" y="378.10" font-size="6.3" text-anchor="middle" fill="#555555" stroke="#555555" stroke-width="0.12" stroke-opacity="0.6">(4)</text>
<text x="489.00" y="380.00" font-size="6.3" text-anchor="middle" fill="#555555" stroke="#555555" stroke-width="0.12" stroke-opacity="0.6">UCEC</text>
<text x="488.50" y="386.70" font-size="6.3" text-anchor="middle" fill="#555555" stroke="#555555" stroke-width="0.12" stroke-opacity="0.6">(2)</text>
<text x="405.80" y="395.60" font-size="6.3" text-anchor="middle" fill="#555555" stroke="#555555" stroke-width="0.12" stroke-opacity="0.6">LUSC(1)</text>
<text x="486.00" y="399.00" font-size="6.3" text-anchor="middle" fill="#555555" stroke="#555555" stroke-width="0.12" stroke-opacity="0.6">OV(2)</text>
<text x="413.40" y="406.60" font-size="6.3" text-anchor="middle" fill="#555555" stroke="#555555" stroke-width="0.12" stroke-opacity="0.6">LIHC(2)</text>
<text x="478.00" y="409.80" font-size="6.3" text-anchor="middle" fill="#555555" stroke="#555555" stroke-width="0.12" stroke-opacity="0.6">CESC</text>
<text x="478.00" y="416.50" font-size="6.3" text-anchor="middle" fill="#555555" stroke="#555555" stroke-width="0.12" stroke-opacity="0.6">(1)</text>
<text x="426.10" y="418.00" font-size="6.3" text-anchor="middle" fill="#555555" stroke="#555555" stroke-width="0.12" stroke-opacity="0.6">MESO(2)</text>
<text x="458.00" y="419.30" font-size="6.3" text-anchor="middle" fill="#555555" stroke="#555555" stroke-width="0.12" stroke-opacity="0.6">SKCM(3)</text>
<text x="547.90" y="340.40" font-size="9.75" text-anchor="middle" fill="#111" stroke="#111" stroke-width="0.12" stroke-opacity="0.6">LATS2</text>
<circle cx="550.9000000000001" cy="382.7" r="31.0" fill="#000" opacity="0.2" filter="url(#shadow)"/>
<path d="M550.2,381.7 L550.20,350.70 A31.0,31.0 0 0 1 570.13,357.95 Z" fill="#f59a3c" stroke="#f59a3c" stroke-width="0.3"/>
<path d="M550.2,381.7 L570.13,357.95 A31.0,31.0 0 0 1 577.05,397.20 Z" fill="#ffd800" stroke="#ffd800" stroke-width="0.3"/>
<path d="M550.2,381.7 L577.05,397.20 A31.0,31.0 0 0 1 570.13,405.45 Z" fill="#7f7f7f" stroke="#7f7f7f" stroke-width="0.3"/>
<path d="M550.2,381.7 L570.13,405.45 A31.0,31.0 0 0 1 560.80,410.83 Z" fill="#2e78b8" stroke="#2e78b8" stroke-width="0.3"/>
<path d="M550.2,381.7 L560.80,410.83 A31.0,31.0 0 0 1 523.35,397.20 Z" fill="#528a33" stroke="#528a33" stroke-width="0.3"/>
<path d="M550.2,381.7 L523.35,397.20 A31.0,31.0 0 0 1 519.67,387.08 Z" fill="#f8bb7a" stroke="#f8bb7a" stroke-width="0.3"/>
<path d="M550.2,381.7 L519.67,387.08 A31.0,31.0 0 0 1 523.35,366.20 Z" fill="#d9d9d9" stroke="#d9d9d9" stroke-width="0.3"/>
<path d="M550.2,381.7 L523.35,366.20 A31.0,31.0 0 0 1 530.27,357.95 Z" fill="#fde04a" stroke="#fde04a" stroke-width="0.3"/>
<path d="M550.2,381.7 L530.27,357.95 A31.0,31.0 0 0 1 550.20,350.70 Z" fill="#4472c8" stroke="#4472c8" stroke-width="0.3"/>
<text x="527.70" y="349.50" font-size="6.3" text-anchor="middle" fill="#555555" stroke="#555555" stroke-width="0.12" stroke-opacity="0.6">HNSC(2)</text>
<text x="568.50" y="350.40" font-size="6.3" text-anchor="middle" fill="#555555" stroke="#555555" stroke-width="0.12" stroke-opacity="0.6">COAD(2)</text>
<text x="519.40" y="358.60" font-size="6.3" text-anchor="middle" fill="#555555" stroke="#555555" stroke-width="0.12" stroke-opacity="0.6">BRCA</text>
<text x="519.40" y="365.00" font-size="6.3" text-anchor="middle" fill="#555555" stroke="#555555" stroke-width="0.12" stroke-opacity="0.6">(1)</text>
<text x="590.60" y="372.30" font-size="6.3" text-anchor="middle" fill="#555555" stroke="#555555" stroke-width="0.12" stroke-opacity="0.6">UCEC</text>
<text x="590.70" y="378.40" font-size="6.3" text-anchor="middle" fill="#555555" stroke="#555555" stroke-width="0.12" stroke-opacity="0.6">(4)</text>
<text x="510.80" y="374.90" font-size="6.3" text-anchor="middle" fill="#555555" stroke="#555555" stroke-width="0.12" stroke-opacity="0.6">LUAD</text>
<text x="511.20" y="381.40" font-size="6.3" text-anchor="middle" fill="#555555" stroke="#555555" stroke-width="0.12" stroke-opacity="0.6">(2)</text>
<text x="510.60" y="394.70" font-size="6.3" text-anchor="middle" fill="#555555" stroke="#555555" stroke-width="0.12" stroke-opacity="0.6">LUSC</text>
<text x="511.00" y="401.20" font-size="6.3" text-anchor="middle" fill="#555555" stroke="#555555" stroke-width="0.12" stroke-opacity="0.6">(1)</text>
<text x="587.10" y="403.80" font-size="6.3" text-anchor="middle" fill="#555555" stroke="#555555" stroke-width="0.12" stroke-opacity="0.6">KICH(1)</text>
<text x="523.80" y="415.70" font-size="6.3" text-anchor="middle" fill="#555555" stroke="#555555" stroke-width="0.12" stroke-opacity="0.6">MESO(4)</text>
<text x="574.40" y="416.10" font-size="6.3" text-anchor="middle" fill="#555555" stroke="#555555" stroke-width="0.12" stroke-opacity="0.6">SKCM(1)</text>
<text x="641.50" y="341.00" font-size="9.75" text-anchor="middle" fill="#111" stroke="#111" stroke-width="0.12" stroke-opacity="0.6">MOB1A</text>
<circle cx="643.7" cy="382.7" r="31.0" fill="#000" opacity="0.2" filter="url(#shadow)"/>
<circle cx="643.0" cy="381.7" r="31.0" fill="#4472c8"/>
<text x="619.10" y="350.40" font-size="6.3" text-anchor="middle" fill="#555555" stroke="#555555" stroke-width="0.12" stroke-opacity="0.6">HNSC</text>
<text x="619.20" y="356.40" font-size="6.3" text-anchor="middle" fill="#555555" stroke="#555555" stroke-width="0.12" stroke-opacity="0.6">(1)</text>
<text x="447.30" y="434.20" font-size="9.75" text-anchor="middle" fill="#111" stroke="#111" stroke-width="0.12" stroke-opacity="0.6">MOB1B</text>
<circle cx="449.7" cy="476.3" r="31.0" fill="#000" opacity="0.2" filter="url(#shadow)"/>
<circle cx="449.0" cy="475.3" r="31.0" fill="#4472c8"/>
<text x="426.00" y="443.60" font-size="6.3" text-anchor="middle" fill="#555555" stroke="#555555" stroke-width="0.12" stroke-opacity="0.6">HNSC</text>
<text x="426.00" y="449.80" font-size="6.3" text-anchor="middle" fill="#555555" stroke="#555555" stroke-width="0.12" stroke-opacity="0.6">(1)</text>
<text x="549.60" y="432.60" font-size="9.75" text-anchor="middle" fill="#111" stroke="#111" stroke-width="0.12" stroke-opacity="0.6">MST1</text>
<circle cx="551.6" cy="475.0" r="31.0" fill="#000" opacity="0.2" filter="url(#shadow)"/>
<path d="M550.9,474.0 L550.90,443.00 A31.0,31.0 0 0 1 580.38,464.42 Z" fill="#5590e0" stroke="#5590e0" stroke-width="0.3"/>
<path d="M550.9,474.0 L580.38,464.42 A31.0,31.0 0 0 1 580.38,483.58 Z" fill="#f59a3c" stroke="#f59a3c" stroke-width="0.3"/>
<path d="M550.9,474.0 L580.38,483.58 A31.0,31.0 0 0 1 569.12,499.08 Z" fill="#ffd800" stroke="#ffd800" stroke-width="0.3"/>
<path d="M550.9,474.0 L569.12,499.08 A31.0,31.0 0 0 1 550.90,505.00 Z" fill="#b8900a" stroke="#b8900a" stroke-width="0.3"/>
<path d="M550.9,474.0 L550.90,505.00 A31.0,31.0 0 0 1 521.42,483.58 Z" fill="#2e78b8" stroke="#2e78b8" stroke-width="0.3"/>
<path d="M550.9,474.0 L521.42,483.58 A31.0,31.0 0 0 1 521.42,464.42 Z" fill="#fde04a" stroke="#fde04a" stroke-width="0.3"/>
<path d="M550.9,474.0 L521.42,464.42 A31.0,31.0 0 0 1 532.68,448.92 Z" fill="#a0d2f2" stroke="#a0d2f2" stroke-width="0.3"/>
<path d="M550.9,474.0 L532.68,448.92 A31.0,31.0 0 0 1 550.90,443.00 Z" fill="#e8771e" stroke="#e8771e" stroke-width="0.3"/>
<text x="534.70" y="441.90" font-size="6.3" text-anchor="middle" fill="#555555" stroke="#555555" stroke-width="0.12" stroke-opacity="0.6">GBM(1)</text>
<text x="570.40" y="442.20" font-size="6.3" text-anchor="middle" fill="#555555" stroke="#555555" stroke-width="0.12" stroke-opacity="0.6">BLCA(2)</text>
<text x="513.30" y="454.70" font-size="6.3" text-anchor="middle" fill="#555555" stroke="#555555" stroke-width="0.12" stroke-opacity="0.6">STAD(1)</text>
<text x="591.00" y="469.00" font-size="6.3" text-anchor="middle" fill="#555555" stroke="#555555" stroke-width="0.12" stroke-opacity="0.6">COAD</text>
<text x="591.20" y="475.70" font-size="6.3" text-anchor="middle" fill="#555555" stroke="#555555" stroke-width="0.12" stroke-opacity="0.6">(1)</text>
<text x="506.00" y="475.70" font-size="6.3" text-anchor="middle" fill="#555555" stroke="#555555" stroke-width="0.12" stroke-opacity="0.6">BRCA(1)</text>
<text x="585.10" y="498.00" font-size="6.3" text-anchor="middle" fill="#555555" stroke="#555555" stroke-width="0.12" stroke-opacity="0.6">UCEC</text>
<text x="585.10" y="504.40" font-size="6.3" text-anchor="middle" fill="#555555" stroke="#555555" stroke-width="0.12" stroke-opacity="0.6">(1)</text>
<text x="518.50" y="503.20" font-size="6.3" text-anchor="middle" fill="#555555" stroke="#555555" stroke-width="0.12" stroke-opacity="0.6">SKCM(2)</text>
<text x="561.90" y="512.00" font-size="6.3" text-anchor="middle" fill="#555555" stroke="#555555" stroke-width="0.12" stroke-opacity="0.6">ACC(1)</text>
<text x="641.00" y="433.00" font-size="9.75" text-anchor="middle" fill="#111" stroke="#111" stroke-width="0.12" stroke-opacity="0.6">MST2</text>
<circle cx="643.9000000000001" cy="475.1" r="31.0" fill="#000" opacity="0.2" filter="url(#shadow)"/>
<path d="M643.2,474.1 L643.20,443.10 A31.0,31.0 0 0 1 659.96,448.02 Z" fill="#c8c8c8" stroke="#c8c8c8" stroke-width="0.3"/>
<path d="M643.2,474.1 L659.96,448.02 A31.0,31.0 0 0 1 651.93,503.84 Z" fill="#ffd800" stroke="#ffd800" stroke-width="0.3"/>
<path d="M643.2,474.1 L651.93,503.84 A31.0,31.0 0 0 1 634.47,503.84 Z" fill="#70bdf0" stroke="#70bdf0" stroke-width="0.3"/>
<path d="M643.2,474.1 L634.47,503.84 A31.0,31.0 0 0 1 619.77,494.40 Z" fill="#2e78b8" stroke="#2e78b8" stroke-width="0.3"/>
<path d="M643.2,474.1 L619.77,494.40 A31.0,31.0 0 0 1 612.52,478.51 Z" fill="#8ab4ea" stroke="#8ab4ea" stroke-width="0.3"/>
<path d="M643.2,474.1 L612.52,478.51 A31.0,31.0 0 0 1 626.44,448.02 Z" fill="#a0d2f2" stroke="#a0d2f2" stroke-width="0.3"/>
<path d="M643.2,474.1 L626.44,448.02 A31.0,31.0 0 0 1 643.20,443.10 Z" fill="#a5a5a5" stroke="#a5a5a5" stroke-width="0.3"/>
<text x="626.60" y="442.60" font-size="6.3" text-anchor="middle" fill="#555555" stroke="#555555" stroke-width="0.12" stroke-opacity="0.6">LGG(1)</text>
<text x="659.20" y="442.60" font-size="6.3" text-anchor="middle" fill="#555555" stroke="#555555" stroke-width="0.12" stroke-opacity="0.6">TGCT(1)</text>
<text x="608.80" y="454.80" font-size="6.3" text-anchor="middle" fill="#555555" stroke="#555555" stroke-width="0.12" stroke-opacity="0.6">STAD</text>
<text x="608.80" y="461.00" font-size="6.3" text-anchor="middle" fill="#555555" stroke="#555555" stroke-width="0.12" stroke-opacity="0.6">(2)</text>
<text x="605.90" y="487.20" font-size="6.3" text-anchor="middle" fill="#555555" stroke="#555555" stroke-width="0.12" stroke-opacity="0.6">LIHC</text>
<text x="606.00" y="493.80" font-size="6.3" text-anchor="middle" fill="#555555" stroke="#555555" stroke-width="0.12" stroke-opacity="0.6">(1)</text>
<text x="617.00" y="506.90" font-size="6.3" text-anchor="middle" fill="#555555" stroke="#555555" stroke-width="0.12" stroke-opacity="0.6">SKCM</text>
<text x="617.00" y="513.10" font-size="6.3" text-anchor="middle" fill="#555555" stroke="#555555" stroke-width="0.12" stroke-opacity="0.6">(1)</text>
<text x="642.50" y="510.70" font-size="6.3" text-anchor="middle" fill="#555555" stroke="#555555" stroke-width="0.12" stroke-opacity="0.6">OV(1)</text>
<text x="670.60" y="503.90" font-size="6.3" text-anchor="middle" fill="#555555" stroke="#555555" stroke-width="0.12" stroke-opacity="0.6">UCEC</text>
<text x="670.60" y="510.20" font-size="6.3" text-anchor="middle" fill="#555555" stroke="#555555" stroke-width="0.12" stroke-opacity="0.6">(4)</text>
<text x="445.40" y="528.90" font-size="9.75" text-anchor="middle" fill="#111" stroke="#111" stroke-width="0.12" stroke-opacity="0.6">MAP4K2</text>
<circle cx="449.3" cy="571.3" r="31.0" fill="#000" opacity="0.2" filter="url(#shadow)"/>
<path d="M448.6,570.3 L448.60,539.30 A31.0,31.0 0 0 1 472.84,550.97 Z" fill="#f59a3c" stroke="#f59a3c" stroke-width="0.3"/>
<path d="M448.6,570.3 L472.84,550.97 A31.0,31.0 0 0 1 478.82,577.20 Z" fill="#ffd800" stroke="#ffd800" stroke-width="0.3"/>
<path d="M448.6,570.3 L478.82,577.20 A31.0,31.0 0 0 1 462.05,598.23 Z" fill="#88d060" stroke="#88d060" stroke-width="0.3"/>
<path d="M448.6,570.3 L462.05,598.23 A31.0,31.0 0 0 1 435.15,598.23 Z" fill="#2e78b8" stroke="#2e78b8" stroke-width="0.3"/>
<path d="M448.6,570.3 L435.15,598.23 A31.0,31.0 0 0 1 418.38,577.20 Z" fill="#8ab4ea" stroke="#8ab4ea" stroke-width="0.3"/>
<path d="M448.6,570.3 L418.38,577.20 A31.0,31.0 0 0 1 424.36,550.97 Z" fill="#f8bb7a" stroke="#f8bb7a" stroke-width="0.3"/>
<path d="M448.6,570.3 L424.36,550.97 A31.0,31.0 0 0 1 448.60,539.30 Z" fill="#fde04a" stroke="#fde04a" stroke-width="0.3"/>
<text x="426.70" y="539.20" font-size="6.3" text-anchor="middle" fill="#555555" stroke="#555555" stroke-width="0.12" stroke-opacity="0.6">BRCA(1)</text>
<text x="466.50" y="538.20" font-size="6.3" text-anchor="middle" fill="#555555" stroke="#555555" stroke-width="0.12" stroke-opacity="0.6">COAD(1)</text>
<text x="411.60" y="557.50" font-size="6.3" text-anchor="middle" fill="#555555" stroke="#555555" stroke-width="0.12" stroke-opacity="0.6">LUSC</text>
<text x="411.50" y="564.90" font-size="6.3" text-anchor="middle" fill="#555555" stroke="#555555" stroke-width="0.12" stroke-opacity="0.6">(1)</text>
<text x="484.50" y="556.40" font-size="6.3" text-anchor="middle" fill="#555555" stroke="#555555" stroke-width="0.12" stroke-opacity="0.6">UCEC</text>
<text x="484.90" y="562.80" font-size="6.3" text-anchor="middle" fill="#555555" stroke="#555555" stroke-width="0.12" stroke-opacity="0.6">(1)</text>
<text x="412.60" y="587.50" font-size="6.3" text-anchor="middle" fill="#555555" stroke="#555555" stroke-width="0.12" stroke-opacity="0.6">LIHC</text>
<text x="412.50" y="593.90" font-size="6.3" text-anchor="middle" fill="#555555" stroke="#555555" stroke-width="0.12" stroke-opacity="0.6">(1)</text>
<text x="476.70" y="598.50" font-size="6.3" text-anchor="middle" fill="#555555" stroke="#555555" stroke-width="0.12" stroke-opacity="0.6">CESC</text>
<text x="477.00" y="605.10" font-size="6.3" text-anchor="middle" fill="#555555" stroke="#555555" stroke-width="0.12" stroke-opacity="0.6">(1)</text>
<text x="445.00" y="606.70" font-size="6.3" text-anchor="middle" fill="#555555" stroke="#555555" stroke-width="0.12" stroke-opacity="0.6">SKCM(1)</text>
<text x="548.00" y="528.00" font-size="9.75" text-anchor="middle" fill="#111" stroke="#111" stroke-width="0.12" stroke-opacity="0.6">MAP4K3</text>
<circle cx="551.4000000000001" cy="572.0" r="31.0" fill="#000" opacity="0.2" filter="url(#shadow)"/>
<path d="M550.7,571.0 L550.70,540.00 A31.0,31.0 0 0 1 562.56,542.36 Z" fill="#5590e0" stroke="#5590e0" stroke-width="0.3"/>
<path d="M550.7,571.0 L562.56,542.36 A31.0,31.0 0 0 1 572.62,549.08 Z" fill="#f59a3c" stroke="#f59a3c" stroke-width="0.3"/>
<path d="M550.7,571.0 L572.62,549.08 A31.0,31.0 0 0 1 562.56,599.64 Z" fill="#ffd800" stroke="#ffd800" stroke-width="0.3"/>
<path d="M550.7,571.0 L562.56,599.64 A31.0,31.0 0 0 1 550.70,602.00 Z" fill="#70bdf0" stroke="#70bdf0" stroke-width="0.3"/>
<path d="M550.7,571.0 L550.70,602.00 A31.0,31.0 0 0 1 538.84,599.64 Z" fill="#284f90" stroke="#284f90" stroke-width="0.3"/>
<path d="M550.7,571.0 L538.84,599.64 A31.0,31.0 0 0 1 528.78,592.92 Z" fill="#c55a11" stroke="#c55a11" stroke-width="0.3"/>
<path d="M550.7,571.0 L528.78,592.92 A31.0,31.0 0 0 1 522.06,582.86 Z" fill="#2e78b8" stroke="#2e78b8" stroke-width="0.3"/>
<path d="M550.7,571.0 L522.06,582.86 A31.0,31.0 0 0 1 519.70,571.00 Z" fill="#f8bb7a" stroke="#f8bb7a" stroke-width="0.3"/>
<path d="M550.7,571.0 L519.70,571.00 A31.0,31.0 0 0 1 522.06,559.14 Z" fill="#d9d9d9" stroke="#d9d9d9" stroke-width="0.3"/>
<path d="M550.7,571.0 L522.06,559.14 A31.0,31.0 0 0 1 528.78,549.08 Z" fill="#fde04a" stroke="#fde04a" stroke-width="0.3"/>
<path d="M550.7,571.0 L528.78,549.08 A31.0,31.0 0 0 1 538.84,542.36 Z" fill="#aade7e" stroke="#aade7e" stroke-width="0.3"/>
<path d="M550.7,571.0 L538.84,542.36 A31.0,31.0 0 0 1 550.70,540.00 Z" fill="#4472c8" stroke="#4472c8" stroke-width="0.3"/>
<text x="536.40" y="537.50" font-size="6.3" text-anchor="middle" fill="#555555" stroke="#555555" stroke-width="0.12" stroke-opacity="0.6">HNSC(1)</text>
<text x="564.60" y="537.50" font-size="6.3" text-anchor="middle" fill="#555555" stroke="#555555" stroke-width="0.12" stroke-opacity="0.6">BLCA(1)</text>
<text x="519.80" y="544.80" font-size="6.3" text-anchor="middle" fill="#555555" stroke="#555555" stroke-width="0.12" stroke-opacity="0.6">ESCA(1)</text>
<text x="583.40" y="545.70" font-size="6.3" text-anchor="middle" fill="#555555" stroke="#555555" stroke-width="0.12" stroke-opacity="0.6">COAD(1)</text>
<text x="512.20" y="553.00" font-size="6.3" text-anchor="middle" fill="#555555" stroke="#555555" stroke-width="0.12" stroke-opacity="0.6">BRCA(1)</text>
<text x="511.70" y="563.30" font-size="6.3" text-anchor="middle" fill="#555555" stroke="#555555" stroke-width="0.12" stroke-opacity="0.6">LUAD</text>
<text x="511.60" y="569.30" font-size="6.3" text-anchor="middle" fill="#555555" stroke="#555555" stroke-width="0.12" stroke-opacity="0.6">(1)</text>
<text x="507.00" y="578.90" font-size="6.3" text-anchor="middle" fill="#555555" stroke="#555555" stroke-width="0.12" stroke-opacity="0.6">LUSC(1)</text>
<text x="510.20" y="590.70" font-size="6.3" text-anchor="middle" fill="#555555" stroke="#555555" stroke-width="0.12" stroke-opacity="0.6">SKCM(1)</text>
<text x="590.00" y="586.20" font-size="6.3" text-anchor="middle" fill="#555555" stroke="#555555" stroke-width="0.12" stroke-opacity="0.6">UCEC</text>
<text x="590.30" y="592.80" font-size="6.3" text-anchor="middle" fill="#555555" stroke="#555555" stroke-width="0.12" stroke-opacity="0.6">(5)</text>
<text x="520.20" y="600.20" font-size="6.3" text-anchor="middle" fill="#555555" stroke="#555555" stroke-width="0.12" stroke-opacity="0.6">KIRC(1)</text>
<text x="538.40" y="606.70" font-size="6.3" text-anchor="middle" fill="#555555" stroke="#555555" stroke-width="0.12" stroke-opacity="0.6">KIRP(1)</text>
<text x="561.30" y="606.70" font-size="6.3" text-anchor="middle" fill="#555555" stroke="#555555" stroke-width="0.12" stroke-opacity="0.6">OV(1)</text>
<text x="640.40" y="528.90" font-size="9.75" text-anchor="middle" fill="#111" stroke="#111" stroke-width="0.12" stroke-opacity="0.6">NF2</text>
<circle cx="643.9000000000001" cy="571.7" r="31.0" fill="#000" opacity="0.2" filter="url(#shadow)"/>
<path d="M643.2,570.7 L643.20,539.70 A31.0,31.0 0 0 1 670.05,555.20 Z" fill="#e8c000" stroke="#e8c000" stroke-width="0.3"/>
<path d="M643.2,570.7 L670.05,555.20 A31.0,31.0 0 1 1 643.20,539.70 Z" fill="#3f9de3" stroke="#3f9de3" stroke-width="0.3"/>
<text x="664.70" y="537.50" font-size="6.3" text-anchor="middle" fill="#555555" stroke="#555555" stroke-width="0.12" stroke-opacity="0.6">Schwannoma</text>
<text x="664.50" y="543.60" font-size="6.3" text-anchor="middle" fill="#555555" stroke="#555555" stroke-width="0.12" stroke-opacity="0.6">(1)</text>
<text x="631.40" y="606.70" font-size="6.3" text-anchor="middle" fill="#555555" stroke="#555555" stroke-width="0.12" stroke-opacity="0.6">Meningioma(5)</text>
</svg>
</body></html>
